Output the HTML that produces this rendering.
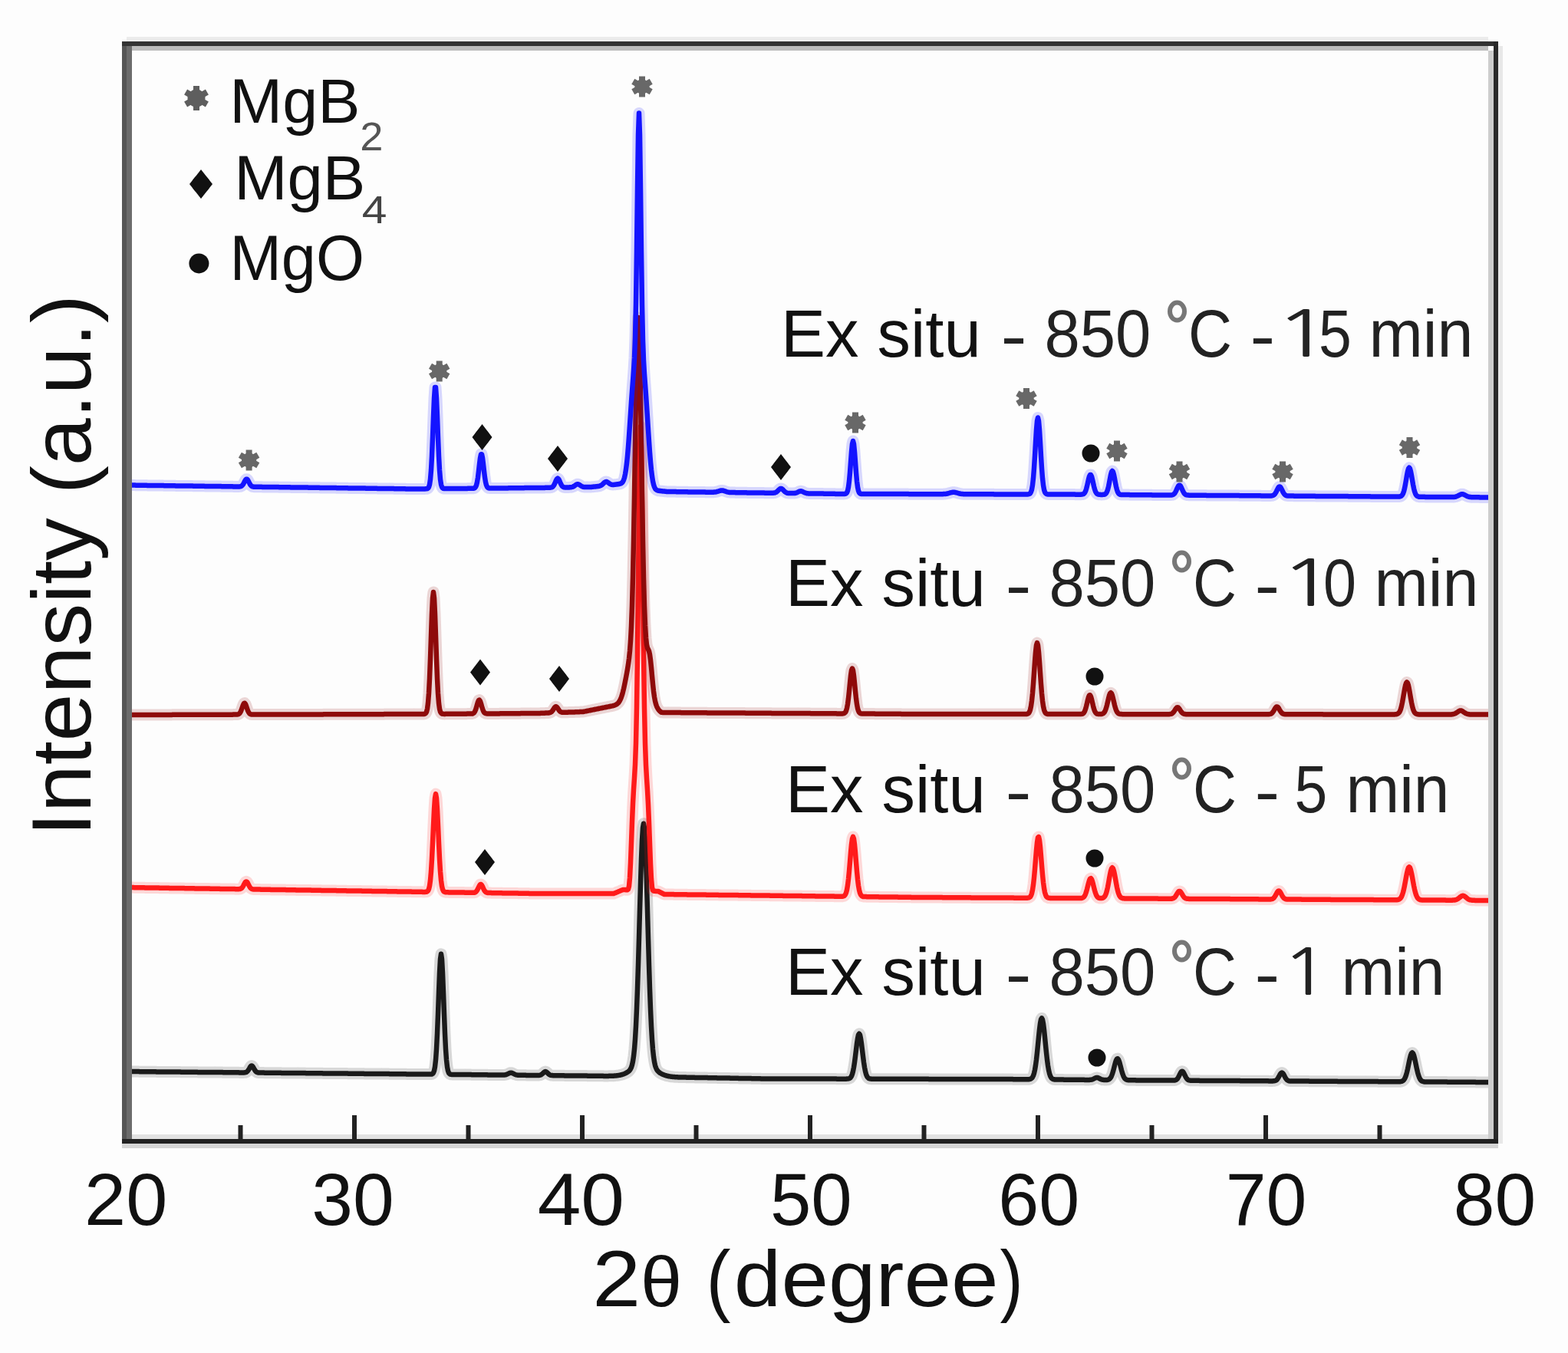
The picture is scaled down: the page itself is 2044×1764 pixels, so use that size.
<!DOCTYPE html>
<html><head><meta charset="utf-8"><title>XRD patterns</title>
<style>html,body{margin:0;padding:0;background:#fdfdfd;width:2044px;height:1764px;overflow:hidden}svg{display:block}</style>
</head><body>
<svg width="2044" height="1764" viewBox="0 0 2044 1764" font-family="'Liberation Sans', Arial, sans-serif"><rect x="0" y="0" width="2044" height="1764" fill="#fdfdfd"/><path d="M167 1397L168 1397 169 1397 170 1397 171 1397.1 172 1397.1 173 1397.1 174 1397.1 175 1397.1 176 1397.1 177 1397.1 178 1397.1 179 1397.1 180 1397.1 181 1397.1 182 1397.2 183 1397.2 184 1397.2 185 1397.2 186 1397.2 187 1397.2 188 1397.2 189 1397.2 190 1397.2 191 1397.2 192 1397.2 193 1397.3 194 1397.3 195 1397.3 196 1397.3 197 1397.3 198 1397.3 199 1397.3 200 1397.3 201 1397.3 202 1397.3 203 1397.3 204 1397.4 205 1397.4 206 1397.4 207 1397.4 208 1397.4 209 1397.4 210 1397.4 211 1397.4 212 1397.4 213 1397.4 214 1397.5 215 1397.5 216 1397.5 217 1397.5 218 1397.5 219 1397.5 220 1397.5 221 1397.5 222 1397.5 223 1397.5 224 1397.5 225 1397.6 226 1397.6 227 1397.6 228 1397.6 229 1397.6 230 1397.6 231 1397.6 232 1397.6 233 1397.6 234 1397.6 235 1397.6 236 1397.7 237 1397.7 238 1397.7 239 1397.7 240 1397.7 241 1397.7 242 1397.7 243 1397.7 244 1397.7 245 1397.7 246 1397.7 247 1397.8 248 1397.8 249 1397.8 250 1397.8 251 1397.8 252 1397.8 253 1397.8 254 1397.8 255 1397.8 256 1397.8 257 1397.8 258 1397.9 259 1397.9 260 1397.9 261 1397.9 262 1397.9 263 1397.9 264 1397.9 265 1397.9 266 1397.9 267 1397.9 268 1397.9 269 1398 270 1398 271 1398 272 1398 273 1398 274 1398 275 1398 276 1398 277 1398 278 1398 279 1398 280 1398.1 281 1398.1 282 1398.1 283 1398.1 284 1398.1 285 1398.1 286 1398.1 287 1398.1 288 1398.1 289 1398.1 290 1398.1 291 1398.2 292 1398.2 293 1398.2 294 1398.2 295 1398.2 296 1398.2 297 1398.2 298 1398.2 299 1398.2 300 1398.2 301 1398.3 302 1398.3 303 1398.3 304 1398.3 305 1398.3 306 1398.3 307 1398.3 308 1398.3 309 1398.3 310 1398.3 311 1398.3 312 1398.4 313 1398.4 314 1398.4 315 1398.4 316 1398.4 317 1398.4 318 1398.4 319 1398.3 320 1398.2 321 1397.9 322 1397.3 323 1396.3 324 1394.8 325 1393.1 326 1391.3 327 1390 328 1389.5 329 1390 330 1391.3 331 1393.1 332 1394.9 333 1396.4 334 1397.4 335 1398 336 1398.3 337 1398.5 338 1398.6 339 1398.6 340 1398.6 341 1398.6 342 1398.6 343 1398.6 344 1398.6 345 1398.7 346 1398.7 347 1398.7 348 1398.7 349 1398.7 350 1398.7 351 1398.7 352 1398.7 353 1398.7 354 1398.7 355 1398.7 356 1398.8 357 1398.8 358 1398.8 359 1398.8 360 1398.8 361 1398.8 362 1398.8 363 1398.8 364 1398.8 365 1398.8 366 1398.8 367 1398.9 368 1398.9 369 1398.9 370 1398.9 371 1398.9 372 1398.9 373 1398.9 374 1398.9 375 1398.9 376 1398.9 377 1398.9 378 1399 379 1399 380 1399 381 1399 382 1399 383 1399 384 1399 385 1399 386 1399 387 1399 388 1399.1 389 1399.1 390 1399.1 391 1399.1 392 1399.1 393 1399.1 394 1399.1 395 1399.1 396 1399.1 397 1399.1 398 1399.1 399 1399.2 400 1399.2 401 1399.2 402 1399.2 403 1399.2 404 1399.2 405 1399.2 406 1399.2 407 1399.2 408 1399.2 409 1399.2 410 1399.3 411 1399.3 412 1399.3 413 1399.3 414 1399.3 415 1399.3 416 1399.3 417 1399.3 418 1399.3 419 1399.3 420 1399.3 421 1399.4 422 1399.4 423 1399.4 424 1399.4 425 1399.4 426 1399.4 427 1399.4 428 1399.4 429 1399.4 430 1399.4 431 1399.4 432 1399.5 433 1399.5 434 1399.5 435 1399.5 436 1399.5 437 1399.5 438 1399.5 439 1399.5 440 1399.5 441 1399.5 442 1399.5 443 1399.6 444 1399.6 445 1399.6 446 1399.6 447 1399.6 448 1399.6 449 1399.6 450 1399.6 451 1399.6 452 1399.6 453 1399.6 454 1399.7 455 1399.7 456 1399.7 457 1399.7 458 1399.7 459 1399.7 460 1399.7 461 1399.7 462 1399.7 463 1399.7 464 1399.7 465 1399.8 466 1399.8 467 1399.8 468 1399.8 469 1399.8 470 1399.8 471 1399.8 472 1399.8 473 1399.8 474 1399.8 475 1399.9 476 1399.9 477 1399.9 478 1399.9 479 1399.9 480 1399.9 481 1399.9 482 1399.9 483 1399.9 484 1399.9 485 1399.9 486 1400 487 1400 488 1400 489 1400 490 1400 491 1400 492 1400 493 1400 494 1400 495 1400 496 1400 497 1400.1 498 1400.1 499 1400.1 500 1400.1 501 1400.1 502 1400.1 503 1400.1 504 1400.1 505 1400.1 506 1400.1 507 1400.1 508 1400.2 509 1400.2 510 1400.2 511 1400.2 512 1400.2 513 1400.2 514 1400.2 515 1400.2 516 1400.2 517 1400.2 518 1400.2 519 1400.3 520 1400.3 521 1400.3 522 1400.3 523 1400.3 524 1400.3 525 1400.3 526 1400.3 527 1400.3 528 1400.3 529 1400.3 530 1400.4 531 1400.4 532 1400.4 533 1400.4 534 1400.4 535 1400.4 536 1400.4 537 1400.4 538 1400.4 539 1400.4 540 1400.4 541 1400.5 542 1400.5 543 1400.5 544 1400.5 545 1400.5 546 1400.5 547 1400.5 548 1400.5 549 1400.5 550 1400.5 551 1400.5 552 1400.6 553 1400.6 554 1400.6 555 1400.6 556 1400.6 557 1400.6 558 1400.6 559 1400.6 560 1400.6 561 1400.6 562 1400.5 563 1400.4 564 1399.8 565 1398.6 566 1396 567 1390.9 568 1381.9 569 1367.7 570 1347.6 571 1322.2 572 1294.4 573 1268.7 574 1250.4 575 1243.8 576 1250.4 577 1268.8 578 1294.5 579 1322.3 580 1347.7 581 1367.8 582 1382 583 1391 584 1396.2 585 1398.8 586 1400 587 1400.6 588 1400.8 589 1400.9 590 1400.9 591 1400.9 592 1400.9 593 1400.9 594 1400.9 595 1401 596 1401 597 1401 598 1401 599 1401 600 1401 601 1401 602 1401 603 1401 604 1401 605 1401 606 1401.1 607 1401.1 608 1401.1 609 1401.1 610 1401.1 611 1401.1 612 1401.1 613 1401.1 614 1401.1 615 1401.2 616 1401.2 617 1401.2 618 1401.2 619 1401.2 620 1401.2 621 1401.2 622 1401.2 623 1401.2 624 1401.2 625 1401.2 626 1401.3 627 1401.3 628 1401.3 629 1401.3 630 1401.3 631 1401.3 632 1401.3 633 1401.3 634 1401.3 635 1401.3 636 1401.4 637 1401.4 638 1401.4 639 1401.4 640 1401.4 641 1401.4 642 1401.4 643 1401.4 644 1401.4 645 1401.4 646 1401.5 647 1401.5 648 1401.5 649 1401.5 650 1401.5 651 1401.5 652 1401.5 653 1401.5 654 1401.5 655 1401.5 656 1401.5 657 1401.5 658 1401.4 659 1401.2 660 1401 661 1400.6 662 1400.1 663 1399.6 664 1399.1 665 1398.8 666 1398.7 667 1398.8 668 1399.2 669 1399.7 670 1400.2 671 1400.7 672 1401.1 673 1401.4 674 1401.6 675 1401.7 676 1401.7 677 1401.8 678 1401.8 679 1401.8 680 1401.8 681 1401.8 682 1401.8 683 1401.8 684 1401.8 685 1401.8 686 1401.9 687 1401.9 688 1401.9 689 1401.9 690 1401.9 691 1401.9 692 1401.9 693 1401.9 694 1401.9 695 1401.9 696 1402 697 1402 698 1402 699 1402 700 1402 701 1402 702 1402 703 1401.9 704 1401.7 705 1401.4 706 1400.8 707 1400 708 1399.1 709 1398.1 710 1397.4 711 1397.1 712 1397.4 713 1398.1 714 1399.1 715 1400.1 716 1400.9 717 1401.5 718 1401.9 719 1402.1 720 1402.1 721 1402.2 722 1402.2 723 1402.2 724 1402.2 725 1402.2 726 1402.3 727 1402.3 728 1402.3 729 1402.3 730 1402.3 731 1402.3 732 1402.3 733 1402.3 734 1402.3 735 1402.3 736 1402.4 737 1402.4 738 1402.4 739 1402.4 740 1402.4 741 1402.4 742 1402.4 743 1402.4 744 1402.4 745 1402.4 746 1402.5 747 1402.5 748 1402.5 749 1402.5 750 1402.5 751 1402.5 752 1402.5 753 1402.5 754 1402.5 755 1402.5 756 1402.6 757 1402.6 758 1402.6 759 1402.6 760 1402.6 761 1402.6 762 1402.6 763 1402.6 764 1402.6 765 1402.6 766 1402.7 767 1402.7 768 1402.7 769 1402.7 770 1402.7 771 1402.7 772 1402.7 773 1402.7 774 1402.7 775 1402.7 776 1402.8 777 1402.8 778 1402.8 779 1402.8 780 1402.8 781 1402.8 782 1402.8 783 1402.8 784 1402.8 785 1402.8 786 1402.8 787 1402.9 788 1402.9 789 1402.9 790 1402.9 791 1402.9 792 1402.9 793 1402.9 794 1402.8 795 1402.8 796 1402.8 797 1402.8 798 1402.8 799 1402.7 800 1402.7 801 1402.6 802 1402.5 803 1402.4 804 1402.3 805 1402.2 806 1402.1 807 1401.9 808 1401.7 809 1401.5 810 1401.2 811 1401 812 1400.6 813 1400.3 814 1399.9 815 1399.4 816 1399 817 1398.4 818 1397.8 819 1397.1 820 1396.3 821 1395.1 822 1393.6 823 1391.5 824 1388.3 825 1383.7 826 1377.1 827 1367.7 828 1354.7 829 1337.6 830 1315.6 831 1288.8 832 1257.6 833 1223 834 1186.9 835 1151.8 836 1120.3 837 1095.3 838 1079.2 839 1073.7 840 1079.3 841 1095.4 842 1120.4 843 1151.9 844 1187.1 845 1223.2 846 1257.8 847 1289.1 848 1315.9 849 1337.9 850 1355.1 851 1368.1 852 1377.6 853 1384.2 854 1388.9 855 1392 856 1394.2 857 1395.8 858 1396.9 859 1397.8 860 1398.6 861 1399.2 862 1399.8 863 1400.3 864 1400.8 865 1401.2 866 1401.6 867 1401.9 868 1402.3 869 1402.5 870 1402.8 871 1403 872 1403.2 873 1403.4 874 1403.6 875 1403.7 876 1403.8 877 1403.9 878 1404 879 1404.1 880 1404.2 881 1404.2 882 1404.3 883 1404.3 884 1404.4 885 1404.4 886 1404.4 887 1404.5 888 1404.5 889 1404.5 890 1404.6 891 1404.6 892 1404.6 893 1404.6 894 1404.6 895 1404.7 896 1404.7 897 1404.7 898 1404.7 899 1404.7 900 1404.7 901 1404.8 902 1404.8 903 1404.8 904 1404.8 905 1404.8 906 1404.9 907 1404.9 908 1404.9 909 1404.9 910 1404.9 911 1404.9 912 1405 913 1405 914 1405 915 1405 916 1405 917 1405 918 1405.1 919 1405.1 920 1405.1 921 1405.1 922 1405.1 923 1405.2 924 1405.2 925 1405.2 926 1405.2 927 1405.2 928 1405.2 929 1405.3 930 1405.3 931 1405.3 932 1405.3 933 1405.3 934 1405.3 935 1405.4 936 1405.4 937 1405.4 938 1405.4 939 1405.4 940 1405.4 941 1405.5 942 1405.5 943 1405.5 944 1405.5 945 1405.5 946 1405.6 947 1405.6 948 1405.6 949 1405.6 950 1405.6 951 1405.6 952 1405.7 953 1405.7 954 1405.7 955 1405.7 956 1405.7 957 1405.7 958 1405.8 959 1405.8 960 1405.8 961 1405.8 962 1405.8 963 1405.9 964 1405.9 965 1405.9 966 1405.9 967 1405.9 968 1405.9 969 1406 970 1406 971 1406 972 1406 973 1406 974 1406 975 1406.1 976 1406.1 977 1406.1 978 1406.1 979 1406.1 980 1406.2 981 1406.2 982 1406.2 983 1406.2 984 1406.2 985 1406.2 986 1406.3 987 1406.3 988 1406.3 989 1406.3 990 1406.3 991 1406.3 992 1406.4 993 1406.4 994 1406.4 995 1406.4 996 1406.4 997 1406.4 998 1406.5 999 1406.5 1000 1406.5 1001 1406.5 1002 1406.5 1003 1406.5 1004 1406.5 1005 1406.5 1006 1406.5 1007 1406.5 1008 1406.5 1009 1406.5 1010 1406.5 1011 1406.5 1012 1406.5 1013 1406.5 1014 1406.5 1015 1406.5 1016 1406.5 1017 1406.5 1018 1406.5 1019 1406.5 1020 1406.5 1021 1406.5 1022 1406.5 1023 1406.5 1024 1406.5 1025 1406.5 1026 1406.5 1027 1406.5 1028 1406.5 1029 1406.5 1030 1406.5 1031 1406.6 1032 1406.6 1033 1406.6 1034 1406.6 1035 1406.6 1036 1406.6 1037 1406.6 1038 1406.6 1039 1406.6 1040 1406.6 1041 1406.6 1042 1406.6 1043 1406.6 1044 1406.6 1045 1406.6 1046 1406.6 1047 1406.6 1048 1406.6 1049 1406.6 1050 1406.6 1051 1406.6 1052 1406.6 1053 1406.6 1054 1406.6 1055 1406.6 1056 1406.6 1057 1406.6 1058 1406.6 1059 1406.6 1060 1406.6 1061 1406.6 1062 1406.6 1063 1406.6 1064 1406.6 1065 1406.6 1066 1406.6 1067 1406.6 1068 1406.6 1069 1406.6 1070 1406.6 1071 1406.6 1072 1406.6 1073 1406.6 1074 1406.6 1075 1406.6 1076 1406.6 1077 1406.6 1078 1406.6 1079 1406.6 1080 1406.6 1081 1406.6 1082 1406.6 1083 1406.6 1084 1406.6 1085 1406.6 1086 1406.6 1087 1406.6 1088 1406.6 1089 1406.6 1090 1406.6 1091 1406.7 1092 1406.7 1093 1406.7 1094 1406.7 1095 1406.7 1096 1406.7 1097 1406.7 1098 1406.7 1099 1406.7 1100 1406.7 1101 1406.7 1102 1406.7 1103 1406.7 1104 1406.6 1105 1406.6 1106 1406.4 1107 1406.1 1108 1405.6 1109 1404.6 1110 1403 1111 1400.4 1112 1396.7 1113 1391.5 1114 1384.9 1115 1377.2 1116 1368.8 1117 1360.7 1118 1353.9 1119 1349.3 1120 1347.7 1121 1349.3 1122 1353.9 1123 1360.7 1124 1368.8 1125 1377.2 1126 1385 1127 1391.5 1128 1396.7 1129 1400.5 1130 1403 1131 1404.7 1132 1405.6 1133 1406.2 1134 1406.5 1135 1406.6 1136 1406.7 1137 1406.7 1138 1406.7 1139 1406.7 1140 1406.7 1141 1406.7 1142 1406.7 1143 1406.7 1144 1406.7 1145 1406.7 1146 1406.7 1147 1406.7 1148 1406.7 1149 1406.7 1150 1406.7 1151 1406.8 1152 1406.8 1153 1406.8 1154 1406.8 1155 1406.8 1156 1406.8 1157 1406.8 1158 1406.8 1159 1406.8 1160 1406.8 1161 1406.8 1162 1406.8 1163 1406.8 1164 1406.8 1165 1406.8 1166 1406.8 1167 1406.8 1168 1406.8 1169 1406.8 1170 1406.8 1171 1406.8 1172 1406.8 1173 1406.8 1174 1406.8 1175 1406.8 1176 1406.8 1177 1406.8 1178 1406.8 1179 1406.8 1180 1406.8 1181 1406.8 1182 1406.8 1183 1406.8 1184 1406.8 1185 1406.8 1186 1406.8 1187 1406.8 1188 1406.8 1189 1406.8 1190 1406.8 1191 1406.8 1192 1406.8 1193 1406.8 1194 1406.8 1195 1406.8 1196 1406.8 1197 1406.8 1198 1406.8 1199 1406.8 1200 1406.8 1201 1406.8 1202 1406.8 1203 1406.8 1204 1406.8 1205 1406.8 1206 1406.8 1207 1406.8 1208 1406.8 1209 1406.8 1210 1406.8 1211 1406.9 1212 1406.9 1213 1406.9 1214 1406.9 1215 1406.9 1216 1406.9 1217 1406.9 1218 1406.9 1219 1406.9 1220 1406.9 1221 1406.9 1222 1406.9 1223 1406.9 1224 1406.9 1225 1406.9 1226 1406.9 1227 1406.9 1228 1406.9 1229 1406.9 1230 1406.9 1231 1406.9 1232 1406.9 1233 1406.9 1234 1406.9 1235 1406.9 1236 1406.9 1237 1406.9 1238 1406.9 1239 1406.9 1240 1406.9 1241 1406.9 1242 1406.9 1243 1406.9 1244 1406.9 1245 1406.9 1246 1406.9 1247 1406.9 1248 1406.9 1249 1406.9 1250 1406.9 1251 1406.9 1252 1406.9 1253 1406.9 1254 1406.9 1255 1406.9 1256 1406.9 1257 1406.9 1258 1406.9 1259 1406.9 1260 1406.9 1261 1406.9 1262 1406.9 1263 1406.9 1264 1406.9 1265 1406.9 1266 1406.9 1267 1406.9 1268 1406.9 1269 1406.9 1270 1407 1271 1407 1272 1407 1273 1407 1274 1407 1275 1407 1276 1407 1277 1407 1278 1407 1279 1407 1280 1407 1281 1407 1282 1407 1283 1407 1284 1407 1285 1407 1286 1407 1287 1407 1288 1407 1289 1407 1290 1407 1291 1407 1292 1407 1293 1407 1294 1407 1295 1407 1296 1407 1297 1407 1298 1407 1299 1407 1300 1407 1301 1407 1302 1407 1303 1407 1304 1407 1305 1407 1306 1407 1307 1407.1 1308 1407.1 1309 1407.1 1310 1407.1 1311 1407.1 1312 1407.1 1313 1407.1 1314 1407.1 1315 1407.1 1316 1407.1 1317 1407.1 1318 1407.1 1319 1407.1 1320 1407.1 1321 1407.2 1322 1407.2 1323 1407.2 1324 1407.2 1325 1407.2 1326 1407.2 1327 1407.2 1328 1407.2 1329 1407.2 1330 1407.2 1331 1407.2 1332 1407.2 1333 1407.2 1334 1407.3 1335 1407.3 1336 1407.3 1337 1407.3 1338 1407.3 1339 1407.3 1340 1407.3 1341 1407.2 1342 1407.1 1343 1406.9 1344 1406.4 1345 1405.7 1346 1404.4 1347 1402.4 1348 1399.3 1349 1394.9 1350 1388.9 1351 1381.4 1352 1372.3 1353 1362.3 1354 1352 1355 1342.3 1356 1334.4 1357 1329.2 1358 1327.4 1359 1329.3 1360 1334.5 1361 1342.4 1362 1352 1363 1362.4 1364 1372.4 1365 1381.5 1366 1389 1367 1395 1368 1399.4 1369 1402.5 1370 1404.6 1371 1405.9 1372 1406.6 1373 1407.1 1374 1407.3 1375 1407.5 1376 1407.5 1377 1407.6 1378 1407.6 1379 1407.6 1380 1407.6 1381 1407.6 1382 1407.6 1383 1407.6 1384 1407.6 1385 1407.6 1386 1407.6 1387 1407.7 1388 1407.7 1389 1407.7 1390 1407.7 1391 1407.7 1392 1407.7 1393 1407.7 1394 1407.7 1395 1407.7 1396 1407.7 1397 1407.7 1398 1407.7 1399 1407.7 1400 1407.8 1401 1407.8 1402 1407.8 1403 1407.8 1404 1407.8 1405 1407.8 1406 1407.8 1407 1407.8 1408 1407.8 1409 1407.8 1410 1407.8 1411 1407.8 1412 1407.8 1413 1407.8 1414 1407.9 1415 1407.9 1416 1407.9 1417 1407.9 1418 1407.9 1419 1407.9 1420 1407.9 1421 1407.8 1422 1407.7 1423 1407.6 1424 1407.3 1425 1406.9 1426 1406.4 1427 1405.9 1428 1405.4 1429 1405.1 1430 1405 1431 1405.1 1432 1405.5 1433 1406 1434 1406.5 1435 1407 1436 1407.4 1437 1407.7 1438 1407.8 1439 1407.9 1440 1408 1441 1408 1442 1408 1443 1407.9 1444 1407.8 1445 1407.5 1446 1406.9 1447 1406 1448 1404.7 1449 1402.7 1450 1400.1 1451 1396.8 1452 1393 1453 1389 1454 1385.3 1455 1382.3 1456 1380.5 1457 1380.2 1458 1381.5 1459 1384 1460 1387.5 1461 1391.4 1462 1395.4 1463 1398.9 1464 1401.8 1465 1404.1 1466 1405.7 1467 1406.8 1468 1407.4 1469 1407.8 1470 1408.1 1471 1408.2 1472 1408.2 1473 1408.3 1474 1408.3 1475 1408.3 1476 1408.3 1477 1408.3 1478 1408.3 1479 1408.3 1480 1408.3 1481 1408.4 1482 1408.4 1483 1408.4 1484 1408.4 1485 1408.4 1486 1408.4 1487 1408.4 1488 1408.4 1489 1408.4 1490 1408.4 1491 1408.4 1492 1408.4 1493 1408.4 1494 1408.5 1495 1408.5 1496 1408.5 1497 1408.5 1498 1408.5 1499 1408.5 1500 1408.5 1501 1408.5 1502 1408.5 1503 1408.5 1504 1408.5 1505 1408.5 1506 1408.5 1507 1408.5 1508 1408.5 1509 1408.5 1510 1408.6 1511 1408.6 1512 1408.6 1513 1408.6 1514 1408.6 1515 1408.6 1516 1408.6 1517 1408.6 1518 1408.6 1519 1408.6 1520 1408.6 1521 1408.6 1522 1408.6 1523 1408.6 1524 1408.6 1525 1408.6 1526 1408.6 1527 1408.6 1528 1408.6 1529 1408.6 1530 1408.6 1531 1408.5 1532 1408.3 1533 1407.9 1534 1407.3 1535 1406.2 1536 1404.6 1537 1402.7 1538 1400.6 1539 1398.6 1540 1397.2 1541 1396.7 1542 1397.2 1543 1398.6 1544 1400.6 1545 1402.8 1546 1404.7 1547 1406.2 1548 1407.3 1549 1408 1550 1408.4 1551 1408.6 1552 1408.7 1553 1408.8 1554 1408.8 1555 1408.8 1556 1408.8 1557 1408.8 1558 1408.8 1559 1408.8 1560 1408.8 1561 1408.8 1562 1408.8 1563 1408.8 1564 1408.9 1565 1408.9 1566 1408.9 1567 1408.9 1568 1408.9 1569 1408.9 1570 1408.9 1571 1408.9 1572 1408.9 1573 1408.9 1574 1408.9 1575 1408.9 1576 1408.9 1577 1408.9 1578 1408.9 1579 1408.9 1580 1408.9 1581 1409 1582 1409 1583 1409 1584 1409 1585 1409 1586 1409 1587 1409 1588 1409 1589 1409 1590 1409 1591 1409 1592 1409 1593 1409 1594 1409 1595 1409 1596 1409 1597 1409 1598 1409 1599 1409 1600 1409.1 1601 1409.1 1602 1409.1 1603 1409.1 1604 1409.1 1605 1409.1 1606 1409.1 1607 1409.1 1608 1409.1 1609 1409.1 1610 1409.1 1611 1409.1 1612 1409.1 1613 1409.1 1614 1409.1 1615 1409.1 1616 1409.1 1617 1409.2 1618 1409.2 1619 1409.2 1620 1409.2 1621 1409.2 1622 1409.2 1623 1409.2 1624 1409.2 1625 1409.2 1626 1409.2 1627 1409.2 1628 1409.2 1629 1409.2 1630 1409.2 1631 1409.2 1632 1409.2 1633 1409.2 1634 1409.2 1635 1409.2 1636 1409.3 1637 1409.3 1638 1409.3 1639 1409.3 1640 1409.3 1641 1409.3 1642 1409.3 1643 1409.3 1644 1409.3 1645 1409.3 1646 1409.3 1647 1409.3 1648 1409.3 1649 1409.3 1650 1409.3 1651 1409.3 1652 1409.3 1653 1409.3 1654 1409.4 1655 1409.4 1656 1409.4 1657 1409.4 1658 1409.4 1659 1409.4 1660 1409.3 1661 1409.2 1662 1409.1 1663 1408.7 1664 1408.1 1665 1407.1 1666 1405.7 1667 1403.9 1668 1402 1669 1400.2 1670 1398.9 1671 1398.5 1672 1398.9 1673 1400.2 1674 1402 1675 1404 1676 1405.8 1677 1407.2 1678 1408.2 1679 1408.8 1680 1409.2 1681 1409.4 1682 1409.5 1683 1409.5 1684 1409.5 1685 1409.5 1686 1409.5 1687 1409.5 1688 1409.5 1689 1409.5 1690 1409.6 1691 1409.6 1692 1409.6 1693 1409.6 1694 1409.6 1695 1409.6 1696 1409.6 1697 1409.6 1698 1409.6 1699 1409.6 1700 1409.6 1701 1409.6 1702 1409.6 1703 1409.6 1704 1409.6 1705 1409.6 1706 1409.6 1707 1409.7 1708 1409.7 1709 1409.7 1710 1409.7 1711 1409.7 1712 1409.7 1713 1409.7 1714 1409.7 1715 1409.7 1716 1409.7 1717 1409.7 1718 1409.7 1719 1409.7 1720 1409.7 1721 1409.7 1722 1409.7 1723 1409.7 1724 1409.7 1725 1409.8 1726 1409.8 1727 1409.8 1728 1409.8 1729 1409.8 1730 1409.8 1731 1409.8 1732 1409.8 1733 1409.8 1734 1409.8 1735 1409.8 1736 1409.8 1737 1409.8 1738 1409.8 1739 1409.8 1740 1409.8 1741 1409.8 1742 1409.8 1743 1409.8 1744 1409.9 1745 1409.9 1746 1409.9 1747 1409.9 1748 1409.9 1749 1409.9 1750 1409.9 1751 1409.9 1752 1409.9 1753 1409.9 1754 1409.9 1755 1409.9 1756 1409.9 1757 1409.9 1758 1409.9 1759 1409.9 1760 1409.9 1761 1410 1762 1410 1763 1410 1764 1410 1765 1410 1766 1410 1767 1410 1768 1410 1769 1410 1770 1410 1771 1410 1772 1410 1773 1410 1774 1410 1775 1410 1776 1410 1777 1410 1778 1410 1779 1410 1780 1410.1 1781 1410.1 1782 1410.1 1783 1410.1 1784 1410.1 1785 1410.1 1786 1410.1 1787 1410.1 1788 1410.1 1789 1410.1 1790 1410.1 1791 1410.1 1792 1410.1 1793 1410.1 1794 1410.1 1795 1410.1 1796 1410.1 1797 1410.2 1798 1410.2 1799 1410.2 1800 1410.2 1801 1410.2 1802 1410.2 1803 1410.2 1804 1410.2 1805 1410.2 1806 1410.2 1807 1410.2 1808 1410.2 1809 1410.2 1810 1410.2 1811 1410.2 1812 1410.2 1813 1410.2 1814 1410.2 1815 1410.2 1816 1410.3 1817 1410.3 1818 1410.3 1819 1410.3 1820 1410.3 1821 1410.3 1822 1410.3 1823 1410.3 1824 1410.2 1825 1410.2 1826 1410.1 1827 1409.9 1828 1409.5 1829 1408.9 1830 1408 1831 1406.5 1832 1404.4 1833 1401.6 1834 1398 1835 1393.7 1836 1388.9 1837 1384 1838 1379.5 1839 1375.7 1840 1373.2 1841 1372.4 1842 1373.3 1843 1375.7 1844 1379.5 1845 1384.1 1846 1389 1847 1393.8 1848 1398.1 1849 1401.7 1850 1404.5 1851 1406.6 1852 1408.1 1853 1409.1 1854 1409.7 1855 1410 1856 1410.3 1857 1410.4 1858 1410.4 1859 1410.5 1860 1410.5 1861 1410.5 1862 1410.5 1863 1410.5 1864 1410.5 1865 1410.5 1866 1410.5 1867 1410.5 1868 1410.5 1869 1410.5 1870 1410.6 1871 1410.6 1872 1410.6 1873 1410.6 1874 1410.6 1875 1410.6 1876 1410.6 1877 1410.6 1878 1410.6 1879 1410.6 1880 1410.6 1881 1410.6 1882 1410.6 1883 1410.6 1884 1410.6 1885 1410.6 1886 1410.6 1887 1410.7 1888 1410.7 1889 1410.7 1890 1410.7 1891 1410.7 1892 1410.7 1893 1410.7 1894 1410.7 1895 1410.7 1896 1410.7 1897 1410.7 1898 1410.7 1899 1410.7 1900 1410.7 1901 1410.7 1902 1410.7 1903 1410.7 1904 1410.7 1905 1410.8 1906 1410.8 1907 1410.8 1908 1410.8 1909 1410.8 1910 1410.8 1911 1410.8 1912 1410.8 1913 1410.8 1914 1410.8 1915 1410.8 1916 1410.8 1917 1410.8 1918 1410.8 1919 1410.8 1920 1410.8 1921 1410.8 1922 1410.8 1923 1410.8 1924 1410.9 1925 1410.9 1926 1410.9 1927 1410.9 1928 1410.9 1929 1410.9 1930 1410.9 1931 1410.9 1932 1410.9 1933 1410.9 1934 1410.9 1935 1410.9 1936 1410.9 1937 1410.9 1938 1410.9 1939 1410.9 1940 1410.9 1941 1411 1942 1411 1943 1411 1944 1411 1945 1411 1946 1411" fill="none" stroke="#1a1a1a" stroke-opacity="0.16" stroke-width="15" stroke-linejoin="round"/><path d="M167 1397L168 1397 169 1397 170 1397 171 1397.1 172 1397.1 173 1397.1 174 1397.1 175 1397.1 176 1397.1 177 1397.1 178 1397.1 179 1397.1 180 1397.1 181 1397.1 182 1397.2 183 1397.2 184 1397.2 185 1397.2 186 1397.2 187 1397.2 188 1397.2 189 1397.2 190 1397.2 191 1397.2 192 1397.2 193 1397.3 194 1397.3 195 1397.3 196 1397.3 197 1397.3 198 1397.3 199 1397.3 200 1397.3 201 1397.3 202 1397.3 203 1397.3 204 1397.4 205 1397.4 206 1397.4 207 1397.4 208 1397.4 209 1397.4 210 1397.4 211 1397.4 212 1397.4 213 1397.4 214 1397.5 215 1397.5 216 1397.5 217 1397.5 218 1397.5 219 1397.5 220 1397.5 221 1397.5 222 1397.5 223 1397.5 224 1397.5 225 1397.6 226 1397.6 227 1397.6 228 1397.6 229 1397.6 230 1397.6 231 1397.6 232 1397.6 233 1397.6 234 1397.6 235 1397.6 236 1397.7 237 1397.7 238 1397.7 239 1397.7 240 1397.7 241 1397.7 242 1397.7 243 1397.7 244 1397.7 245 1397.7 246 1397.7 247 1397.8 248 1397.8 249 1397.8 250 1397.8 251 1397.8 252 1397.8 253 1397.8 254 1397.8 255 1397.8 256 1397.8 257 1397.8 258 1397.9 259 1397.9 260 1397.9 261 1397.9 262 1397.9 263 1397.9 264 1397.9 265 1397.9 266 1397.9 267 1397.9 268 1397.9 269 1398 270 1398 271 1398 272 1398 273 1398 274 1398 275 1398 276 1398 277 1398 278 1398 279 1398 280 1398.1 281 1398.1 282 1398.1 283 1398.1 284 1398.1 285 1398.1 286 1398.1 287 1398.1 288 1398.1 289 1398.1 290 1398.1 291 1398.2 292 1398.2 293 1398.2 294 1398.2 295 1398.2 296 1398.2 297 1398.2 298 1398.2 299 1398.2 300 1398.2 301 1398.3 302 1398.3 303 1398.3 304 1398.3 305 1398.3 306 1398.3 307 1398.3 308 1398.3 309 1398.3 310 1398.3 311 1398.3 312 1398.4 313 1398.4 314 1398.4 315 1398.4 316 1398.4 317 1398.4 318 1398.4 319 1398.3 320 1398.2 321 1397.9 322 1397.3 323 1396.3 324 1394.8 325 1393.1 326 1391.3 327 1390 328 1389.5 329 1390 330 1391.3 331 1393.1 332 1394.9 333 1396.4 334 1397.4 335 1398 336 1398.3 337 1398.5 338 1398.6 339 1398.6 340 1398.6 341 1398.6 342 1398.6 343 1398.6 344 1398.6 345 1398.7 346 1398.7 347 1398.7 348 1398.7 349 1398.7 350 1398.7 351 1398.7 352 1398.7 353 1398.7 354 1398.7 355 1398.7 356 1398.8 357 1398.8 358 1398.8 359 1398.8 360 1398.8 361 1398.8 362 1398.8 363 1398.8 364 1398.8 365 1398.8 366 1398.8 367 1398.9 368 1398.9 369 1398.9 370 1398.9 371 1398.9 372 1398.9 373 1398.9 374 1398.9 375 1398.9 376 1398.9 377 1398.9 378 1399 379 1399 380 1399 381 1399 382 1399 383 1399 384 1399 385 1399 386 1399 387 1399 388 1399.1 389 1399.1 390 1399.1 391 1399.1 392 1399.1 393 1399.1 394 1399.1 395 1399.1 396 1399.1 397 1399.1 398 1399.1 399 1399.2 400 1399.2 401 1399.2 402 1399.2 403 1399.2 404 1399.2 405 1399.2 406 1399.2 407 1399.2 408 1399.2 409 1399.2 410 1399.3 411 1399.3 412 1399.3 413 1399.3 414 1399.3 415 1399.3 416 1399.3 417 1399.3 418 1399.3 419 1399.3 420 1399.3 421 1399.4 422 1399.4 423 1399.4 424 1399.4 425 1399.4 426 1399.4 427 1399.4 428 1399.4 429 1399.4 430 1399.4 431 1399.4 432 1399.5 433 1399.5 434 1399.5 435 1399.5 436 1399.5 437 1399.5 438 1399.5 439 1399.5 440 1399.5 441 1399.5 442 1399.5 443 1399.6 444 1399.6 445 1399.6 446 1399.6 447 1399.6 448 1399.6 449 1399.6 450 1399.6 451 1399.6 452 1399.6 453 1399.6 454 1399.7 455 1399.7 456 1399.7 457 1399.7 458 1399.7 459 1399.7 460 1399.7 461 1399.7 462 1399.7 463 1399.7 464 1399.7 465 1399.8 466 1399.8 467 1399.8 468 1399.8 469 1399.8 470 1399.8 471 1399.8 472 1399.8 473 1399.8 474 1399.8 475 1399.9 476 1399.9 477 1399.9 478 1399.9 479 1399.9 480 1399.9 481 1399.9 482 1399.9 483 1399.9 484 1399.9 485 1399.9 486 1400 487 1400 488 1400 489 1400 490 1400 491 1400 492 1400 493 1400 494 1400 495 1400 496 1400 497 1400.1 498 1400.1 499 1400.1 500 1400.1 501 1400.1 502 1400.1 503 1400.1 504 1400.1 505 1400.1 506 1400.1 507 1400.1 508 1400.2 509 1400.2 510 1400.2 511 1400.2 512 1400.2 513 1400.2 514 1400.2 515 1400.2 516 1400.2 517 1400.2 518 1400.2 519 1400.3 520 1400.3 521 1400.3 522 1400.3 523 1400.3 524 1400.3 525 1400.3 526 1400.3 527 1400.3 528 1400.3 529 1400.3 530 1400.4 531 1400.4 532 1400.4 533 1400.4 534 1400.4 535 1400.4 536 1400.4 537 1400.4 538 1400.4 539 1400.4 540 1400.4 541 1400.5 542 1400.5 543 1400.5 544 1400.5 545 1400.5 546 1400.5 547 1400.5 548 1400.5 549 1400.5 550 1400.5 551 1400.5 552 1400.6 553 1400.6 554 1400.6 555 1400.6 556 1400.6 557 1400.6 558 1400.6 559 1400.6 560 1400.6 561 1400.6 562 1400.5 563 1400.4 564 1399.8 565 1398.6 566 1396 567 1390.9 568 1381.9 569 1367.7 570 1347.6 571 1322.2 572 1294.4 573 1268.7 574 1250.4 575 1243.8 576 1250.4 577 1268.8 578 1294.5 579 1322.3 580 1347.7 581 1367.8 582 1382 583 1391 584 1396.2 585 1398.8 586 1400 587 1400.6 588 1400.8 589 1400.9 590 1400.9 591 1400.9 592 1400.9 593 1400.9 594 1400.9 595 1401 596 1401 597 1401 598 1401 599 1401 600 1401 601 1401 602 1401 603 1401 604 1401 605 1401 606 1401.1 607 1401.1 608 1401.1 609 1401.1 610 1401.1 611 1401.1 612 1401.1 613 1401.1 614 1401.1 615 1401.2 616 1401.2 617 1401.2 618 1401.2 619 1401.2 620 1401.2 621 1401.2 622 1401.2 623 1401.2 624 1401.2 625 1401.2 626 1401.3 627 1401.3 628 1401.3 629 1401.3 630 1401.3 631 1401.3 632 1401.3 633 1401.3 634 1401.3 635 1401.3 636 1401.4 637 1401.4 638 1401.4 639 1401.4 640 1401.4 641 1401.4 642 1401.4 643 1401.4 644 1401.4 645 1401.4 646 1401.5 647 1401.5 648 1401.5 649 1401.5 650 1401.5 651 1401.5 652 1401.5 653 1401.5 654 1401.5 655 1401.5 656 1401.5 657 1401.5 658 1401.4 659 1401.2 660 1401 661 1400.6 662 1400.1 663 1399.6 664 1399.1 665 1398.8 666 1398.7 667 1398.8 668 1399.2 669 1399.7 670 1400.2 671 1400.7 672 1401.1 673 1401.4 674 1401.6 675 1401.7 676 1401.7 677 1401.8 678 1401.8 679 1401.8 680 1401.8 681 1401.8 682 1401.8 683 1401.8 684 1401.8 685 1401.8 686 1401.9 687 1401.9 688 1401.9 689 1401.9 690 1401.9 691 1401.9 692 1401.9 693 1401.9 694 1401.9 695 1401.9 696 1402 697 1402 698 1402 699 1402 700 1402 701 1402 702 1402 703 1401.9 704 1401.7 705 1401.4 706 1400.8 707 1400 708 1399.1 709 1398.1 710 1397.4 711 1397.1 712 1397.4 713 1398.1 714 1399.1 715 1400.1 716 1400.9 717 1401.5 718 1401.9 719 1402.1 720 1402.1 721 1402.2 722 1402.2 723 1402.2 724 1402.2 725 1402.2 726 1402.3 727 1402.3 728 1402.3 729 1402.3 730 1402.3 731 1402.3 732 1402.3 733 1402.3 734 1402.3 735 1402.3 736 1402.4 737 1402.4 738 1402.4 739 1402.4 740 1402.4 741 1402.4 742 1402.4 743 1402.4 744 1402.4 745 1402.4 746 1402.5 747 1402.5 748 1402.5 749 1402.5 750 1402.5 751 1402.5 752 1402.5 753 1402.5 754 1402.5 755 1402.5 756 1402.6 757 1402.6 758 1402.6 759 1402.6 760 1402.6 761 1402.6 762 1402.6 763 1402.6 764 1402.6 765 1402.6 766 1402.7 767 1402.7 768 1402.7 769 1402.7 770 1402.7 771 1402.7 772 1402.7 773 1402.7 774 1402.7 775 1402.7 776 1402.8 777 1402.8 778 1402.8 779 1402.8 780 1402.8 781 1402.8 782 1402.8 783 1402.8 784 1402.8 785 1402.8 786 1402.8 787 1402.9 788 1402.9 789 1402.9 790 1402.9 791 1402.9 792 1402.9 793 1402.9 794 1402.8 795 1402.8 796 1402.8 797 1402.8 798 1402.8 799 1402.7 800 1402.7 801 1402.6 802 1402.5 803 1402.4 804 1402.3 805 1402.2 806 1402.1 807 1401.9 808 1401.7 809 1401.5 810 1401.2 811 1401 812 1400.6 813 1400.3 814 1399.9 815 1399.4 816 1399 817 1398.4 818 1397.8 819 1397.1 820 1396.3 821 1395.1 822 1393.6 823 1391.5 824 1388.3 825 1383.7 826 1377.1 827 1367.7 828 1354.7 829 1337.6 830 1315.6 831 1288.8 832 1257.6 833 1223 834 1186.9 835 1151.8 836 1120.3 837 1095.3 838 1079.2 839 1073.7 840 1079.3 841 1095.4 842 1120.4 843 1151.9 844 1187.1 845 1223.2 846 1257.8 847 1289.1 848 1315.9 849 1337.9 850 1355.1 851 1368.1 852 1377.6 853 1384.2 854 1388.9 855 1392 856 1394.2 857 1395.8 858 1396.9 859 1397.8 860 1398.6 861 1399.2 862 1399.8 863 1400.3 864 1400.8 865 1401.2 866 1401.6 867 1401.9 868 1402.3 869 1402.5 870 1402.8 871 1403 872 1403.2 873 1403.4 874 1403.6 875 1403.7 876 1403.8 877 1403.9 878 1404 879 1404.1 880 1404.2 881 1404.2 882 1404.3 883 1404.3 884 1404.4 885 1404.4 886 1404.4 887 1404.5 888 1404.5 889 1404.5 890 1404.6 891 1404.6 892 1404.6 893 1404.6 894 1404.6 895 1404.7 896 1404.7 897 1404.7 898 1404.7 899 1404.7 900 1404.7 901 1404.8 902 1404.8 903 1404.8 904 1404.8 905 1404.8 906 1404.9 907 1404.9 908 1404.9 909 1404.9 910 1404.9 911 1404.9 912 1405 913 1405 914 1405 915 1405 916 1405 917 1405 918 1405.1 919 1405.1 920 1405.1 921 1405.1 922 1405.1 923 1405.2 924 1405.2 925 1405.2 926 1405.2 927 1405.2 928 1405.2 929 1405.3 930 1405.3 931 1405.3 932 1405.3 933 1405.3 934 1405.3 935 1405.4 936 1405.4 937 1405.4 938 1405.4 939 1405.4 940 1405.4 941 1405.5 942 1405.5 943 1405.5 944 1405.5 945 1405.5 946 1405.6 947 1405.6 948 1405.6 949 1405.6 950 1405.6 951 1405.6 952 1405.7 953 1405.7 954 1405.7 955 1405.7 956 1405.7 957 1405.7 958 1405.8 959 1405.8 960 1405.8 961 1405.8 962 1405.8 963 1405.9 964 1405.9 965 1405.9 966 1405.9 967 1405.9 968 1405.9 969 1406 970 1406 971 1406 972 1406 973 1406 974 1406 975 1406.1 976 1406.1 977 1406.1 978 1406.1 979 1406.1 980 1406.2 981 1406.2 982 1406.2 983 1406.2 984 1406.2 985 1406.2 986 1406.3 987 1406.3 988 1406.3 989 1406.3 990 1406.3 991 1406.3 992 1406.4 993 1406.4 994 1406.4 995 1406.4 996 1406.4 997 1406.4 998 1406.5 999 1406.5 1000 1406.5 1001 1406.5 1002 1406.5 1003 1406.5 1004 1406.5 1005 1406.5 1006 1406.5 1007 1406.5 1008 1406.5 1009 1406.5 1010 1406.5 1011 1406.5 1012 1406.5 1013 1406.5 1014 1406.5 1015 1406.5 1016 1406.5 1017 1406.5 1018 1406.5 1019 1406.5 1020 1406.5 1021 1406.5 1022 1406.5 1023 1406.5 1024 1406.5 1025 1406.5 1026 1406.5 1027 1406.5 1028 1406.5 1029 1406.5 1030 1406.5 1031 1406.6 1032 1406.6 1033 1406.6 1034 1406.6 1035 1406.6 1036 1406.6 1037 1406.6 1038 1406.6 1039 1406.6 1040 1406.6 1041 1406.6 1042 1406.6 1043 1406.6 1044 1406.6 1045 1406.6 1046 1406.6 1047 1406.6 1048 1406.6 1049 1406.6 1050 1406.6 1051 1406.6 1052 1406.6 1053 1406.6 1054 1406.6 1055 1406.6 1056 1406.6 1057 1406.6 1058 1406.6 1059 1406.6 1060 1406.6 1061 1406.6 1062 1406.6 1063 1406.6 1064 1406.6 1065 1406.6 1066 1406.6 1067 1406.6 1068 1406.6 1069 1406.6 1070 1406.6 1071 1406.6 1072 1406.6 1073 1406.6 1074 1406.6 1075 1406.6 1076 1406.6 1077 1406.6 1078 1406.6 1079 1406.6 1080 1406.6 1081 1406.6 1082 1406.6 1083 1406.6 1084 1406.6 1085 1406.6 1086 1406.6 1087 1406.6 1088 1406.6 1089 1406.6 1090 1406.6 1091 1406.7 1092 1406.7 1093 1406.7 1094 1406.7 1095 1406.7 1096 1406.7 1097 1406.7 1098 1406.7 1099 1406.7 1100 1406.7 1101 1406.7 1102 1406.7 1103 1406.7 1104 1406.6 1105 1406.6 1106 1406.4 1107 1406.1 1108 1405.6 1109 1404.6 1110 1403 1111 1400.4 1112 1396.7 1113 1391.5 1114 1384.9 1115 1377.2 1116 1368.8 1117 1360.7 1118 1353.9 1119 1349.3 1120 1347.7 1121 1349.3 1122 1353.9 1123 1360.7 1124 1368.8 1125 1377.2 1126 1385 1127 1391.5 1128 1396.7 1129 1400.5 1130 1403 1131 1404.7 1132 1405.6 1133 1406.2 1134 1406.5 1135 1406.6 1136 1406.7 1137 1406.7 1138 1406.7 1139 1406.7 1140 1406.7 1141 1406.7 1142 1406.7 1143 1406.7 1144 1406.7 1145 1406.7 1146 1406.7 1147 1406.7 1148 1406.7 1149 1406.7 1150 1406.7 1151 1406.8 1152 1406.8 1153 1406.8 1154 1406.8 1155 1406.8 1156 1406.8 1157 1406.8 1158 1406.8 1159 1406.8 1160 1406.8 1161 1406.8 1162 1406.8 1163 1406.8 1164 1406.8 1165 1406.8 1166 1406.8 1167 1406.8 1168 1406.8 1169 1406.8 1170 1406.8 1171 1406.8 1172 1406.8 1173 1406.8 1174 1406.8 1175 1406.8 1176 1406.8 1177 1406.8 1178 1406.8 1179 1406.8 1180 1406.8 1181 1406.8 1182 1406.8 1183 1406.8 1184 1406.8 1185 1406.8 1186 1406.8 1187 1406.8 1188 1406.8 1189 1406.8 1190 1406.8 1191 1406.8 1192 1406.8 1193 1406.8 1194 1406.8 1195 1406.8 1196 1406.8 1197 1406.8 1198 1406.8 1199 1406.8 1200 1406.8 1201 1406.8 1202 1406.8 1203 1406.8 1204 1406.8 1205 1406.8 1206 1406.8 1207 1406.8 1208 1406.8 1209 1406.8 1210 1406.8 1211 1406.9 1212 1406.9 1213 1406.9 1214 1406.9 1215 1406.9 1216 1406.9 1217 1406.9 1218 1406.9 1219 1406.9 1220 1406.9 1221 1406.9 1222 1406.9 1223 1406.9 1224 1406.9 1225 1406.9 1226 1406.9 1227 1406.9 1228 1406.9 1229 1406.9 1230 1406.9 1231 1406.9 1232 1406.9 1233 1406.9 1234 1406.9 1235 1406.9 1236 1406.9 1237 1406.9 1238 1406.9 1239 1406.9 1240 1406.9 1241 1406.9 1242 1406.9 1243 1406.9 1244 1406.9 1245 1406.9 1246 1406.9 1247 1406.9 1248 1406.9 1249 1406.9 1250 1406.9 1251 1406.9 1252 1406.9 1253 1406.9 1254 1406.9 1255 1406.9 1256 1406.9 1257 1406.9 1258 1406.9 1259 1406.9 1260 1406.9 1261 1406.9 1262 1406.9 1263 1406.9 1264 1406.9 1265 1406.9 1266 1406.9 1267 1406.9 1268 1406.9 1269 1406.9 1270 1407 1271 1407 1272 1407 1273 1407 1274 1407 1275 1407 1276 1407 1277 1407 1278 1407 1279 1407 1280 1407 1281 1407 1282 1407 1283 1407 1284 1407 1285 1407 1286 1407 1287 1407 1288 1407 1289 1407 1290 1407 1291 1407 1292 1407 1293 1407 1294 1407 1295 1407 1296 1407 1297 1407 1298 1407 1299 1407 1300 1407 1301 1407 1302 1407 1303 1407 1304 1407 1305 1407 1306 1407 1307 1407.1 1308 1407.1 1309 1407.1 1310 1407.1 1311 1407.1 1312 1407.1 1313 1407.1 1314 1407.1 1315 1407.1 1316 1407.1 1317 1407.1 1318 1407.1 1319 1407.1 1320 1407.1 1321 1407.2 1322 1407.2 1323 1407.2 1324 1407.2 1325 1407.2 1326 1407.2 1327 1407.2 1328 1407.2 1329 1407.2 1330 1407.2 1331 1407.2 1332 1407.2 1333 1407.2 1334 1407.3 1335 1407.3 1336 1407.3 1337 1407.3 1338 1407.3 1339 1407.3 1340 1407.3 1341 1407.2 1342 1407.1 1343 1406.9 1344 1406.4 1345 1405.7 1346 1404.4 1347 1402.4 1348 1399.3 1349 1394.9 1350 1388.9 1351 1381.4 1352 1372.3 1353 1362.3 1354 1352 1355 1342.3 1356 1334.4 1357 1329.2 1358 1327.4 1359 1329.3 1360 1334.5 1361 1342.4 1362 1352 1363 1362.4 1364 1372.4 1365 1381.5 1366 1389 1367 1395 1368 1399.4 1369 1402.5 1370 1404.6 1371 1405.9 1372 1406.6 1373 1407.1 1374 1407.3 1375 1407.5 1376 1407.5 1377 1407.6 1378 1407.6 1379 1407.6 1380 1407.6 1381 1407.6 1382 1407.6 1383 1407.6 1384 1407.6 1385 1407.6 1386 1407.6 1387 1407.7 1388 1407.7 1389 1407.7 1390 1407.7 1391 1407.7 1392 1407.7 1393 1407.7 1394 1407.7 1395 1407.7 1396 1407.7 1397 1407.7 1398 1407.7 1399 1407.7 1400 1407.8 1401 1407.8 1402 1407.8 1403 1407.8 1404 1407.8 1405 1407.8 1406 1407.8 1407 1407.8 1408 1407.8 1409 1407.8 1410 1407.8 1411 1407.8 1412 1407.8 1413 1407.8 1414 1407.9 1415 1407.9 1416 1407.9 1417 1407.9 1418 1407.9 1419 1407.9 1420 1407.9 1421 1407.8 1422 1407.7 1423 1407.6 1424 1407.3 1425 1406.9 1426 1406.4 1427 1405.9 1428 1405.4 1429 1405.1 1430 1405 1431 1405.1 1432 1405.5 1433 1406 1434 1406.5 1435 1407 1436 1407.4 1437 1407.7 1438 1407.8 1439 1407.9 1440 1408 1441 1408 1442 1408 1443 1407.9 1444 1407.8 1445 1407.5 1446 1406.9 1447 1406 1448 1404.7 1449 1402.7 1450 1400.1 1451 1396.8 1452 1393 1453 1389 1454 1385.3 1455 1382.3 1456 1380.5 1457 1380.2 1458 1381.5 1459 1384 1460 1387.5 1461 1391.4 1462 1395.4 1463 1398.9 1464 1401.8 1465 1404.1 1466 1405.7 1467 1406.8 1468 1407.4 1469 1407.8 1470 1408.1 1471 1408.2 1472 1408.2 1473 1408.3 1474 1408.3 1475 1408.3 1476 1408.3 1477 1408.3 1478 1408.3 1479 1408.3 1480 1408.3 1481 1408.4 1482 1408.4 1483 1408.4 1484 1408.4 1485 1408.4 1486 1408.4 1487 1408.4 1488 1408.4 1489 1408.4 1490 1408.4 1491 1408.4 1492 1408.4 1493 1408.4 1494 1408.5 1495 1408.5 1496 1408.5 1497 1408.5 1498 1408.5 1499 1408.5 1500 1408.5 1501 1408.5 1502 1408.5 1503 1408.5 1504 1408.5 1505 1408.5 1506 1408.5 1507 1408.5 1508 1408.5 1509 1408.5 1510 1408.6 1511 1408.6 1512 1408.6 1513 1408.6 1514 1408.6 1515 1408.6 1516 1408.6 1517 1408.6 1518 1408.6 1519 1408.6 1520 1408.6 1521 1408.6 1522 1408.6 1523 1408.6 1524 1408.6 1525 1408.6 1526 1408.6 1527 1408.6 1528 1408.6 1529 1408.6 1530 1408.6 1531 1408.5 1532 1408.3 1533 1407.9 1534 1407.3 1535 1406.2 1536 1404.6 1537 1402.7 1538 1400.6 1539 1398.6 1540 1397.2 1541 1396.7 1542 1397.2 1543 1398.6 1544 1400.6 1545 1402.8 1546 1404.7 1547 1406.2 1548 1407.3 1549 1408 1550 1408.4 1551 1408.6 1552 1408.7 1553 1408.8 1554 1408.8 1555 1408.8 1556 1408.8 1557 1408.8 1558 1408.8 1559 1408.8 1560 1408.8 1561 1408.8 1562 1408.8 1563 1408.8 1564 1408.9 1565 1408.9 1566 1408.9 1567 1408.9 1568 1408.9 1569 1408.9 1570 1408.9 1571 1408.9 1572 1408.9 1573 1408.9 1574 1408.9 1575 1408.9 1576 1408.9 1577 1408.9 1578 1408.9 1579 1408.9 1580 1408.9 1581 1409 1582 1409 1583 1409 1584 1409 1585 1409 1586 1409 1587 1409 1588 1409 1589 1409 1590 1409 1591 1409 1592 1409 1593 1409 1594 1409 1595 1409 1596 1409 1597 1409 1598 1409 1599 1409 1600 1409.1 1601 1409.1 1602 1409.1 1603 1409.1 1604 1409.1 1605 1409.1 1606 1409.1 1607 1409.1 1608 1409.1 1609 1409.1 1610 1409.1 1611 1409.1 1612 1409.1 1613 1409.1 1614 1409.1 1615 1409.1 1616 1409.1 1617 1409.2 1618 1409.2 1619 1409.2 1620 1409.2 1621 1409.2 1622 1409.2 1623 1409.2 1624 1409.2 1625 1409.2 1626 1409.2 1627 1409.2 1628 1409.2 1629 1409.2 1630 1409.2 1631 1409.2 1632 1409.2 1633 1409.2 1634 1409.2 1635 1409.2 1636 1409.3 1637 1409.3 1638 1409.3 1639 1409.3 1640 1409.3 1641 1409.3 1642 1409.3 1643 1409.3 1644 1409.3 1645 1409.3 1646 1409.3 1647 1409.3 1648 1409.3 1649 1409.3 1650 1409.3 1651 1409.3 1652 1409.3 1653 1409.3 1654 1409.4 1655 1409.4 1656 1409.4 1657 1409.4 1658 1409.4 1659 1409.4 1660 1409.3 1661 1409.2 1662 1409.1 1663 1408.7 1664 1408.1 1665 1407.1 1666 1405.7 1667 1403.9 1668 1402 1669 1400.2 1670 1398.9 1671 1398.5 1672 1398.9 1673 1400.2 1674 1402 1675 1404 1676 1405.8 1677 1407.2 1678 1408.2 1679 1408.8 1680 1409.2 1681 1409.4 1682 1409.5 1683 1409.5 1684 1409.5 1685 1409.5 1686 1409.5 1687 1409.5 1688 1409.5 1689 1409.5 1690 1409.6 1691 1409.6 1692 1409.6 1693 1409.6 1694 1409.6 1695 1409.6 1696 1409.6 1697 1409.6 1698 1409.6 1699 1409.6 1700 1409.6 1701 1409.6 1702 1409.6 1703 1409.6 1704 1409.6 1705 1409.6 1706 1409.6 1707 1409.7 1708 1409.7 1709 1409.7 1710 1409.7 1711 1409.7 1712 1409.7 1713 1409.7 1714 1409.7 1715 1409.7 1716 1409.7 1717 1409.7 1718 1409.7 1719 1409.7 1720 1409.7 1721 1409.7 1722 1409.7 1723 1409.7 1724 1409.7 1725 1409.8 1726 1409.8 1727 1409.8 1728 1409.8 1729 1409.8 1730 1409.8 1731 1409.8 1732 1409.8 1733 1409.8 1734 1409.8 1735 1409.8 1736 1409.8 1737 1409.8 1738 1409.8 1739 1409.8 1740 1409.8 1741 1409.8 1742 1409.8 1743 1409.8 1744 1409.9 1745 1409.9 1746 1409.9 1747 1409.9 1748 1409.9 1749 1409.9 1750 1409.9 1751 1409.9 1752 1409.9 1753 1409.9 1754 1409.9 1755 1409.9 1756 1409.9 1757 1409.9 1758 1409.9 1759 1409.9 1760 1409.9 1761 1410 1762 1410 1763 1410 1764 1410 1765 1410 1766 1410 1767 1410 1768 1410 1769 1410 1770 1410 1771 1410 1772 1410 1773 1410 1774 1410 1775 1410 1776 1410 1777 1410 1778 1410 1779 1410 1780 1410.1 1781 1410.1 1782 1410.1 1783 1410.1 1784 1410.1 1785 1410.1 1786 1410.1 1787 1410.1 1788 1410.1 1789 1410.1 1790 1410.1 1791 1410.1 1792 1410.1 1793 1410.1 1794 1410.1 1795 1410.1 1796 1410.1 1797 1410.2 1798 1410.2 1799 1410.2 1800 1410.2 1801 1410.2 1802 1410.2 1803 1410.2 1804 1410.2 1805 1410.2 1806 1410.2 1807 1410.2 1808 1410.2 1809 1410.2 1810 1410.2 1811 1410.2 1812 1410.2 1813 1410.2 1814 1410.2 1815 1410.2 1816 1410.3 1817 1410.3 1818 1410.3 1819 1410.3 1820 1410.3 1821 1410.3 1822 1410.3 1823 1410.3 1824 1410.2 1825 1410.2 1826 1410.1 1827 1409.9 1828 1409.5 1829 1408.9 1830 1408 1831 1406.5 1832 1404.4 1833 1401.6 1834 1398 1835 1393.7 1836 1388.9 1837 1384 1838 1379.5 1839 1375.7 1840 1373.2 1841 1372.4 1842 1373.3 1843 1375.7 1844 1379.5 1845 1384.1 1846 1389 1847 1393.8 1848 1398.1 1849 1401.7 1850 1404.5 1851 1406.6 1852 1408.1 1853 1409.1 1854 1409.7 1855 1410 1856 1410.3 1857 1410.4 1858 1410.4 1859 1410.5 1860 1410.5 1861 1410.5 1862 1410.5 1863 1410.5 1864 1410.5 1865 1410.5 1866 1410.5 1867 1410.5 1868 1410.5 1869 1410.5 1870 1410.6 1871 1410.6 1872 1410.6 1873 1410.6 1874 1410.6 1875 1410.6 1876 1410.6 1877 1410.6 1878 1410.6 1879 1410.6 1880 1410.6 1881 1410.6 1882 1410.6 1883 1410.6 1884 1410.6 1885 1410.6 1886 1410.6 1887 1410.7 1888 1410.7 1889 1410.7 1890 1410.7 1891 1410.7 1892 1410.7 1893 1410.7 1894 1410.7 1895 1410.7 1896 1410.7 1897 1410.7 1898 1410.7 1899 1410.7 1900 1410.7 1901 1410.7 1902 1410.7 1903 1410.7 1904 1410.7 1905 1410.8 1906 1410.8 1907 1410.8 1908 1410.8 1909 1410.8 1910 1410.8 1911 1410.8 1912 1410.8 1913 1410.8 1914 1410.8 1915 1410.8 1916 1410.8 1917 1410.8 1918 1410.8 1919 1410.8 1920 1410.8 1921 1410.8 1922 1410.8 1923 1410.8 1924 1410.9 1925 1410.9 1926 1410.9 1927 1410.9 1928 1410.9 1929 1410.9 1930 1410.9 1931 1410.9 1932 1410.9 1933 1410.9 1934 1410.9 1935 1410.9 1936 1410.9 1937 1410.9 1938 1410.9 1939 1410.9 1940 1410.9 1941 1411 1942 1411 1943 1411 1944 1411 1945 1411 1946 1411" fill="none" stroke="#1a1a1a" stroke-width="6.5" stroke-linejoin="round"/><path d="M167 1157L168 1157 169 1157.1 170 1157.1 171 1157.1 172 1157.1 173 1157.1 174 1157.1 175 1157.2 176 1157.2 177 1157.2 178 1157.2 179 1157.2 180 1157.2 181 1157.2 182 1157.3 183 1157.3 184 1157.3 185 1157.3 186 1157.3 187 1157.3 188 1157.3 189 1157.4 190 1157.4 191 1157.4 192 1157.4 193 1157.4 194 1157.4 195 1157.5 196 1157.5 197 1157.5 198 1157.5 199 1157.5 200 1157.5 201 1157.5 202 1157.6 203 1157.6 204 1157.6 205 1157.6 206 1157.6 207 1157.6 208 1157.7 209 1157.7 210 1157.7 211 1157.7 212 1157.7 213 1157.7 214 1157.7 215 1157.8 216 1157.8 217 1157.8 218 1157.8 219 1157.8 220 1157.8 221 1157.9 222 1157.9 223 1157.9 224 1157.9 225 1157.9 226 1157.9 227 1157.9 228 1158 229 1158 230 1158 231 1158 232 1158 233 1158 234 1158 235 1158.1 236 1158.1 237 1158.1 238 1158.1 239 1158.1 240 1158.1 241 1158.2 242 1158.2 243 1158.2 244 1158.2 245 1158.2 246 1158.2 247 1158.2 248 1158.3 249 1158.3 250 1158.3 251 1158.3 252 1158.3 253 1158.3 254 1158.4 255 1158.4 256 1158.4 257 1158.4 258 1158.4 259 1158.4 260 1158.4 261 1158.5 262 1158.5 263 1158.5 264 1158.5 265 1158.5 266 1158.5 267 1158.5 268 1158.6 269 1158.6 270 1158.6 271 1158.6 272 1158.6 273 1158.6 274 1158.7 275 1158.7 276 1158.7 277 1158.7 278 1158.7 279 1158.7 280 1158.7 281 1158.8 282 1158.8 283 1158.8 284 1158.8 285 1158.8 286 1158.8 287 1158.9 288 1158.9 289 1158.9 290 1158.9 291 1158.9 292 1158.9 293 1158.9 294 1159 295 1159 296 1159 297 1159 298 1159 299 1159 300 1159.1 301 1159.1 302 1159.1 303 1159.1 304 1159.1 305 1159.1 306 1159.1 307 1159.2 308 1159.2 309 1159.2 310 1159.2 311 1159.2 312 1159.1 313 1159 314 1158.6 315 1158 316 1156.9 317 1155.3 318 1153.3 319 1151.4 320 1149.9 321 1149.4 322 1149.9 323 1151.4 324 1153.4 325 1155.4 326 1157 327 1158.2 328 1158.9 329 1159.2 330 1159.4 331 1159.5 332 1159.5 333 1159.5 334 1159.6 335 1159.6 336 1159.6 337 1159.6 338 1159.6 339 1159.6 340 1159.7 341 1159.7 342 1159.7 343 1159.7 344 1159.7 345 1159.7 346 1159.7 347 1159.8 348 1159.8 349 1159.8 350 1159.8 351 1159.8 352 1159.8 353 1159.9 354 1159.9 355 1159.9 356 1159.9 357 1159.9 358 1159.9 359 1159.9 360 1160 361 1160 362 1160 363 1160 364 1160 365 1160 366 1160.1 367 1160.1 368 1160.1 369 1160.1 370 1160.1 371 1160.1 372 1160.1 373 1160.2 374 1160.2 375 1160.2 376 1160.2 377 1160.2 378 1160.2 379 1160.3 380 1160.3 381 1160.3 382 1160.3 383 1160.3 384 1160.3 385 1160.3 386 1160.4 387 1160.4 388 1160.4 389 1160.4 390 1160.4 391 1160.4 392 1160.4 393 1160.5 394 1160.5 395 1160.5 396 1160.5 397 1160.5 398 1160.5 399 1160.6 400 1160.6 401 1160.6 402 1160.6 403 1160.6 404 1160.6 405 1160.6 406 1160.7 407 1160.7 408 1160.7 409 1160.7 410 1160.7 411 1160.7 412 1160.8 413 1160.8 414 1160.8 415 1160.8 416 1160.8 417 1160.8 418 1160.8 419 1160.9 420 1160.9 421 1160.9 422 1160.9 423 1160.9 424 1160.9 425 1160.9 426 1161 427 1161 428 1161 429 1161 430 1161 431 1161 432 1161.1 433 1161.1 434 1161.1 435 1161.1 436 1161.1 437 1161.1 438 1161.1 439 1161.2 440 1161.2 441 1161.2 442 1161.2 443 1161.2 444 1161.2 445 1161.3 446 1161.3 447 1161.3 448 1161.3 449 1161.3 450 1161.3 451 1161.3 452 1161.4 453 1161.4 454 1161.4 455 1161.4 456 1161.4 457 1161.4 458 1161.5 459 1161.5 460 1161.5 461 1161.5 462 1161.5 463 1161.5 464 1161.5 465 1161.6 466 1161.6 467 1161.6 468 1161.6 469 1161.6 470 1161.6 471 1161.6 472 1161.7 473 1161.7 474 1161.7 475 1161.7 476 1161.7 477 1161.7 478 1161.8 479 1161.8 480 1161.8 481 1161.8 482 1161.8 483 1161.8 484 1161.8 485 1161.9 486 1161.9 487 1161.9 488 1161.9 489 1161.9 490 1161.9 491 1162 492 1162 493 1162 494 1162 495 1162 496 1162 497 1162 498 1162.1 499 1162.1 500 1162.1 501 1162.1 502 1162.1 503 1162.1 504 1162.1 505 1162.2 506 1162.2 507 1162.2 508 1162.2 509 1162.2 510 1162.2 511 1162.3 512 1162.3 513 1162.3 514 1162.3 515 1162.3 516 1162.3 517 1162.3 518 1162.4 519 1162.4 520 1162.4 521 1162.4 522 1162.4 523 1162.4 524 1162.5 525 1162.5 526 1162.5 527 1162.5 528 1162.5 529 1162.5 530 1162.5 531 1162.6 532 1162.6 533 1162.6 534 1162.6 535 1162.6 536 1162.6 537 1162.7 538 1162.7 539 1162.7 540 1162.7 541 1162.7 542 1162.7 543 1162.7 544 1162.8 545 1162.8 546 1162.8 547 1162.8 548 1162.8 549 1162.8 550 1162.8 551 1162.9 552 1162.9 553 1162.9 554 1162.9 555 1162.8 556 1162.7 557 1162.3 558 1161.3 559 1159.2 560 1155 561 1147.7 562 1136.1 563 1119.7 564 1099.1 565 1076.4 566 1055.5 567 1040.5 568 1035.1 569 1040.6 570 1055.5 571 1076.5 572 1099.2 573 1119.8 574 1136.3 575 1147.9 576 1155.2 577 1159.4 578 1161.6 579 1162.6 580 1163 581 1163.2 582 1163.3 583 1163.3 584 1163.3 585 1163.4 586 1163.4 587 1163.4 588 1163.4 589 1163.4 590 1163.4 591 1163.4 592 1163.5 593 1163.5 594 1163.5 595 1163.5 596 1163.5 597 1163.5 598 1163.5 599 1163.6 600 1163.6 601 1163.6 602 1163.6 603 1163.6 604 1163.6 605 1163.6 606 1163.7 607 1163.7 608 1163.7 609 1163.7 610 1163.7 611 1163.7 612 1163.7 613 1163.8 614 1163.8 615 1163.8 616 1163.8 617 1163.8 618 1163.7 619 1163.5 620 1163 621 1162.1 622 1160.7 623 1158.8 624 1156.6 625 1154.6 626 1153.2 627 1153 628 1154 629 1155.8 630 1158.1 631 1160.2 632 1161.8 633 1162.9 634 1163.5 635 1163.8 636 1164 637 1164.1 638 1164.1 639 1164.1 640 1164.1 641 1164.2 642 1164.2 643 1164.2 644 1164.2 645 1164.2 646 1164.2 647 1164.2 648 1164.3 649 1164.3 650 1164.3 651 1164.3 652 1164.3 653 1164.3 654 1164.3 655 1164.4 656 1164.4 657 1164.4 658 1164.4 659 1164.4 660 1164.4 661 1164.4 662 1164.5 663 1164.5 664 1164.5 665 1164.5 666 1164.5 667 1164.5 668 1164.5 669 1164.6 670 1164.6 671 1164.6 672 1164.6 673 1164.6 674 1164.6 675 1164.6 676 1164.7 677 1164.7 678 1164.7 679 1164.7 680 1164.7 681 1164.7 682 1164.7 683 1164.8 684 1164.8 685 1164.8 686 1164.8 687 1164.8 688 1164.8 689 1164.8 690 1164.9 691 1164.9 692 1164.9 693 1164.9 694 1164.9 695 1164.9 696 1164.9 697 1165 698 1165 699 1165 700 1165 701 1165 702 1165 703 1165 704 1165 705 1165 706 1165 707 1165 708 1165 709 1165 710 1165 711 1165 712 1165 713 1165 714 1165 715 1165 716 1165 717 1165 718 1165 719 1165 720 1165 721 1165 722 1165 723 1165 724 1165 725 1165 726 1165 727 1165 728 1165 729 1165 730 1165 731 1165 732 1165 733 1165 734 1165 735 1165 736 1165 737 1165 738 1165 739 1165 740 1165 741 1165 742 1165 743 1165 744 1165 745 1165 746 1165 747 1165 748 1165 749 1165 750 1165 751 1165 752 1165 753 1165 754 1165 755 1165 756 1165 757 1165 758 1165 759 1165 760 1165 761 1165 762 1165 763 1165 764 1165 765 1165 766 1165 767 1165 768 1165 769 1165 770 1165 771 1165 772 1165 773 1165 774 1165 775 1165 776 1165 777 1165 778 1165 779 1165 780 1165 781 1165 782 1165 783 1165 784 1165 785 1165 786 1165 787 1165 788 1165 789 1165 790 1165 791 1165 792 1165 793 1165 794 1165 795 1165 796 1165 797 1165 798 1165 799 1165 800 1165 801 1164.6 802 1164.2 803 1163.8 804 1163.3 805 1162.9 806 1162.5 807 1162.1 808 1161.7 809 1161.2 810 1160.8 811 1160.4 812 1160 813 1160 814 1160.1 815 1160.1 816 1160.2 817 1160.2 818 1160.2 819 1159.3 820 1155.4 821 1144.5 822 1124.8 823 1098.6 824 1071.4 825 1047.8 826 1029.4 827 1014 828 996.5 829 968.9 830 922.3 831 851 832 758.3 833 660.7 834 584.8 835 556 836 584.9 837 660.8 838 758.5 839 851.3 840 922.7 841 969.4 842 997.1 843 1014.7 844 1030.2 845 1048.7 846 1072.4 847 1099.7 848 1126 849 1145.8 850 1156.7 851 1160.7 852 1161.6 853 1161.8 854 1161.8 855 1161.9 856 1161.9 857 1162 858 1162 859 1162.5 860 1163 861 1163.5 862 1164 863 1164.5 864 1165 865 1165.5 866 1166 867 1166 868 1166 869 1166 870 1166 871 1166.1 872 1166.1 873 1166.1 874 1166.1 875 1166.1 876 1166.1 877 1166.1 878 1166.1 879 1166.2 880 1166.2 881 1166.2 882 1166.2 883 1166.2 884 1166.2 885 1166.2 886 1166.2 887 1166.3 888 1166.3 889 1166.3 890 1166.3 891 1166.3 892 1166.3 893 1166.3 894 1166.3 895 1166.3 896 1166.4 897 1166.4 898 1166.4 899 1166.4 900 1166.4 901 1166.4 902 1166.4 903 1166.4 904 1166.5 905 1166.5 906 1166.5 907 1166.5 908 1166.5 909 1166.5 910 1166.5 911 1166.5 912 1166.6 913 1166.6 914 1166.6 915 1166.6 916 1166.6 917 1166.6 918 1166.6 919 1166.6 920 1166.6 921 1166.7 922 1166.7 923 1166.7 924 1166.7 925 1166.7 926 1166.7 927 1166.7 928 1166.7 929 1166.8 930 1166.8 931 1166.8 932 1166.8 933 1166.8 934 1166.8 935 1166.8 936 1166.8 937 1166.9 938 1166.9 939 1166.9 940 1166.9 941 1166.9 942 1166.9 943 1166.9 944 1166.9 945 1166.9 946 1167 947 1167 948 1167 949 1167 950 1167 951 1167 952 1167 953 1167 954 1167.1 955 1167.1 956 1167.1 957 1167.1 958 1167.1 959 1167.1 960 1167.1 961 1167.1 962 1167.1 963 1167.2 964 1167.2 965 1167.2 966 1167.2 967 1167.2 968 1167.2 969 1167.2 970 1167.2 971 1167.3 972 1167.3 973 1167.3 974 1167.3 975 1167.3 976 1167.3 977 1167.3 978 1167.3 979 1167.4 980 1167.4 981 1167.4 982 1167.4 983 1167.4 984 1167.4 985 1167.4 986 1167.4 987 1167.4 988 1167.5 989 1167.5 990 1167.5 991 1167.5 992 1167.5 993 1167.5 994 1167.5 995 1167.5 996 1167.6 997 1167.6 998 1167.6 999 1167.6 1000 1167.6 1001 1167.6 1002 1167.6 1003 1167.6 1004 1167.7 1005 1167.7 1006 1167.7 1007 1167.7 1008 1167.7 1009 1167.7 1010 1167.7 1011 1167.7 1012 1167.7 1013 1167.8 1014 1167.8 1015 1167.8 1016 1167.8 1017 1167.8 1018 1167.8 1019 1167.8 1020 1167.8 1021 1167.9 1022 1167.9 1023 1167.9 1024 1167.9 1025 1167.9 1026 1167.9 1027 1167.9 1028 1167.9 1029 1168 1030 1168 1031 1168 1032 1168 1033 1168 1034 1168 1035 1168 1036 1168 1037 1168 1038 1168.1 1039 1168.1 1040 1168.1 1041 1168.1 1042 1168.1 1043 1168.1 1044 1168.1 1045 1168.1 1046 1168.2 1047 1168.2 1048 1168.2 1049 1168.2 1050 1168.2 1051 1168.2 1052 1168.2 1053 1168.2 1054 1168.3 1055 1168.3 1056 1168.3 1057 1168.3 1058 1168.3 1059 1168.3 1060 1168.3 1061 1168.3 1062 1168.3 1063 1168.4 1064 1168.4 1065 1168.4 1066 1168.4 1067 1168.4 1068 1168.4 1069 1168.4 1070 1168.4 1071 1168.5 1072 1168.5 1073 1168.5 1074 1168.5 1075 1168.5 1076 1168.5 1077 1168.5 1078 1168.5 1079 1168.6 1080 1168.6 1081 1168.6 1082 1168.6 1083 1168.6 1084 1168.6 1085 1168.6 1086 1168.6 1087 1168.6 1088 1168.7 1089 1168.7 1090 1168.7 1091 1168.7 1092 1168.7 1093 1168.7 1094 1168.7 1095 1168.7 1096 1168.7 1097 1168.7 1098 1168.7 1099 1168.6 1100 1168.2 1101 1167.6 1102 1166.3 1103 1164 1104 1160.1 1105 1154.3 1106 1146.1 1107 1135.7 1108 1123.8 1109 1111.6 1110 1100.9 1111 1093.6 1112 1090.9 1113 1093.6 1114 1101 1115 1111.7 1116 1123.9 1117 1135.9 1118 1146.3 1119 1154.5 1120 1160.3 1121 1164.2 1122 1166.5 1123 1167.8 1124 1168.5 1125 1168.9 1126 1169 1127 1169.1 1128 1169.1 1129 1169.1 1130 1169.2 1131 1169.2 1132 1169.2 1133 1169.2 1134 1169.2 1135 1169.2 1136 1169.2 1137 1169.2 1138 1169.3 1139 1169.3 1140 1169.3 1141 1169.3 1142 1169.3 1143 1169.3 1144 1169.3 1145 1169.3 1146 1169.4 1147 1169.4 1148 1169.4 1149 1169.4 1150 1169.4 1151 1169.4 1152 1169.4 1153 1169.4 1154 1169.4 1155 1169.5 1156 1169.5 1157 1169.5 1158 1169.5 1159 1169.5 1160 1169.5 1161 1169.5 1162 1169.5 1163 1169.6 1164 1169.6 1165 1169.6 1166 1169.6 1167 1169.6 1168 1169.6 1169 1169.6 1170 1169.6 1171 1169.7 1172 1169.7 1173 1169.7 1174 1169.7 1175 1169.7 1176 1169.7 1177 1169.7 1178 1169.7 1179 1169.7 1180 1169.8 1181 1169.8 1182 1169.8 1183 1169.8 1184 1169.8 1185 1169.8 1186 1169.8 1187 1169.8 1188 1169.9 1189 1169.9 1190 1169.9 1191 1169.9 1192 1169.9 1193 1169.9 1194 1169.9 1195 1169.9 1196 1170 1197 1170 1198 1170 1199 1170 1200 1170 1201 1170 1202 1170 1203 1170 1204 1170 1205 1170 1206 1170 1207 1170 1208 1170 1209 1170 1210 1170.1 1211 1170.1 1212 1170.1 1213 1170.1 1214 1170.1 1215 1170.1 1216 1170.1 1217 1170.1 1218 1170.1 1219 1170.1 1220 1170.1 1221 1170.1 1222 1170.1 1223 1170.1 1224 1170.1 1225 1170.1 1226 1170.1 1227 1170.1 1228 1170.1 1229 1170.2 1230 1170.2 1231 1170.2 1232 1170.2 1233 1170.2 1234 1170.2 1235 1170.2 1236 1170.2 1237 1170.2 1238 1170.2 1239 1170.2 1240 1170.2 1241 1170.2 1242 1170.2 1243 1170.2 1244 1170.2 1245 1170.2 1246 1170.2 1247 1170.3 1248 1170.3 1249 1170.3 1250 1170.3 1251 1170.3 1252 1170.3 1253 1170.3 1254 1170.3 1255 1170.3 1256 1170.3 1257 1170.3 1258 1170.3 1259 1170.3 1260 1170.3 1261 1170.3 1262 1170.3 1263 1170.3 1264 1170.3 1265 1170.3 1266 1170.4 1267 1170.4 1268 1170.4 1269 1170.4 1270 1170.4 1271 1170.4 1272 1170.4 1273 1170.4 1274 1170.4 1275 1170.4 1276 1170.4 1277 1170.4 1278 1170.4 1279 1170.4 1280 1170.4 1281 1170.4 1282 1170.4 1283 1170.4 1284 1170.4 1285 1170.5 1286 1170.5 1287 1170.5 1288 1170.5 1289 1170.5 1290 1170.5 1291 1170.5 1292 1170.5 1293 1170.5 1294 1170.5 1295 1170.5 1296 1170.5 1297 1170.5 1298 1170.5 1299 1170.5 1300 1170.5 1301 1170.5 1302 1170.5 1303 1170.5 1304 1170.6 1305 1170.6 1306 1170.6 1307 1170.6 1308 1170.6 1309 1170.6 1310 1170.6 1311 1170.6 1312 1170.6 1313 1170.6 1314 1170.6 1315 1170.6 1316 1170.6 1317 1170.6 1318 1170.6 1319 1170.6 1320 1170.6 1321 1170.6 1322 1170.7 1323 1170.7 1324 1170.7 1325 1170.7 1326 1170.7 1327 1170.7 1328 1170.7 1329 1170.7 1330 1170.7 1331 1170.7 1332 1170.7 1333 1170.7 1334 1170.7 1335 1170.7 1336 1170.7 1337 1170.7 1338 1170.7 1339 1170.7 1340 1170.6 1341 1170.4 1342 1170 1343 1169.2 1344 1167.6 1345 1164.8 1346 1160.3 1347 1153.6 1348 1144.5 1349 1133.2 1350 1120.7 1351 1108.5 1352 1098.3 1353 1092.1 1354 1091.1 1355 1095.3 1356 1104.1 1357 1115.7 1358 1128.4 1359 1140.3 1360 1150.3 1361 1157.9 1362 1163.3 1363 1166.7 1364 1168.8 1365 1169.9 1366 1170.4 1367 1170.7 1368 1170.8 1369 1170.9 1370 1170.9 1371 1170.9 1372 1170.9 1373 1170.9 1374 1170.9 1375 1170.9 1376 1170.9 1377 1170.9 1378 1170.9 1379 1171 1380 1171 1381 1171 1382 1171 1383 1171 1384 1171 1385 1171 1386 1171 1387 1171 1388 1171 1389 1171 1390 1171 1391 1171 1392 1171 1393 1171 1394 1171 1395 1171 1396 1171 1397 1171.1 1398 1171.1 1399 1171.1 1400 1171.1 1401 1171.1 1402 1171.1 1403 1171.1 1404 1171.1 1405 1171.1 1406 1171.1 1407 1171.1 1408 1171.1 1409 1171 1410 1170.9 1411 1170.6 1412 1170.2 1413 1169.3 1414 1167.9 1415 1165.8 1416 1162.9 1417 1159.3 1418 1155.3 1419 1151.3 1420 1147.9 1421 1145.7 1422 1145.2 1423 1146.4 1424 1149.2 1425 1152.9 1426 1157 1427 1160.9 1428 1164.2 1429 1166.8 1430 1168.6 1431 1169.8 1432 1170.5 1433 1170.9 1434 1171.1 1435 1171.1 1436 1171.1 1437 1170.9 1438 1170.5 1439 1169.9 1440 1168.8 1441 1167.1 1442 1164.5 1443 1161 1444 1156.6 1445 1151.3 1446 1145.6 1447 1140.2 1448 1135.5 1449 1132.4 1450 1131.3 1451 1132.4 1452 1135.5 1453 1140.2 1454 1145.7 1455 1151.4 1456 1156.6 1457 1161.1 1458 1164.6 1459 1167.1 1460 1168.9 1461 1170 1462 1170.7 1463 1171 1464 1171.2 1465 1171.3 1466 1171.4 1467 1171.4 1468 1171.4 1469 1171.4 1470 1171.4 1471 1171.4 1472 1171.5 1473 1171.5 1474 1171.5 1475 1171.5 1476 1171.5 1477 1171.5 1478 1171.5 1479 1171.5 1480 1171.5 1481 1171.5 1482 1171.5 1483 1171.5 1484 1171.5 1485 1171.5 1486 1171.5 1487 1171.5 1488 1171.5 1489 1171.5 1490 1171.5 1491 1171.6 1492 1171.6 1493 1171.6 1494 1171.6 1495 1171.6 1496 1171.6 1497 1171.6 1498 1171.6 1499 1171.6 1500 1171.6 1501 1171.6 1502 1171.6 1503 1171.6 1504 1171.6 1505 1171.6 1506 1171.6 1507 1171.6 1508 1171.6 1509 1171.6 1510 1171.7 1511 1171.7 1512 1171.7 1513 1171.7 1514 1171.7 1515 1171.7 1516 1171.7 1517 1171.7 1518 1171.7 1519 1171.7 1520 1171.7 1521 1171.7 1522 1171.7 1523 1171.7 1524 1171.7 1525 1171.7 1526 1171.7 1527 1171.7 1528 1171.5 1529 1171.3 1530 1170.9 1531 1170.2 1532 1169.1 1533 1167.6 1534 1165.9 1535 1164.2 1536 1162.7 1537 1161.9 1538 1161.9 1539 1162.7 1540 1164.2 1541 1165.9 1542 1167.7 1543 1169.1 1544 1170.2 1545 1171 1546 1171.4 1547 1171.7 1548 1171.8 1549 1171.8 1550 1171.9 1551 1171.9 1552 1171.9 1553 1171.9 1554 1171.9 1555 1171.9 1556 1171.9 1557 1171.9 1558 1171.9 1559 1171.9 1560 1171.9 1561 1171.9 1562 1171.9 1563 1171.9 1564 1171.9 1565 1171.9 1566 1172 1567 1172 1568 1172 1569 1172 1570 1172 1571 1172 1572 1172 1573 1172 1574 1172 1575 1172 1576 1172 1577 1172 1578 1172 1579 1172 1580 1172 1581 1172 1582 1172 1583 1172 1584 1172 1585 1172.1 1586 1172.1 1587 1172.1 1588 1172.1 1589 1172.1 1590 1172.1 1591 1172.1 1592 1172.1 1593 1172.1 1594 1172.1 1595 1172.1 1596 1172.1 1597 1172.1 1598 1172.1 1599 1172.1 1600 1172.1 1601 1172.1 1602 1172.1 1603 1172.1 1604 1172.2 1605 1172.2 1606 1172.2 1607 1172.2 1608 1172.2 1609 1172.2 1610 1172.2 1611 1172.2 1612 1172.2 1613 1172.2 1614 1172.2 1615 1172.2 1616 1172.2 1617 1172.2 1618 1172.2 1619 1172.2 1620 1172.2 1621 1172.2 1622 1172.3 1623 1172.3 1624 1172.3 1625 1172.3 1626 1172.3 1627 1172.3 1628 1172.3 1629 1172.3 1630 1172.3 1631 1172.3 1632 1172.3 1633 1172.3 1634 1172.3 1635 1172.3 1636 1172.3 1637 1172.3 1638 1172.3 1639 1172.3 1640 1172.3 1641 1172.4 1642 1172.4 1643 1172.4 1644 1172.4 1645 1172.4 1646 1172.4 1647 1172.4 1648 1172.4 1649 1172.4 1650 1172.4 1651 1172.4 1652 1172.4 1653 1172.4 1654 1172.4 1655 1172.4 1656 1172.4 1657 1172.3 1658 1172.1 1659 1171.8 1660 1171.1 1661 1170.1 1662 1168.7 1663 1167 1664 1165 1665 1163.2 1666 1162 1667 1161.5 1668 1162 1669 1163.3 1670 1165.1 1671 1167 1672 1168.8 1673 1170.2 1674 1171.2 1675 1171.8 1676 1172.2 1677 1172.4 1678 1172.5 1679 1172.5 1680 1172.6 1681 1172.6 1682 1172.6 1683 1172.6 1684 1172.6 1685 1172.6 1686 1172.6 1687 1172.6 1688 1172.6 1689 1172.6 1690 1172.6 1691 1172.6 1692 1172.6 1693 1172.6 1694 1172.6 1695 1172.6 1696 1172.6 1697 1172.7 1698 1172.7 1699 1172.7 1700 1172.7 1701 1172.7 1702 1172.7 1703 1172.7 1704 1172.7 1705 1172.7 1706 1172.7 1707 1172.7 1708 1172.7 1709 1172.7 1710 1172.7 1711 1172.7 1712 1172.7 1713 1172.7 1714 1172.7 1715 1172.7 1716 1172.8 1717 1172.8 1718 1172.8 1719 1172.8 1720 1172.8 1721 1172.8 1722 1172.8 1723 1172.8 1724 1172.8 1725 1172.8 1726 1172.8 1727 1172.8 1728 1172.8 1729 1172.8 1730 1172.8 1731 1172.8 1732 1172.8 1733 1172.8 1734 1172.8 1735 1172.9 1736 1172.9 1737 1172.9 1738 1172.9 1739 1172.9 1740 1172.9 1741 1172.9 1742 1172.9 1743 1172.9 1744 1172.9 1745 1172.9 1746 1172.9 1747 1172.9 1748 1172.9 1749 1172.9 1750 1172.9 1751 1172.9 1752 1172.9 1753 1172.9 1754 1173 1755 1173 1756 1173 1757 1173 1758 1173 1759 1173 1760 1173 1761 1173 1762 1173 1763 1173 1764 1173 1765 1173 1766 1173 1767 1173 1768 1173 1769 1173 1770 1173 1771 1173 1772 1173.1 1773 1173.1 1774 1173.1 1775 1173.1 1776 1173.1 1777 1173.1 1778 1173.1 1779 1173.1 1780 1173.1 1781 1173.1 1782 1173.1 1783 1173.1 1784 1173.1 1785 1173.1 1786 1173.1 1787 1173.1 1788 1173.1 1789 1173.1 1790 1173.1 1791 1173.2 1792 1173.2 1793 1173.2 1794 1173.2 1795 1173.2 1796 1173.2 1797 1173.2 1798 1173.2 1799 1173.2 1800 1173.2 1801 1173.2 1802 1173.2 1803 1173.2 1804 1173.2 1805 1173.2 1806 1173.2 1807 1173.2 1808 1173.2 1809 1173.2 1810 1173.3 1811 1173.3 1812 1173.3 1813 1173.3 1814 1173.3 1815 1173.3 1816 1173.3 1817 1173.3 1818 1173.3 1819 1173.3 1820 1173.2 1821 1173.2 1822 1173.1 1823 1172.8 1824 1172.4 1825 1171.7 1826 1170.7 1827 1169 1828 1166.6 1829 1163.4 1830 1159.4 1831 1154.5 1832 1149.1 1833 1143.6 1834 1138.4 1835 1134.2 1836 1131.4 1837 1130.4 1838 1131.4 1839 1134.2 1840 1138.4 1841 1143.6 1842 1149.2 1843 1154.6 1844 1159.4 1845 1163.5 1846 1166.7 1847 1169.1 1848 1170.8 1849 1171.9 1850 1172.6 1851 1173 1852 1173.2 1853 1173.4 1854 1173.4 1855 1173.5 1856 1173.5 1857 1173.5 1858 1173.5 1859 1173.5 1860 1173.5 1861 1173.5 1862 1173.5 1863 1173.5 1864 1173.5 1865 1173.5 1866 1173.6 1867 1173.6 1868 1173.6 1869 1173.6 1870 1173.6 1871 1173.6 1872 1173.6 1873 1173.6 1874 1173.6 1875 1173.6 1876 1173.6 1877 1173.6 1878 1173.6 1879 1173.6 1880 1173.6 1881 1173.6 1882 1173.6 1883 1173.6 1884 1173.6 1885 1173.7 1886 1173.7 1887 1173.7 1888 1173.7 1889 1173.7 1890 1173.7 1891 1173.7 1892 1173.7 1893 1173.7 1894 1173.6 1895 1173.6 1896 1173.5 1897 1173.3 1898 1173.1 1899 1172.7 1900 1172.2 1901 1171.5 1902 1170.7 1903 1169.9 1904 1169.1 1905 1168.4 1906 1167.9 1907 1167.8 1908 1167.9 1909 1168.4 1910 1169.1 1911 1169.9 1912 1170.8 1913 1171.6 1914 1172.3 1915 1172.8 1916 1173.2 1917 1173.4 1918 1173.6 1919 1173.7 1920 1173.8 1921 1173.8 1922 1173.8 1923 1173.9 1924 1173.9 1925 1173.9 1926 1173.9 1927 1173.9 1928 1173.9 1929 1173.9 1930 1173.9 1931 1173.9 1932 1173.9 1933 1173.9 1934 1173.9 1935 1173.9 1936 1173.9 1937 1173.9 1938 1173.9 1939 1173.9 1940 1173.9 1941 1174 1942 1174 1943 1174 1944 1174 1945 1174 1946 1174" fill="none" stroke="#ff1a1a" stroke-opacity="0.16" stroke-width="15" stroke-linejoin="round"/><path d="M167 1157L168 1157 169 1157.1 170 1157.1 171 1157.1 172 1157.1 173 1157.1 174 1157.1 175 1157.2 176 1157.2 177 1157.2 178 1157.2 179 1157.2 180 1157.2 181 1157.2 182 1157.3 183 1157.3 184 1157.3 185 1157.3 186 1157.3 187 1157.3 188 1157.3 189 1157.4 190 1157.4 191 1157.4 192 1157.4 193 1157.4 194 1157.4 195 1157.5 196 1157.5 197 1157.5 198 1157.5 199 1157.5 200 1157.5 201 1157.5 202 1157.6 203 1157.6 204 1157.6 205 1157.6 206 1157.6 207 1157.6 208 1157.7 209 1157.7 210 1157.7 211 1157.7 212 1157.7 213 1157.7 214 1157.7 215 1157.8 216 1157.8 217 1157.8 218 1157.8 219 1157.8 220 1157.8 221 1157.9 222 1157.9 223 1157.9 224 1157.9 225 1157.9 226 1157.9 227 1157.9 228 1158 229 1158 230 1158 231 1158 232 1158 233 1158 234 1158 235 1158.1 236 1158.1 237 1158.1 238 1158.1 239 1158.1 240 1158.1 241 1158.2 242 1158.2 243 1158.2 244 1158.2 245 1158.2 246 1158.2 247 1158.2 248 1158.3 249 1158.3 250 1158.3 251 1158.3 252 1158.3 253 1158.3 254 1158.4 255 1158.4 256 1158.4 257 1158.4 258 1158.4 259 1158.4 260 1158.4 261 1158.5 262 1158.5 263 1158.5 264 1158.5 265 1158.5 266 1158.5 267 1158.5 268 1158.6 269 1158.6 270 1158.6 271 1158.6 272 1158.6 273 1158.6 274 1158.7 275 1158.7 276 1158.7 277 1158.7 278 1158.7 279 1158.7 280 1158.7 281 1158.8 282 1158.8 283 1158.8 284 1158.8 285 1158.8 286 1158.8 287 1158.9 288 1158.9 289 1158.9 290 1158.9 291 1158.9 292 1158.9 293 1158.9 294 1159 295 1159 296 1159 297 1159 298 1159 299 1159 300 1159.1 301 1159.1 302 1159.1 303 1159.1 304 1159.1 305 1159.1 306 1159.1 307 1159.2 308 1159.2 309 1159.2 310 1159.2 311 1159.2 312 1159.1 313 1159 314 1158.6 315 1158 316 1156.9 317 1155.3 318 1153.3 319 1151.4 320 1149.9 321 1149.4 322 1149.9 323 1151.4 324 1153.4 325 1155.4 326 1157 327 1158.2 328 1158.9 329 1159.2 330 1159.4 331 1159.5 332 1159.5 333 1159.5 334 1159.6 335 1159.6 336 1159.6 337 1159.6 338 1159.6 339 1159.6 340 1159.7 341 1159.7 342 1159.7 343 1159.7 344 1159.7 345 1159.7 346 1159.7 347 1159.8 348 1159.8 349 1159.8 350 1159.8 351 1159.8 352 1159.8 353 1159.9 354 1159.9 355 1159.9 356 1159.9 357 1159.9 358 1159.9 359 1159.9 360 1160 361 1160 362 1160 363 1160 364 1160 365 1160 366 1160.1 367 1160.1 368 1160.1 369 1160.1 370 1160.1 371 1160.1 372 1160.1 373 1160.2 374 1160.2 375 1160.2 376 1160.2 377 1160.2 378 1160.2 379 1160.3 380 1160.3 381 1160.3 382 1160.3 383 1160.3 384 1160.3 385 1160.3 386 1160.4 387 1160.4 388 1160.4 389 1160.4 390 1160.4 391 1160.4 392 1160.4 393 1160.5 394 1160.5 395 1160.5 396 1160.5 397 1160.5 398 1160.5 399 1160.6 400 1160.6 401 1160.6 402 1160.6 403 1160.6 404 1160.6 405 1160.6 406 1160.7 407 1160.7 408 1160.7 409 1160.7 410 1160.7 411 1160.7 412 1160.8 413 1160.8 414 1160.8 415 1160.8 416 1160.8 417 1160.8 418 1160.8 419 1160.9 420 1160.9 421 1160.9 422 1160.9 423 1160.9 424 1160.9 425 1160.9 426 1161 427 1161 428 1161 429 1161 430 1161 431 1161 432 1161.1 433 1161.1 434 1161.1 435 1161.1 436 1161.1 437 1161.1 438 1161.1 439 1161.2 440 1161.2 441 1161.2 442 1161.2 443 1161.2 444 1161.2 445 1161.3 446 1161.3 447 1161.3 448 1161.3 449 1161.3 450 1161.3 451 1161.3 452 1161.4 453 1161.4 454 1161.4 455 1161.4 456 1161.4 457 1161.4 458 1161.5 459 1161.5 460 1161.5 461 1161.5 462 1161.5 463 1161.5 464 1161.5 465 1161.6 466 1161.6 467 1161.6 468 1161.6 469 1161.6 470 1161.6 471 1161.6 472 1161.7 473 1161.7 474 1161.7 475 1161.7 476 1161.7 477 1161.7 478 1161.8 479 1161.8 480 1161.8 481 1161.8 482 1161.8 483 1161.8 484 1161.8 485 1161.9 486 1161.9 487 1161.9 488 1161.9 489 1161.9 490 1161.9 491 1162 492 1162 493 1162 494 1162 495 1162 496 1162 497 1162 498 1162.1 499 1162.1 500 1162.1 501 1162.1 502 1162.1 503 1162.1 504 1162.1 505 1162.2 506 1162.2 507 1162.2 508 1162.2 509 1162.2 510 1162.2 511 1162.3 512 1162.3 513 1162.3 514 1162.3 515 1162.3 516 1162.3 517 1162.3 518 1162.4 519 1162.4 520 1162.4 521 1162.4 522 1162.4 523 1162.4 524 1162.5 525 1162.5 526 1162.5 527 1162.5 528 1162.5 529 1162.5 530 1162.5 531 1162.6 532 1162.6 533 1162.6 534 1162.6 535 1162.6 536 1162.6 537 1162.7 538 1162.7 539 1162.7 540 1162.7 541 1162.7 542 1162.7 543 1162.7 544 1162.8 545 1162.8 546 1162.8 547 1162.8 548 1162.8 549 1162.8 550 1162.8 551 1162.9 552 1162.9 553 1162.9 554 1162.9 555 1162.8 556 1162.7 557 1162.3 558 1161.3 559 1159.2 560 1155 561 1147.7 562 1136.1 563 1119.7 564 1099.1 565 1076.4 566 1055.5 567 1040.5 568 1035.1 569 1040.6 570 1055.5 571 1076.5 572 1099.2 573 1119.8 574 1136.3 575 1147.9 576 1155.2 577 1159.4 578 1161.6 579 1162.6 580 1163 581 1163.2 582 1163.3 583 1163.3 584 1163.3 585 1163.4 586 1163.4 587 1163.4 588 1163.4 589 1163.4 590 1163.4 591 1163.4 592 1163.5 593 1163.5 594 1163.5 595 1163.5 596 1163.5 597 1163.5 598 1163.5 599 1163.6 600 1163.6 601 1163.6 602 1163.6 603 1163.6 604 1163.6 605 1163.6 606 1163.7 607 1163.7 608 1163.7 609 1163.7 610 1163.7 611 1163.7 612 1163.7 613 1163.8 614 1163.8 615 1163.8 616 1163.8 617 1163.8 618 1163.7 619 1163.5 620 1163 621 1162.1 622 1160.7 623 1158.8 624 1156.6 625 1154.6 626 1153.2 627 1153 628 1154 629 1155.8 630 1158.1 631 1160.2 632 1161.8 633 1162.9 634 1163.5 635 1163.8 636 1164 637 1164.1 638 1164.1 639 1164.1 640 1164.1 641 1164.2 642 1164.2 643 1164.2 644 1164.2 645 1164.2 646 1164.2 647 1164.2 648 1164.3 649 1164.3 650 1164.3 651 1164.3 652 1164.3 653 1164.3 654 1164.3 655 1164.4 656 1164.4 657 1164.4 658 1164.4 659 1164.4 660 1164.4 661 1164.4 662 1164.5 663 1164.5 664 1164.5 665 1164.5 666 1164.5 667 1164.5 668 1164.5 669 1164.6 670 1164.6 671 1164.6 672 1164.6 673 1164.6 674 1164.6 675 1164.6 676 1164.7 677 1164.7 678 1164.7 679 1164.7 680 1164.7 681 1164.7 682 1164.7 683 1164.8 684 1164.8 685 1164.8 686 1164.8 687 1164.8 688 1164.8 689 1164.8 690 1164.9 691 1164.9 692 1164.9 693 1164.9 694 1164.9 695 1164.9 696 1164.9 697 1165 698 1165 699 1165 700 1165 701 1165 702 1165 703 1165 704 1165 705 1165 706 1165 707 1165 708 1165 709 1165 710 1165 711 1165 712 1165 713 1165 714 1165 715 1165 716 1165 717 1165 718 1165 719 1165 720 1165 721 1165 722 1165 723 1165 724 1165 725 1165 726 1165 727 1165 728 1165 729 1165 730 1165 731 1165 732 1165 733 1165 734 1165 735 1165 736 1165 737 1165 738 1165 739 1165 740 1165 741 1165 742 1165 743 1165 744 1165 745 1165 746 1165 747 1165 748 1165 749 1165 750 1165 751 1165 752 1165 753 1165 754 1165 755 1165 756 1165 757 1165 758 1165 759 1165 760 1165 761 1165 762 1165 763 1165 764 1165 765 1165 766 1165 767 1165 768 1165 769 1165 770 1165 771 1165 772 1165 773 1165 774 1165 775 1165 776 1165 777 1165 778 1165 779 1165 780 1165 781 1165 782 1165 783 1165 784 1165 785 1165 786 1165 787 1165 788 1165 789 1165 790 1165 791 1165 792 1165 793 1165 794 1165 795 1165 796 1165 797 1165 798 1165 799 1165 800 1165 801 1164.6 802 1164.2 803 1163.8 804 1163.3 805 1162.9 806 1162.5 807 1162.1 808 1161.7 809 1161.2 810 1160.8 811 1160.4 812 1160 813 1160 814 1160.1 815 1160.1 816 1160.2 817 1160.2 818 1160.2 819 1159.3 820 1155.4 821 1144.5 822 1124.8 823 1098.6 824 1071.4 825 1047.8 826 1029.4 827 1014 828 996.5 829 968.9 830 922.3 831 851 832 758.3 833 660.7 834 584.8 835 556 836 584.9 837 660.8 838 758.5 839 851.3 840 922.7 841 969.4 842 997.1 843 1014.7 844 1030.2 845 1048.7 846 1072.4 847 1099.7 848 1126 849 1145.8 850 1156.7 851 1160.7 852 1161.6 853 1161.8 854 1161.8 855 1161.9 856 1161.9 857 1162 858 1162 859 1162.5 860 1163 861 1163.5 862 1164 863 1164.5 864 1165 865 1165.5 866 1166 867 1166 868 1166 869 1166 870 1166 871 1166.1 872 1166.1 873 1166.1 874 1166.1 875 1166.1 876 1166.1 877 1166.1 878 1166.1 879 1166.2 880 1166.2 881 1166.2 882 1166.2 883 1166.2 884 1166.2 885 1166.2 886 1166.2 887 1166.3 888 1166.3 889 1166.3 890 1166.3 891 1166.3 892 1166.3 893 1166.3 894 1166.3 895 1166.3 896 1166.4 897 1166.4 898 1166.4 899 1166.4 900 1166.4 901 1166.4 902 1166.4 903 1166.4 904 1166.5 905 1166.5 906 1166.5 907 1166.5 908 1166.5 909 1166.5 910 1166.5 911 1166.5 912 1166.6 913 1166.6 914 1166.6 915 1166.6 916 1166.6 917 1166.6 918 1166.6 919 1166.6 920 1166.6 921 1166.7 922 1166.7 923 1166.7 924 1166.7 925 1166.7 926 1166.7 927 1166.7 928 1166.7 929 1166.8 930 1166.8 931 1166.8 932 1166.8 933 1166.8 934 1166.8 935 1166.8 936 1166.8 937 1166.9 938 1166.9 939 1166.9 940 1166.9 941 1166.9 942 1166.9 943 1166.9 944 1166.9 945 1166.9 946 1167 947 1167 948 1167 949 1167 950 1167 951 1167 952 1167 953 1167 954 1167.1 955 1167.1 956 1167.1 957 1167.1 958 1167.1 959 1167.1 960 1167.1 961 1167.1 962 1167.1 963 1167.2 964 1167.2 965 1167.2 966 1167.2 967 1167.2 968 1167.2 969 1167.2 970 1167.2 971 1167.3 972 1167.3 973 1167.3 974 1167.3 975 1167.3 976 1167.3 977 1167.3 978 1167.3 979 1167.4 980 1167.4 981 1167.4 982 1167.4 983 1167.4 984 1167.4 985 1167.4 986 1167.4 987 1167.4 988 1167.5 989 1167.5 990 1167.5 991 1167.5 992 1167.5 993 1167.5 994 1167.5 995 1167.5 996 1167.6 997 1167.6 998 1167.6 999 1167.6 1000 1167.6 1001 1167.6 1002 1167.6 1003 1167.6 1004 1167.7 1005 1167.7 1006 1167.7 1007 1167.7 1008 1167.7 1009 1167.7 1010 1167.7 1011 1167.7 1012 1167.7 1013 1167.8 1014 1167.8 1015 1167.8 1016 1167.8 1017 1167.8 1018 1167.8 1019 1167.8 1020 1167.8 1021 1167.9 1022 1167.9 1023 1167.9 1024 1167.9 1025 1167.9 1026 1167.9 1027 1167.9 1028 1167.9 1029 1168 1030 1168 1031 1168 1032 1168 1033 1168 1034 1168 1035 1168 1036 1168 1037 1168 1038 1168.1 1039 1168.1 1040 1168.1 1041 1168.1 1042 1168.1 1043 1168.1 1044 1168.1 1045 1168.1 1046 1168.2 1047 1168.2 1048 1168.2 1049 1168.2 1050 1168.2 1051 1168.2 1052 1168.2 1053 1168.2 1054 1168.3 1055 1168.3 1056 1168.3 1057 1168.3 1058 1168.3 1059 1168.3 1060 1168.3 1061 1168.3 1062 1168.3 1063 1168.4 1064 1168.4 1065 1168.4 1066 1168.4 1067 1168.4 1068 1168.4 1069 1168.4 1070 1168.4 1071 1168.5 1072 1168.5 1073 1168.5 1074 1168.5 1075 1168.5 1076 1168.5 1077 1168.5 1078 1168.5 1079 1168.6 1080 1168.6 1081 1168.6 1082 1168.6 1083 1168.6 1084 1168.6 1085 1168.6 1086 1168.6 1087 1168.6 1088 1168.7 1089 1168.7 1090 1168.7 1091 1168.7 1092 1168.7 1093 1168.7 1094 1168.7 1095 1168.7 1096 1168.7 1097 1168.7 1098 1168.7 1099 1168.6 1100 1168.2 1101 1167.6 1102 1166.3 1103 1164 1104 1160.1 1105 1154.3 1106 1146.1 1107 1135.7 1108 1123.8 1109 1111.6 1110 1100.9 1111 1093.6 1112 1090.9 1113 1093.6 1114 1101 1115 1111.7 1116 1123.9 1117 1135.9 1118 1146.3 1119 1154.5 1120 1160.3 1121 1164.2 1122 1166.5 1123 1167.8 1124 1168.5 1125 1168.9 1126 1169 1127 1169.1 1128 1169.1 1129 1169.1 1130 1169.2 1131 1169.2 1132 1169.2 1133 1169.2 1134 1169.2 1135 1169.2 1136 1169.2 1137 1169.2 1138 1169.3 1139 1169.3 1140 1169.3 1141 1169.3 1142 1169.3 1143 1169.3 1144 1169.3 1145 1169.3 1146 1169.4 1147 1169.4 1148 1169.4 1149 1169.4 1150 1169.4 1151 1169.4 1152 1169.4 1153 1169.4 1154 1169.4 1155 1169.5 1156 1169.5 1157 1169.5 1158 1169.5 1159 1169.5 1160 1169.5 1161 1169.5 1162 1169.5 1163 1169.6 1164 1169.6 1165 1169.6 1166 1169.6 1167 1169.6 1168 1169.6 1169 1169.6 1170 1169.6 1171 1169.7 1172 1169.7 1173 1169.7 1174 1169.7 1175 1169.7 1176 1169.7 1177 1169.7 1178 1169.7 1179 1169.7 1180 1169.8 1181 1169.8 1182 1169.8 1183 1169.8 1184 1169.8 1185 1169.8 1186 1169.8 1187 1169.8 1188 1169.9 1189 1169.9 1190 1169.9 1191 1169.9 1192 1169.9 1193 1169.9 1194 1169.9 1195 1169.9 1196 1170 1197 1170 1198 1170 1199 1170 1200 1170 1201 1170 1202 1170 1203 1170 1204 1170 1205 1170 1206 1170 1207 1170 1208 1170 1209 1170 1210 1170.1 1211 1170.1 1212 1170.1 1213 1170.1 1214 1170.1 1215 1170.1 1216 1170.1 1217 1170.1 1218 1170.1 1219 1170.1 1220 1170.1 1221 1170.1 1222 1170.1 1223 1170.1 1224 1170.1 1225 1170.1 1226 1170.1 1227 1170.1 1228 1170.1 1229 1170.2 1230 1170.2 1231 1170.2 1232 1170.2 1233 1170.2 1234 1170.2 1235 1170.2 1236 1170.2 1237 1170.2 1238 1170.2 1239 1170.2 1240 1170.2 1241 1170.2 1242 1170.2 1243 1170.2 1244 1170.2 1245 1170.2 1246 1170.2 1247 1170.3 1248 1170.3 1249 1170.3 1250 1170.3 1251 1170.3 1252 1170.3 1253 1170.3 1254 1170.3 1255 1170.3 1256 1170.3 1257 1170.3 1258 1170.3 1259 1170.3 1260 1170.3 1261 1170.3 1262 1170.3 1263 1170.3 1264 1170.3 1265 1170.3 1266 1170.4 1267 1170.4 1268 1170.4 1269 1170.4 1270 1170.4 1271 1170.4 1272 1170.4 1273 1170.4 1274 1170.4 1275 1170.4 1276 1170.4 1277 1170.4 1278 1170.4 1279 1170.4 1280 1170.4 1281 1170.4 1282 1170.4 1283 1170.4 1284 1170.4 1285 1170.5 1286 1170.5 1287 1170.5 1288 1170.5 1289 1170.5 1290 1170.5 1291 1170.5 1292 1170.5 1293 1170.5 1294 1170.5 1295 1170.5 1296 1170.5 1297 1170.5 1298 1170.5 1299 1170.5 1300 1170.5 1301 1170.5 1302 1170.5 1303 1170.5 1304 1170.6 1305 1170.6 1306 1170.6 1307 1170.6 1308 1170.6 1309 1170.6 1310 1170.6 1311 1170.6 1312 1170.6 1313 1170.6 1314 1170.6 1315 1170.6 1316 1170.6 1317 1170.6 1318 1170.6 1319 1170.6 1320 1170.6 1321 1170.6 1322 1170.7 1323 1170.7 1324 1170.7 1325 1170.7 1326 1170.7 1327 1170.7 1328 1170.7 1329 1170.7 1330 1170.7 1331 1170.7 1332 1170.7 1333 1170.7 1334 1170.7 1335 1170.7 1336 1170.7 1337 1170.7 1338 1170.7 1339 1170.7 1340 1170.6 1341 1170.4 1342 1170 1343 1169.2 1344 1167.6 1345 1164.8 1346 1160.3 1347 1153.6 1348 1144.5 1349 1133.2 1350 1120.7 1351 1108.5 1352 1098.3 1353 1092.1 1354 1091.1 1355 1095.3 1356 1104.1 1357 1115.7 1358 1128.4 1359 1140.3 1360 1150.3 1361 1157.9 1362 1163.3 1363 1166.7 1364 1168.8 1365 1169.9 1366 1170.4 1367 1170.7 1368 1170.8 1369 1170.9 1370 1170.9 1371 1170.9 1372 1170.9 1373 1170.9 1374 1170.9 1375 1170.9 1376 1170.9 1377 1170.9 1378 1170.9 1379 1171 1380 1171 1381 1171 1382 1171 1383 1171 1384 1171 1385 1171 1386 1171 1387 1171 1388 1171 1389 1171 1390 1171 1391 1171 1392 1171 1393 1171 1394 1171 1395 1171 1396 1171 1397 1171.1 1398 1171.1 1399 1171.1 1400 1171.1 1401 1171.1 1402 1171.1 1403 1171.1 1404 1171.1 1405 1171.1 1406 1171.1 1407 1171.1 1408 1171.1 1409 1171 1410 1170.9 1411 1170.6 1412 1170.2 1413 1169.3 1414 1167.9 1415 1165.8 1416 1162.9 1417 1159.3 1418 1155.3 1419 1151.3 1420 1147.9 1421 1145.7 1422 1145.2 1423 1146.4 1424 1149.2 1425 1152.9 1426 1157 1427 1160.9 1428 1164.2 1429 1166.8 1430 1168.6 1431 1169.8 1432 1170.5 1433 1170.9 1434 1171.1 1435 1171.1 1436 1171.1 1437 1170.9 1438 1170.5 1439 1169.9 1440 1168.8 1441 1167.1 1442 1164.5 1443 1161 1444 1156.6 1445 1151.3 1446 1145.6 1447 1140.2 1448 1135.5 1449 1132.4 1450 1131.3 1451 1132.4 1452 1135.5 1453 1140.2 1454 1145.7 1455 1151.4 1456 1156.6 1457 1161.1 1458 1164.6 1459 1167.1 1460 1168.9 1461 1170 1462 1170.7 1463 1171 1464 1171.2 1465 1171.3 1466 1171.4 1467 1171.4 1468 1171.4 1469 1171.4 1470 1171.4 1471 1171.4 1472 1171.5 1473 1171.5 1474 1171.5 1475 1171.5 1476 1171.5 1477 1171.5 1478 1171.5 1479 1171.5 1480 1171.5 1481 1171.5 1482 1171.5 1483 1171.5 1484 1171.5 1485 1171.5 1486 1171.5 1487 1171.5 1488 1171.5 1489 1171.5 1490 1171.5 1491 1171.6 1492 1171.6 1493 1171.6 1494 1171.6 1495 1171.6 1496 1171.6 1497 1171.6 1498 1171.6 1499 1171.6 1500 1171.6 1501 1171.6 1502 1171.6 1503 1171.6 1504 1171.6 1505 1171.6 1506 1171.6 1507 1171.6 1508 1171.6 1509 1171.6 1510 1171.7 1511 1171.7 1512 1171.7 1513 1171.7 1514 1171.7 1515 1171.7 1516 1171.7 1517 1171.7 1518 1171.7 1519 1171.7 1520 1171.7 1521 1171.7 1522 1171.7 1523 1171.7 1524 1171.7 1525 1171.7 1526 1171.7 1527 1171.7 1528 1171.5 1529 1171.3 1530 1170.9 1531 1170.2 1532 1169.1 1533 1167.6 1534 1165.9 1535 1164.2 1536 1162.7 1537 1161.9 1538 1161.9 1539 1162.7 1540 1164.2 1541 1165.9 1542 1167.7 1543 1169.1 1544 1170.2 1545 1171 1546 1171.4 1547 1171.7 1548 1171.8 1549 1171.8 1550 1171.9 1551 1171.9 1552 1171.9 1553 1171.9 1554 1171.9 1555 1171.9 1556 1171.9 1557 1171.9 1558 1171.9 1559 1171.9 1560 1171.9 1561 1171.9 1562 1171.9 1563 1171.9 1564 1171.9 1565 1171.9 1566 1172 1567 1172 1568 1172 1569 1172 1570 1172 1571 1172 1572 1172 1573 1172 1574 1172 1575 1172 1576 1172 1577 1172 1578 1172 1579 1172 1580 1172 1581 1172 1582 1172 1583 1172 1584 1172 1585 1172.1 1586 1172.1 1587 1172.1 1588 1172.1 1589 1172.1 1590 1172.1 1591 1172.1 1592 1172.1 1593 1172.1 1594 1172.1 1595 1172.1 1596 1172.1 1597 1172.1 1598 1172.1 1599 1172.1 1600 1172.1 1601 1172.1 1602 1172.1 1603 1172.1 1604 1172.2 1605 1172.2 1606 1172.2 1607 1172.2 1608 1172.2 1609 1172.2 1610 1172.2 1611 1172.2 1612 1172.2 1613 1172.2 1614 1172.2 1615 1172.2 1616 1172.2 1617 1172.2 1618 1172.2 1619 1172.2 1620 1172.2 1621 1172.2 1622 1172.3 1623 1172.3 1624 1172.3 1625 1172.3 1626 1172.3 1627 1172.3 1628 1172.3 1629 1172.3 1630 1172.3 1631 1172.3 1632 1172.3 1633 1172.3 1634 1172.3 1635 1172.3 1636 1172.3 1637 1172.3 1638 1172.3 1639 1172.3 1640 1172.3 1641 1172.4 1642 1172.4 1643 1172.4 1644 1172.4 1645 1172.4 1646 1172.4 1647 1172.4 1648 1172.4 1649 1172.4 1650 1172.4 1651 1172.4 1652 1172.4 1653 1172.4 1654 1172.4 1655 1172.4 1656 1172.4 1657 1172.3 1658 1172.1 1659 1171.8 1660 1171.1 1661 1170.1 1662 1168.7 1663 1167 1664 1165 1665 1163.2 1666 1162 1667 1161.5 1668 1162 1669 1163.3 1670 1165.1 1671 1167 1672 1168.8 1673 1170.2 1674 1171.2 1675 1171.8 1676 1172.2 1677 1172.4 1678 1172.5 1679 1172.5 1680 1172.6 1681 1172.6 1682 1172.6 1683 1172.6 1684 1172.6 1685 1172.6 1686 1172.6 1687 1172.6 1688 1172.6 1689 1172.6 1690 1172.6 1691 1172.6 1692 1172.6 1693 1172.6 1694 1172.6 1695 1172.6 1696 1172.6 1697 1172.7 1698 1172.7 1699 1172.7 1700 1172.7 1701 1172.7 1702 1172.7 1703 1172.7 1704 1172.7 1705 1172.7 1706 1172.7 1707 1172.7 1708 1172.7 1709 1172.7 1710 1172.7 1711 1172.7 1712 1172.7 1713 1172.7 1714 1172.7 1715 1172.7 1716 1172.8 1717 1172.8 1718 1172.8 1719 1172.8 1720 1172.8 1721 1172.8 1722 1172.8 1723 1172.8 1724 1172.8 1725 1172.8 1726 1172.8 1727 1172.8 1728 1172.8 1729 1172.8 1730 1172.8 1731 1172.8 1732 1172.8 1733 1172.8 1734 1172.8 1735 1172.9 1736 1172.9 1737 1172.9 1738 1172.9 1739 1172.9 1740 1172.9 1741 1172.9 1742 1172.9 1743 1172.9 1744 1172.9 1745 1172.9 1746 1172.9 1747 1172.9 1748 1172.9 1749 1172.9 1750 1172.9 1751 1172.9 1752 1172.9 1753 1172.9 1754 1173 1755 1173 1756 1173 1757 1173 1758 1173 1759 1173 1760 1173 1761 1173 1762 1173 1763 1173 1764 1173 1765 1173 1766 1173 1767 1173 1768 1173 1769 1173 1770 1173 1771 1173 1772 1173.1 1773 1173.1 1774 1173.1 1775 1173.1 1776 1173.1 1777 1173.1 1778 1173.1 1779 1173.1 1780 1173.1 1781 1173.1 1782 1173.1 1783 1173.1 1784 1173.1 1785 1173.1 1786 1173.1 1787 1173.1 1788 1173.1 1789 1173.1 1790 1173.1 1791 1173.2 1792 1173.2 1793 1173.2 1794 1173.2 1795 1173.2 1796 1173.2 1797 1173.2 1798 1173.2 1799 1173.2 1800 1173.2 1801 1173.2 1802 1173.2 1803 1173.2 1804 1173.2 1805 1173.2 1806 1173.2 1807 1173.2 1808 1173.2 1809 1173.2 1810 1173.3 1811 1173.3 1812 1173.3 1813 1173.3 1814 1173.3 1815 1173.3 1816 1173.3 1817 1173.3 1818 1173.3 1819 1173.3 1820 1173.2 1821 1173.2 1822 1173.1 1823 1172.8 1824 1172.4 1825 1171.7 1826 1170.7 1827 1169 1828 1166.6 1829 1163.4 1830 1159.4 1831 1154.5 1832 1149.1 1833 1143.6 1834 1138.4 1835 1134.2 1836 1131.4 1837 1130.4 1838 1131.4 1839 1134.2 1840 1138.4 1841 1143.6 1842 1149.2 1843 1154.6 1844 1159.4 1845 1163.5 1846 1166.7 1847 1169.1 1848 1170.8 1849 1171.9 1850 1172.6 1851 1173 1852 1173.2 1853 1173.4 1854 1173.4 1855 1173.5 1856 1173.5 1857 1173.5 1858 1173.5 1859 1173.5 1860 1173.5 1861 1173.5 1862 1173.5 1863 1173.5 1864 1173.5 1865 1173.5 1866 1173.6 1867 1173.6 1868 1173.6 1869 1173.6 1870 1173.6 1871 1173.6 1872 1173.6 1873 1173.6 1874 1173.6 1875 1173.6 1876 1173.6 1877 1173.6 1878 1173.6 1879 1173.6 1880 1173.6 1881 1173.6 1882 1173.6 1883 1173.6 1884 1173.6 1885 1173.7 1886 1173.7 1887 1173.7 1888 1173.7 1889 1173.7 1890 1173.7 1891 1173.7 1892 1173.7 1893 1173.7 1894 1173.6 1895 1173.6 1896 1173.5 1897 1173.3 1898 1173.1 1899 1172.7 1900 1172.2 1901 1171.5 1902 1170.7 1903 1169.9 1904 1169.1 1905 1168.4 1906 1167.9 1907 1167.8 1908 1167.9 1909 1168.4 1910 1169.1 1911 1169.9 1912 1170.8 1913 1171.6 1914 1172.3 1915 1172.8 1916 1173.2 1917 1173.4 1918 1173.6 1919 1173.7 1920 1173.8 1921 1173.8 1922 1173.8 1923 1173.9 1924 1173.9 1925 1173.9 1926 1173.9 1927 1173.9 1928 1173.9 1929 1173.9 1930 1173.9 1931 1173.9 1932 1173.9 1933 1173.9 1934 1173.9 1935 1173.9 1936 1173.9 1937 1173.9 1938 1173.9 1939 1173.9 1940 1173.9 1941 1174 1942 1174 1943 1174 1944 1174 1945 1174 1946 1174" fill="none" stroke="#ff1a1a" stroke-width="6.5" stroke-linejoin="round"/><path d="M167 932L168 932 169 932 170 932 171 932 172 932 173 932 174 932 175 932 176 932 177 932 178 932 179 932 180 932 181 932 182 932 183 932 184 932 185 931.9 186 931.9 187 931.9 188 931.9 189 931.9 190 931.9 191 931.9 192 931.9 193 931.9 194 931.9 195 931.9 196 931.9 197 931.9 198 931.9 199 931.9 200 931.9 201 931.9 202 931.9 203 931.9 204 931.9 205 931.9 206 931.9 207 931.9 208 931.9 209 931.9 210 931.9 211 931.9 212 931.9 213 931.9 214 931.9 215 931.9 216 931.9 217 931.9 218 931.9 219 931.9 220 931.9 221 931.9 222 931.9 223 931.9 224 931.9 225 931.8 226 931.8 227 931.8 228 931.8 229 931.8 230 931.8 231 931.8 232 931.8 233 931.8 234 931.8 235 931.8 236 931.8 237 931.8 238 931.8 239 931.8 240 931.8 241 931.8 242 931.8 243 931.8 244 931.8 245 931.8 246 931.8 247 931.8 248 931.8 249 931.8 250 931.8 251 931.8 252 931.8 253 931.8 254 931.8 255 931.8 256 931.8 257 931.8 258 931.8 259 931.8 260 931.8 261 931.8 262 931.8 263 931.8 264 931.7 265 931.7 266 931.7 267 931.7 268 931.7 269 931.7 270 931.7 271 931.7 272 931.7 273 931.7 274 931.7 275 931.7 276 931.7 277 931.7 278 931.7 279 931.7 280 931.7 281 931.7 282 931.7 283 931.7 284 931.7 285 931.7 286 931.7 287 931.7 288 931.7 289 931.7 290 931.7 291 931.7 292 931.7 293 931.7 294 931.7 295 931.7 296 931.7 297 931.7 298 931.7 299 931.7 300 931.7 301 931.7 302 931.7 303 931.7 304 931.6 305 931.6 306 931.6 307 931.6 308 931.6 309 931.6 310 931.4 311 931.1 312 930.4 313 929.2 314 927.3 315 924.7 316 921.7 317 918.9 318 917 319 916.7 320 918 321 920.5 322 923.5 323 926.3 324 928.5 325 930 326 930.9 327 931.3 328 931.5 329 931.5 330 931.6 331 931.6 332 931.6 333 931.6 334 931.6 335 931.6 336 931.6 337 931.6 338 931.6 339 931.6 340 931.6 341 931.6 342 931.6 343 931.5 344 931.5 345 931.5 346 931.5 347 931.5 348 931.5 349 931.5 350 931.5 351 931.5 352 931.5 353 931.5 354 931.5 355 931.5 356 931.5 357 931.5 358 931.5 359 931.5 360 931.5 361 931.5 362 931.5 363 931.5 364 931.5 365 931.5 366 931.5 367 931.5 368 931.5 369 931.5 370 931.5 371 931.5 372 931.5 373 931.5 374 931.5 375 931.5 376 931.5 377 931.5 378 931.5 379 931.5 380 931.5 381 931.5 382 931.5 383 931.4 384 931.4 385 931.4 386 931.4 387 931.4 388 931.4 389 931.4 390 931.4 391 931.4 392 931.4 393 931.4 394 931.4 395 931.4 396 931.4 397 931.4 398 931.4 399 931.4 400 931.4 401 931.4 402 931.4 403 931.4 404 931.4 405 931.4 406 931.4 407 931.4 408 931.4 409 931.4 410 931.4 411 931.4 412 931.4 413 931.4 414 931.4 415 931.4 416 931.4 417 931.4 418 931.4 419 931.4 420 931.4 421 931.4 422 931.3 423 931.3 424 931.3 425 931.3 426 931.3 427 931.3 428 931.3 429 931.3 430 931.3 431 931.3 432 931.3 433 931.3 434 931.3 435 931.3 436 931.3 437 931.3 438 931.3 439 931.3 440 931.3 441 931.3 442 931.3 443 931.3 444 931.3 445 931.3 446 931.3 447 931.3 448 931.3 449 931.3 450 931.3 451 931.3 452 931.3 453 931.3 454 931.3 455 931.3 456 931.3 457 931.3 458 931.3 459 931.3 460 931.3 461 931.3 462 931.2 463 931.2 464 931.2 465 931.2 466 931.2 467 931.2 468 931.2 469 931.2 470 931.2 471 931.2 472 931.2 473 931.2 474 931.2 475 931.2 476 931.2 477 931.2 478 931.2 479 931.2 480 931.2 481 931.2 482 931.2 483 931.2 484 931.2 485 931.2 486 931.2 487 931.2 488 931.2 489 931.2 490 931.2 491 931.2 492 931.2 493 931.2 494 931.2 495 931.2 496 931.2 497 931.2 498 931.2 499 931.2 500 931.2 501 931.1 502 931.1 503 931.1 504 931.1 505 931.1 506 931.1 507 931.1 508 931.1 509 931.1 510 931.1 511 931.1 512 931.1 513 931.1 514 931.1 515 931.1 516 931.1 517 931.1 518 931.1 519 931.1 520 931.1 521 931.1 522 931.1 523 931.1 524 931.1 525 931.1 526 931.1 527 931.1 528 931.1 529 931.1 530 931.1 531 931.1 532 931.1 533 931.1 534 931.1 535 931.1 536 931.1 537 931.1 538 931.1 539 931.1 540 931.1 541 931 542 931 543 931 544 931 545 931 546 931 547 931 548 931 549 931 550 931 551 931 552 931 553 930.9 554 930.6 555 929.9 556 928.1 557 924.2 558 916.8 559 904 560 884.6 561 858.7 562 829 563 800.4 564 779.6 565 772 566 779.6 567 800.4 568 828.9 569 858.7 570 884.6 571 904 572 916.7 573 924.1 574 928 575 929.7 576 930.5 577 930.7 578 930.8 579 930.9 580 930.9 581 930.8 582 930.8 583 930.8 584 930.8 585 930.8 586 930.8 587 930.8 588 930.8 589 930.8 590 930.8 591 930.8 592 930.8 593 930.8 594 930.8 595 930.8 596 930.7 597 930.7 598 930.7 599 930.7 600 930.7 601 930.7 602 930.7 603 930.7 604 930.7 605 930.7 606 930.7 607 930.7 608 930.7 609 930.6 610 930.6 611 930.6 612 930.6 613 930.6 614 930.6 615 930.5 616 930.4 617 930 618 929.2 619 927.7 620 925.4 621 922.3 622 918.6 623 915.3 624 913 625 912.6 626 914.2 627 917.2 628 920.8 629 924.2 630 926.8 631 928.6 632 929.6 633 930.1 634 930.3 635 930.4 636 930.4 637 930.4 638 930.4 639 930.4 640 930.4 641 930.4 642 930.4 643 930.4 644 930.4 645 930.4 646 930.4 647 930.4 648 930.4 649 930.4 650 930.4 651 930.4 652 930.3 653 930.3 654 930.3 655 930.3 656 930.3 657 930.3 658 930.3 659 930.3 660 930.3 661 930.3 662 930.3 663 930.3 664 930.3 665 930.2 666 930.2 667 930.2 668 930.2 669 930.2 670 930.2 671 930.2 672 930.2 673 930.2 674 930.2 675 930.2 676 930.2 677 930.2 678 930.2 679 930.1 680 930.1 681 930.1 682 930.1 683 930.1 684 930.1 685 930.1 686 930.1 687 930.1 688 930.1 689 930.1 690 930.1 691 930.1 692 930.1 693 930 694 930 695 930 696 930 697 930 698 930 699 930 700 930 701 930 702 929.9 703 929.9 704 929.9 705 929.8 706 929.8 707 929.8 708 929.7 709 929.7 710 929.7 711 929.6 712 929.6 713 929.6 714 929.5 715 929.5 716 929.3 717 929.1 718 928.7 719 928 720 926.9 721 925.5 722 923.8 723 922.3 724 921.4 725 921.2 726 922 727 923.3 728 924.9 729 926.4 730 927.5 731 928.2 732 928.6 733 928.8 734 928.8 735 928.8 736 928.8 737 928.8 738 928.7 739 928.7 740 928.7 741 928.6 742 928.6 743 928.6 744 928.5 745 928.5 746 928.5 747 928.4 748 928.4 749 928.4 750 928.3 751 928.3 752 928.3 753 928.2 754 928.2 755 928.2 756 928.1 757 928.1 758 928.1 759 928 760 928 761 927.8 762 927.6 763 927.4 764 927.2 765 927 766 926.8 767 926.6 768 926.4 769 926.2 770 926 771 925.8 772 925.6 773 925.4 774 925.2 775 925 776 924.8 777 924.6 778 924.4 779 924.2 780 924 781 923.8 782 923.6 783 923.4 784 923.2 785 923 786 922.8 787 922.6 788 922.4 789 922.2 790 922 791 921.8 792 921.6 793 921.4 794 921.2 795 921 796 920.8 797 920.6 798 920.4 799 920.2 800 919.9 801 919.6 802 919.2 803 918.7 804 918.1 805 917.3 806 916.4 807 915.1 808 913.4 809 911.4 810 908.8 811 905.8 812 902.1 813 898 814 893.4 815 888.3 816 883.3 817 878 818 872.4 819 866.1 820 858.6 821 849 822 835.6 823 816.5 824 789.3 825 751.8 826 703.4 827 645.1 828 580.9 829 517.5 830 463.3 831 426.7 832 413.9 833 427.1 834 464 835 518.5 836 582.2 837 646.7 838 705.1 839 753.4 840 790.1 841 815.7 842 831.8 843 840.6 844 844.7 845 846.6 846 848.8 847 853.2 848 860.5 849 870.2 850 881.1 851 891.9 852 901.2 853 908.5 854 914 855 917.9 856 920.8 857 922.9 858 924.6 859 925.9 860 927 861 927.9 862 928.7 863 928.8 864 928.9 865 929 866 929 867 929 868 929 869 929 870 929 871 929.1 872 929.1 873 929.1 874 929.1 875 929.1 876 929.1 877 929.1 878 929.1 879 929.1 880 929.1 881 929.1 882 929.1 883 929.1 884 929.1 885 929.1 886 929.1 887 929.1 888 929.2 889 929.2 890 929.2 891 929.2 892 929.2 893 929.2 894 929.2 895 929.2 896 929.2 897 929.2 898 929.2 899 929.2 900 929.2 901 929.2 902 929.2 903 929.2 904 929.2 905 929.3 906 929.3 907 929.3 908 929.3 909 929.3 910 929.3 911 929.3 912 929.3 913 929.3 914 929.3 915 929.3 916 929.3 917 929.3 918 929.3 919 929.3 920 929.3 921 929.3 922 929.4 923 929.4 924 929.4 925 929.4 926 929.4 927 929.4 928 929.4 929 929.4 930 929.4 931 929.4 932 929.4 933 929.4 934 929.4 935 929.4 936 929.4 937 929.4 938 929.4 939 929.5 940 929.5 941 929.5 942 929.5 943 929.5 944 929.5 945 929.5 946 929.5 947 929.5 948 929.5 949 929.5 950 929.5 951 929.5 952 929.5 953 929.5 954 929.5 955 929.6 956 929.6 957 929.6 958 929.6 959 929.6 960 929.6 961 929.6 962 929.6 963 929.6 964 929.6 965 929.6 966 929.6 967 929.6 968 929.6 969 929.6 970 929.6 971 929.6 972 929.7 973 929.7 974 929.7 975 929.7 976 929.7 977 929.7 978 929.7 979 929.7 980 929.7 981 929.7 982 929.7 983 929.7 984 929.7 985 929.7 986 929.7 987 929.7 988 929.7 989 929.8 990 929.8 991 929.8 992 929.8 993 929.8 994 929.8 995 929.8 996 929.8 997 929.8 998 929.8 999 929.8 1000 929.8 1001 929.8 1002 929.8 1003 929.8 1004 929.8 1005 929.8 1006 929.9 1007 929.9 1008 929.9 1009 929.9 1010 929.9 1011 929.9 1012 929.9 1013 929.9 1014 929.9 1015 929.9 1016 929.9 1017 929.9 1018 929.9 1019 929.9 1020 929.9 1021 929.9 1022 929.9 1023 930 1024 930 1025 930 1026 930 1027 930 1028 930 1029 930 1030 930 1031 930 1032 930 1033 930 1034 930 1035 930 1036 930 1037 930 1038 930 1039 930 1040 930.1 1041 930.1 1042 930.1 1043 930.1 1044 930.1 1045 930.1 1046 930.1 1047 930.1 1048 930.1 1049 930.1 1050 930.1 1051 930.1 1052 930.1 1053 930.1 1054 930.1 1055 930.1 1056 930.1 1057 930.2 1058 930.2 1059 930.2 1060 930.2 1061 930.2 1062 930.2 1063 930.2 1064 930.2 1065 930.2 1066 930.2 1067 930.2 1068 930.2 1069 930.2 1070 930.2 1071 930.2 1072 930.2 1073 930.2 1074 930.3 1075 930.3 1076 930.3 1077 930.3 1078 930.3 1079 930.3 1080 930.3 1081 930.3 1082 930.3 1083 930.3 1084 930.3 1085 930.3 1086 930.3 1087 930.3 1088 930.3 1089 930.3 1090 930.3 1091 930.4 1092 930.4 1093 930.4 1094 930.4 1095 930.4 1096 930.4 1097 930.4 1098 930.4 1099 930.3 1100 930.1 1101 929.6 1102 928.7 1103 926.7 1104 923.4 1105 918 1106 910.5 1107 900.9 1108 890.5 1109 880.8 1110 874 1111 871.5 1112 874 1113 880.9 1114 890.5 1115 901 1116 910.5 1117 918.1 1118 923.5 1119 926.8 1120 928.8 1121 929.8 1122 930.2 1123 930.4 1124 930.5 1125 930.5 1126 930.6 1127 930.6 1128 930.6 1129 930.6 1130 930.6 1131 930.6 1132 930.6 1133 930.6 1134 930.6 1135 930.6 1136 930.6 1137 930.6 1138 930.6 1139 930.6 1140 930.6 1141 930.7 1142 930.7 1143 930.7 1144 930.7 1145 930.7 1146 930.7 1147 930.7 1148 930.7 1149 930.7 1150 930.7 1151 930.7 1152 930.7 1153 930.7 1154 930.7 1155 930.7 1156 930.7 1157 930.7 1158 930.8 1159 930.8 1160 930.8 1161 930.8 1162 930.8 1163 930.8 1164 930.8 1165 930.8 1166 930.8 1167 930.8 1168 930.8 1169 930.8 1170 930.8 1171 930.8 1172 930.8 1173 930.8 1174 930.8 1175 930.9 1176 930.9 1177 930.9 1178 930.9 1179 930.9 1180 930.9 1181 930.9 1182 930.9 1183 930.9 1184 930.9 1185 930.9 1186 930.9 1187 930.9 1188 930.9 1189 930.9 1190 930.9 1191 930.9 1192 931 1193 931 1194 931 1195 931 1196 931 1197 931 1198 931 1199 931 1200 931 1201 931 1202 931 1203 931 1204 931 1205 931 1206 931 1207 931 1208 931 1209 931 1210 931 1211 931 1212 931 1213 931 1214 931 1215 931 1216 931 1217 931 1218 931 1219 931 1220 931 1221 931 1222 931 1223 931 1224 931 1225 931 1226 931 1227 931 1228 931 1229 931 1230 931 1231 931 1232 931 1233 931 1234 931 1235 931 1236 931 1237 931 1238 931 1239 931 1240 931 1241 931 1242 931 1243 931 1244 931 1245 931 1246 931 1247 931 1248 931 1249 931 1250 931 1251 931 1252 931 1253 931 1254 931 1255 931 1256 931 1257 931 1258 931 1259 931 1260 931 1261 931 1262 931 1263 931 1264 931 1265 931 1266 931 1267 931 1268 931 1269 931 1270 931 1271 931 1272 931 1273 931 1274 931 1275 931 1276 931.1 1277 931.1 1278 931.1 1279 931.1 1280 931.1 1281 931.1 1282 931.1 1283 931.1 1284 931.1 1285 931.1 1286 931.1 1287 931.1 1288 931.1 1289 931.1 1290 931.1 1291 931.1 1292 931.1 1293 931.1 1294 931.1 1295 931.1 1296 931.1 1297 931.1 1298 931.1 1299 931.1 1300 931.1 1301 931.1 1302 931.1 1303 931.1 1304 931.1 1305 931.1 1306 931.1 1307 931.1 1308 931.1 1309 931.1 1310 931.1 1311 931.1 1312 931.1 1313 931.1 1314 931.1 1315 931.1 1316 931.1 1317 931.1 1318 931.1 1319 931.1 1320 931.1 1321 931.1 1322 931.1 1323 931.1 1324 931.1 1325 931.1 1326 931.1 1327 931.1 1328 931.1 1329 931.1 1330 931.1 1331 931.1 1332 931.1 1333 931.1 1334 931.1 1335 931.1 1336 931.1 1337 931 1338 931 1339 930.8 1340 930.4 1341 929.6 1342 928.1 1343 925.3 1344 920.7 1345 913.7 1346 904 1347 891.6 1348 877.3 1349 862.8 1350 850 1351 841.2 1352 838.1 1353 841.2 1354 850 1355 862.8 1356 877.3 1357 891.6 1358 904 1359 913.7 1360 920.7 1361 925.3 1362 928.1 1363 929.6 1364 930.4 1365 930.8 1366 931 1367 931.1 1368 931.1 1369 931.1 1370 931.1 1371 931.1 1372 931.1 1373 931.1 1374 931.1 1375 931.1 1376 931.1 1377 931.1 1378 931.1 1379 931.1 1380 931.1 1381 931.1 1382 931.1 1383 931.1 1384 931.1 1385 931.1 1386 931.1 1387 931.1 1388 931.1 1389 931.1 1390 931.1 1391 931.1 1392 931.1 1393 931.1 1394 931.1 1395 931.1 1396 931.1 1397 931.1 1398 931.1 1399 931.1 1400 931.1 1401 931.1 1402 931.1 1403 931.1 1404 931.1 1405 931.1 1406 931.1 1407 931.1 1408 931.1 1409 931.1 1410 930.9 1411 930.7 1412 930.1 1413 929.1 1414 927.4 1415 924.7 1416 921.1 1417 916.9 1418 912.5 1419 908.8 1420 906.5 1421 906.3 1422 908.2 1423 911.7 1424 916 1425 920.3 1426 924.1 1427 926.9 1428 928.8 1429 930 1430 930.6 1431 930.9 1432 931.1 1433 931.1 1434 931.1 1435 931.1 1436 931 1437 930.7 1438 930.2 1439 929.4 1440 928 1441 925.9 1442 923 1443 919.3 1444 915 1445 910.6 1446 906.7 1447 904.1 1448 903.2 1449 904.1 1450 906.7 1451 910.6 1452 915 1453 919.3 1454 923 1455 925.9 1456 928 1457 929.4 1458 930.3 1459 930.7 1460 931 1461 931.1 1462 931.1 1463 931.2 1464 931.2 1465 931.2 1466 931.2 1467 931.2 1468 931.2 1469 931.2 1470 931.2 1471 931.2 1472 931.2 1473 931.2 1474 931.2 1475 931.2 1476 931.2 1477 931.2 1478 931.2 1479 931.2 1480 931.2 1481 931.2 1482 931.2 1483 931.2 1484 931.2 1485 931.2 1486 931.2 1487 931.2 1488 931.2 1489 931.2 1490 931.2 1491 931.2 1492 931.2 1493 931.2 1494 931.2 1495 931.2 1496 931.2 1497 931.2 1498 931.2 1499 931.2 1500 931.2 1501 931.2 1502 931.2 1503 931.2 1504 931.2 1505 931.2 1506 931.2 1507 931.2 1508 931.2 1509 931.2 1510 931.2 1511 931.2 1512 931.2 1513 931.2 1514 931.2 1515 931.2 1516 931.2 1517 931.2 1518 931.2 1519 931.2 1520 931.2 1521 931.2 1522 931.2 1523 931.2 1524 931.2 1525 931.1 1526 930.9 1527 930.7 1528 930.1 1529 929.3 1530 928.2 1531 926.7 1532 925.1 1533 923.7 1534 922.6 1535 922.2 1536 922.6 1537 923.7 1538 925.1 1539 926.7 1540 928.2 1541 929.3 1542 930.2 1543 930.7 1544 931 1545 931.1 1546 931.2 1547 931.2 1548 931.2 1549 931.2 1550 931.2 1551 931.2 1552 931.2 1553 931.2 1554 931.2 1555 931.2 1556 931.2 1557 931.2 1558 931.2 1559 931.2 1560 931.2 1561 931.2 1562 931.2 1563 931.2 1564 931.2 1565 931.2 1566 931.2 1567 931.2 1568 931.2 1569 931.2 1570 931.2 1571 931.2 1572 931.2 1573 931.2 1574 931.2 1575 931.2 1576 931.3 1577 931.3 1578 931.3 1579 931.3 1580 931.3 1581 931.3 1582 931.3 1583 931.3 1584 931.3 1585 931.3 1586 931.3 1587 931.3 1588 931.3 1589 931.3 1590 931.3 1591 931.3 1592 931.3 1593 931.3 1594 931.3 1595 931.3 1596 931.3 1597 931.3 1598 931.3 1599 931.3 1600 931.3 1601 931.3 1602 931.3 1603 931.3 1604 931.3 1605 931.3 1606 931.3 1607 931.3 1608 931.3 1609 931.3 1610 931.3 1611 931.3 1612 931.3 1613 931.3 1614 931.3 1615 931.3 1616 931.3 1617 931.3 1618 931.3 1619 931.3 1620 931.3 1621 931.3 1622 931.3 1623 931.3 1624 931.3 1625 931.3 1626 931.3 1627 931.3 1628 931.3 1629 931.3 1630 931.3 1631 931.3 1632 931.3 1633 931.3 1634 931.3 1635 931.3 1636 931.3 1637 931.3 1638 931.3 1639 931.3 1640 931.3 1641 931.3 1642 931.3 1643 931.3 1644 931.3 1645 931.3 1646 931.3 1647 931.3 1648 931.3 1649 931.3 1650 931.3 1651 931.3 1652 931.3 1653 931.3 1654 931.2 1655 931.1 1656 930.9 1657 930.5 1658 929.8 1659 928.7 1660 927.3 1661 925.6 1662 923.8 1663 922.4 1664 921.5 1665 921.4 1666 922.1 1667 923.5 1668 925.3 1669 927 1670 928.5 1671 929.6 1672 930.4 1673 930.8 1674 931.1 1675 931.2 1676 931.3 1677 931.3 1678 931.3 1679 931.3 1680 931.3 1681 931.3 1682 931.3 1683 931.3 1684 931.3 1685 931.3 1686 931.3 1687 931.3 1688 931.3 1689 931.3 1690 931.3 1691 931.3 1692 931.3 1693 931.3 1694 931.3 1695 931.3 1696 931.3 1697 931.3 1698 931.3 1699 931.3 1700 931.3 1701 931.3 1702 931.3 1703 931.3 1704 931.3 1705 931.3 1706 931.3 1707 931.3 1708 931.3 1709 931.3 1710 931.3 1711 931.3 1712 931.3 1713 931.3 1714 931.3 1715 931.3 1716 931.3 1717 931.3 1718 931.3 1719 931.3 1720 931.3 1721 931.3 1722 931.3 1723 931.3 1724 931.3 1725 931.4 1726 931.4 1727 931.4 1728 931.4 1729 931.4 1730 931.4 1731 931.4 1732 931.4 1733 931.4 1734 931.4 1735 931.4 1736 931.4 1737 931.4 1738 931.4 1739 931.4 1740 931.4 1741 931.4 1742 931.4 1743 931.4 1744 931.4 1745 931.4 1746 931.4 1747 931.4 1748 931.4 1749 931.4 1750 931.4 1751 931.4 1752 931.4 1753 931.4 1754 931.4 1755 931.4 1756 931.4 1757 931.4 1758 931.4 1759 931.4 1760 931.4 1761 931.4 1762 931.4 1763 931.4 1764 931.4 1765 931.4 1766 931.4 1767 931.4 1768 931.4 1769 931.4 1770 931.4 1771 931.4 1772 931.4 1773 931.4 1774 931.4 1775 931.4 1776 931.4 1777 931.4 1778 931.4 1779 931.4 1780 931.4 1781 931.4 1782 931.4 1783 931.4 1784 931.4 1785 931.4 1786 931.4 1787 931.4 1788 931.4 1789 931.4 1790 931.4 1791 931.4 1792 931.4 1793 931.4 1794 931.4 1795 931.4 1796 931.4 1797 931.4 1798 931.4 1799 931.4 1800 931.4 1801 931.4 1802 931.4 1803 931.4 1804 931.4 1805 931.4 1806 931.4 1807 931.4 1808 931.4 1809 931.4 1810 931.4 1811 931.4 1812 931.4 1813 931.4 1814 931.4 1815 931.4 1816 931.4 1817 931.4 1818 931.4 1819 931.3 1820 931.2 1821 931 1822 930.6 1823 929.9 1824 928.8 1825 927 1826 924.3 1827 920.6 1828 915.9 1829 910.4 1830 904.5 1831 898.7 1832 893.8 1833 890.6 1834 889.4 1835 890.6 1836 893.8 1837 898.7 1838 904.5 1839 910.4 1840 915.9 1841 920.6 1842 924.3 1843 927 1844 928.8 1845 930 1846 930.7 1847 931 1848 931.2 1849 931.4 1850 931.4 1851 931.4 1852 931.4 1853 931.4 1854 931.4 1855 931.4 1856 931.4 1857 931.4 1858 931.4 1859 931.4 1860 931.4 1861 931.4 1862 931.4 1863 931.4 1864 931.4 1865 931.4 1866 931.4 1867 931.4 1868 931.4 1869 931.4 1870 931.4 1871 931.4 1872 931.4 1873 931.4 1874 931.4 1875 931.4 1876 931.5 1877 931.5 1878 931.5 1879 931.5 1880 931.5 1881 931.5 1882 931.5 1883 931.5 1884 931.5 1885 931.5 1886 931.5 1887 931.5 1888 931.5 1889 931.4 1890 931.4 1891 931.4 1892 931.4 1893 931.3 1894 931.2 1895 930.9 1896 930.6 1897 930.2 1898 929.6 1899 929 1900 928.3 1901 927.6 1902 927 1903 926.6 1904 926.5 1905 926.6 1906 927 1907 927.6 1908 928.3 1909 929 1910 929.6 1911 930.2 1912 930.6 1913 930.9 1914 931.2 1915 931.3 1916 931.4 1917 931.4 1918 931.5 1919 931.5 1920 931.5 1921 931.5 1922 931.5 1923 931.5 1924 931.5 1925 931.5 1926 931.5 1927 931.5 1928 931.5 1929 931.5 1930 931.5 1931 931.5 1932 931.5 1933 931.5 1934 931.5 1935 931.5 1936 931.5 1937 931.5 1938 931.5 1939 931.5 1940 931.5 1941 931.5 1942 931.5 1943 931.5 1944 931.5 1945 931.5 1946 931.5" fill="none" stroke="#8e0a0a" stroke-opacity="0.16" stroke-width="15" stroke-linejoin="round"/><path d="M167 932L168 932 169 932 170 932 171 932 172 932 173 932 174 932 175 932 176 932 177 932 178 932 179 932 180 932 181 932 182 932 183 932 184 932 185 931.9 186 931.9 187 931.9 188 931.9 189 931.9 190 931.9 191 931.9 192 931.9 193 931.9 194 931.9 195 931.9 196 931.9 197 931.9 198 931.9 199 931.9 200 931.9 201 931.9 202 931.9 203 931.9 204 931.9 205 931.9 206 931.9 207 931.9 208 931.9 209 931.9 210 931.9 211 931.9 212 931.9 213 931.9 214 931.9 215 931.9 216 931.9 217 931.9 218 931.9 219 931.9 220 931.9 221 931.9 222 931.9 223 931.9 224 931.9 225 931.8 226 931.8 227 931.8 228 931.8 229 931.8 230 931.8 231 931.8 232 931.8 233 931.8 234 931.8 235 931.8 236 931.8 237 931.8 238 931.8 239 931.8 240 931.8 241 931.8 242 931.8 243 931.8 244 931.8 245 931.8 246 931.8 247 931.8 248 931.8 249 931.8 250 931.8 251 931.8 252 931.8 253 931.8 254 931.8 255 931.8 256 931.8 257 931.8 258 931.8 259 931.8 260 931.8 261 931.8 262 931.8 263 931.8 264 931.7 265 931.7 266 931.7 267 931.7 268 931.7 269 931.7 270 931.7 271 931.7 272 931.7 273 931.7 274 931.7 275 931.7 276 931.7 277 931.7 278 931.7 279 931.7 280 931.7 281 931.7 282 931.7 283 931.7 284 931.7 285 931.7 286 931.7 287 931.7 288 931.7 289 931.7 290 931.7 291 931.7 292 931.7 293 931.7 294 931.7 295 931.7 296 931.7 297 931.7 298 931.7 299 931.7 300 931.7 301 931.7 302 931.7 303 931.7 304 931.6 305 931.6 306 931.6 307 931.6 308 931.6 309 931.6 310 931.4 311 931.1 312 930.4 313 929.2 314 927.3 315 924.7 316 921.7 317 918.9 318 917 319 916.7 320 918 321 920.5 322 923.5 323 926.3 324 928.5 325 930 326 930.9 327 931.3 328 931.5 329 931.5 330 931.6 331 931.6 332 931.6 333 931.6 334 931.6 335 931.6 336 931.6 337 931.6 338 931.6 339 931.6 340 931.6 341 931.6 342 931.6 343 931.5 344 931.5 345 931.5 346 931.5 347 931.5 348 931.5 349 931.5 350 931.5 351 931.5 352 931.5 353 931.5 354 931.5 355 931.5 356 931.5 357 931.5 358 931.5 359 931.5 360 931.5 361 931.5 362 931.5 363 931.5 364 931.5 365 931.5 366 931.5 367 931.5 368 931.5 369 931.5 370 931.5 371 931.5 372 931.5 373 931.5 374 931.5 375 931.5 376 931.5 377 931.5 378 931.5 379 931.5 380 931.5 381 931.5 382 931.5 383 931.4 384 931.4 385 931.4 386 931.4 387 931.4 388 931.4 389 931.4 390 931.4 391 931.4 392 931.4 393 931.4 394 931.4 395 931.4 396 931.4 397 931.4 398 931.4 399 931.4 400 931.4 401 931.4 402 931.4 403 931.4 404 931.4 405 931.4 406 931.4 407 931.4 408 931.4 409 931.4 410 931.4 411 931.4 412 931.4 413 931.4 414 931.4 415 931.4 416 931.4 417 931.4 418 931.4 419 931.4 420 931.4 421 931.4 422 931.3 423 931.3 424 931.3 425 931.3 426 931.3 427 931.3 428 931.3 429 931.3 430 931.3 431 931.3 432 931.3 433 931.3 434 931.3 435 931.3 436 931.3 437 931.3 438 931.3 439 931.3 440 931.3 441 931.3 442 931.3 443 931.3 444 931.3 445 931.3 446 931.3 447 931.3 448 931.3 449 931.3 450 931.3 451 931.3 452 931.3 453 931.3 454 931.3 455 931.3 456 931.3 457 931.3 458 931.3 459 931.3 460 931.3 461 931.3 462 931.2 463 931.2 464 931.2 465 931.2 466 931.2 467 931.2 468 931.2 469 931.2 470 931.2 471 931.2 472 931.2 473 931.2 474 931.2 475 931.2 476 931.2 477 931.2 478 931.2 479 931.2 480 931.2 481 931.2 482 931.2 483 931.2 484 931.2 485 931.2 486 931.2 487 931.2 488 931.2 489 931.2 490 931.2 491 931.2 492 931.2 493 931.2 494 931.2 495 931.2 496 931.2 497 931.2 498 931.2 499 931.2 500 931.2 501 931.1 502 931.1 503 931.1 504 931.1 505 931.1 506 931.1 507 931.1 508 931.1 509 931.1 510 931.1 511 931.1 512 931.1 513 931.1 514 931.1 515 931.1 516 931.1 517 931.1 518 931.1 519 931.1 520 931.1 521 931.1 522 931.1 523 931.1 524 931.1 525 931.1 526 931.1 527 931.1 528 931.1 529 931.1 530 931.1 531 931.1 532 931.1 533 931.1 534 931.1 535 931.1 536 931.1 537 931.1 538 931.1 539 931.1 540 931.1 541 931 542 931 543 931 544 931 545 931 546 931 547 931 548 931 549 931 550 931 551 931 552 931 553 930.9 554 930.6 555 929.9 556 928.1 557 924.2 558 916.8 559 904 560 884.6 561 858.7 562 829 563 800.4 564 779.6 565 772 566 779.6 567 800.4 568 828.9 569 858.7 570 884.6 571 904 572 916.7 573 924.1 574 928 575 929.7 576 930.5 577 930.7 578 930.8 579 930.9 580 930.9 581 930.8 582 930.8 583 930.8 584 930.8 585 930.8 586 930.8 587 930.8 588 930.8 589 930.8 590 930.8 591 930.8 592 930.8 593 930.8 594 930.8 595 930.8 596 930.7 597 930.7 598 930.7 599 930.7 600 930.7 601 930.7 602 930.7 603 930.7 604 930.7 605 930.7 606 930.7 607 930.7 608 930.7 609 930.6 610 930.6 611 930.6 612 930.6 613 930.6 614 930.6 615 930.5 616 930.4 617 930 618 929.2 619 927.7 620 925.4 621 922.3 622 918.6 623 915.3 624 913 625 912.6 626 914.2 627 917.2 628 920.8 629 924.2 630 926.8 631 928.6 632 929.6 633 930.1 634 930.3 635 930.4 636 930.4 637 930.4 638 930.4 639 930.4 640 930.4 641 930.4 642 930.4 643 930.4 644 930.4 645 930.4 646 930.4 647 930.4 648 930.4 649 930.4 650 930.4 651 930.4 652 930.3 653 930.3 654 930.3 655 930.3 656 930.3 657 930.3 658 930.3 659 930.3 660 930.3 661 930.3 662 930.3 663 930.3 664 930.3 665 930.2 666 930.2 667 930.2 668 930.2 669 930.2 670 930.2 671 930.2 672 930.2 673 930.2 674 930.2 675 930.2 676 930.2 677 930.2 678 930.2 679 930.1 680 930.1 681 930.1 682 930.1 683 930.1 684 930.1 685 930.1 686 930.1 687 930.1 688 930.1 689 930.1 690 930.1 691 930.1 692 930.1 693 930 694 930 695 930 696 930 697 930 698 930 699 930 700 930 701 930 702 929.9 703 929.9 704 929.9 705 929.8 706 929.8 707 929.8 708 929.7 709 929.7 710 929.7 711 929.6 712 929.6 713 929.6 714 929.5 715 929.5 716 929.3 717 929.1 718 928.7 719 928 720 926.9 721 925.5 722 923.8 723 922.3 724 921.4 725 921.2 726 922 727 923.3 728 924.9 729 926.4 730 927.5 731 928.2 732 928.6 733 928.8 734 928.8 735 928.8 736 928.8 737 928.8 738 928.7 739 928.7 740 928.7 741 928.6 742 928.6 743 928.6 744 928.5 745 928.5 746 928.5 747 928.4 748 928.4 749 928.4 750 928.3 751 928.3 752 928.3 753 928.2 754 928.2 755 928.2 756 928.1 757 928.1 758 928.1 759 928 760 928 761 927.8 762 927.6 763 927.4 764 927.2 765 927 766 926.8 767 926.6 768 926.4 769 926.2 770 926 771 925.8 772 925.6 773 925.4 774 925.2 775 925 776 924.8 777 924.6 778 924.4 779 924.2 780 924 781 923.8 782 923.6 783 923.4 784 923.2 785 923 786 922.8 787 922.6 788 922.4 789 922.2 790 922 791 921.8 792 921.6 793 921.4 794 921.2 795 921 796 920.8 797 920.6 798 920.4 799 920.2 800 919.9 801 919.6 802 919.2 803 918.7 804 918.1 805 917.3 806 916.4 807 915.1 808 913.4 809 911.4 810 908.8 811 905.8 812 902.1 813 898 814 893.4 815 888.3 816 883.3 817 878 818 872.4 819 866.1 820 858.6 821 849 822 835.6 823 816.5 824 789.3 825 751.8 826 703.4 827 645.1 828 580.9 829 517.5 830 463.3 831 426.7 832 413.9 833 427.1 834 464 835 518.5 836 582.2 837 646.7 838 705.1 839 753.4 840 790.1 841 815.7 842 831.8 843 840.6 844 844.7 845 846.6 846 848.8 847 853.2 848 860.5 849 870.2 850 881.1 851 891.9 852 901.2 853 908.5 854 914 855 917.9 856 920.8 857 922.9 858 924.6 859 925.9 860 927 861 927.9 862 928.7 863 928.8 864 928.9 865 929 866 929 867 929 868 929 869 929 870 929 871 929.1 872 929.1 873 929.1 874 929.1 875 929.1 876 929.1 877 929.1 878 929.1 879 929.1 880 929.1 881 929.1 882 929.1 883 929.1 884 929.1 885 929.1 886 929.1 887 929.1 888 929.2 889 929.2 890 929.2 891 929.2 892 929.2 893 929.2 894 929.2 895 929.2 896 929.2 897 929.2 898 929.2 899 929.2 900 929.2 901 929.2 902 929.2 903 929.2 904 929.2 905 929.3 906 929.3 907 929.3 908 929.3 909 929.3 910 929.3 911 929.3 912 929.3 913 929.3 914 929.3 915 929.3 916 929.3 917 929.3 918 929.3 919 929.3 920 929.3 921 929.3 922 929.4 923 929.4 924 929.4 925 929.4 926 929.4 927 929.4 928 929.4 929 929.4 930 929.4 931 929.4 932 929.4 933 929.4 934 929.4 935 929.4 936 929.4 937 929.4 938 929.4 939 929.5 940 929.5 941 929.5 942 929.5 943 929.5 944 929.5 945 929.5 946 929.5 947 929.5 948 929.5 949 929.5 950 929.5 951 929.5 952 929.5 953 929.5 954 929.5 955 929.6 956 929.6 957 929.6 958 929.6 959 929.6 960 929.6 961 929.6 962 929.6 963 929.6 964 929.6 965 929.6 966 929.6 967 929.6 968 929.6 969 929.6 970 929.6 971 929.6 972 929.7 973 929.7 974 929.7 975 929.7 976 929.7 977 929.7 978 929.7 979 929.7 980 929.7 981 929.7 982 929.7 983 929.7 984 929.7 985 929.7 986 929.7 987 929.7 988 929.7 989 929.8 990 929.8 991 929.8 992 929.8 993 929.8 994 929.8 995 929.8 996 929.8 997 929.8 998 929.8 999 929.8 1000 929.8 1001 929.8 1002 929.8 1003 929.8 1004 929.8 1005 929.8 1006 929.9 1007 929.9 1008 929.9 1009 929.9 1010 929.9 1011 929.9 1012 929.9 1013 929.9 1014 929.9 1015 929.9 1016 929.9 1017 929.9 1018 929.9 1019 929.9 1020 929.9 1021 929.9 1022 929.9 1023 930 1024 930 1025 930 1026 930 1027 930 1028 930 1029 930 1030 930 1031 930 1032 930 1033 930 1034 930 1035 930 1036 930 1037 930 1038 930 1039 930 1040 930.1 1041 930.1 1042 930.1 1043 930.1 1044 930.1 1045 930.1 1046 930.1 1047 930.1 1048 930.1 1049 930.1 1050 930.1 1051 930.1 1052 930.1 1053 930.1 1054 930.1 1055 930.1 1056 930.1 1057 930.2 1058 930.2 1059 930.2 1060 930.2 1061 930.2 1062 930.2 1063 930.2 1064 930.2 1065 930.2 1066 930.2 1067 930.2 1068 930.2 1069 930.2 1070 930.2 1071 930.2 1072 930.2 1073 930.2 1074 930.3 1075 930.3 1076 930.3 1077 930.3 1078 930.3 1079 930.3 1080 930.3 1081 930.3 1082 930.3 1083 930.3 1084 930.3 1085 930.3 1086 930.3 1087 930.3 1088 930.3 1089 930.3 1090 930.3 1091 930.4 1092 930.4 1093 930.4 1094 930.4 1095 930.4 1096 930.4 1097 930.4 1098 930.4 1099 930.3 1100 930.1 1101 929.6 1102 928.7 1103 926.7 1104 923.4 1105 918 1106 910.5 1107 900.9 1108 890.5 1109 880.8 1110 874 1111 871.5 1112 874 1113 880.9 1114 890.5 1115 901 1116 910.5 1117 918.1 1118 923.5 1119 926.8 1120 928.8 1121 929.8 1122 930.2 1123 930.4 1124 930.5 1125 930.5 1126 930.6 1127 930.6 1128 930.6 1129 930.6 1130 930.6 1131 930.6 1132 930.6 1133 930.6 1134 930.6 1135 930.6 1136 930.6 1137 930.6 1138 930.6 1139 930.6 1140 930.6 1141 930.7 1142 930.7 1143 930.7 1144 930.7 1145 930.7 1146 930.7 1147 930.7 1148 930.7 1149 930.7 1150 930.7 1151 930.7 1152 930.7 1153 930.7 1154 930.7 1155 930.7 1156 930.7 1157 930.7 1158 930.8 1159 930.8 1160 930.8 1161 930.8 1162 930.8 1163 930.8 1164 930.8 1165 930.8 1166 930.8 1167 930.8 1168 930.8 1169 930.8 1170 930.8 1171 930.8 1172 930.8 1173 930.8 1174 930.8 1175 930.9 1176 930.9 1177 930.9 1178 930.9 1179 930.9 1180 930.9 1181 930.9 1182 930.9 1183 930.9 1184 930.9 1185 930.9 1186 930.9 1187 930.9 1188 930.9 1189 930.9 1190 930.9 1191 930.9 1192 931 1193 931 1194 931 1195 931 1196 931 1197 931 1198 931 1199 931 1200 931 1201 931 1202 931 1203 931 1204 931 1205 931 1206 931 1207 931 1208 931 1209 931 1210 931 1211 931 1212 931 1213 931 1214 931 1215 931 1216 931 1217 931 1218 931 1219 931 1220 931 1221 931 1222 931 1223 931 1224 931 1225 931 1226 931 1227 931 1228 931 1229 931 1230 931 1231 931 1232 931 1233 931 1234 931 1235 931 1236 931 1237 931 1238 931 1239 931 1240 931 1241 931 1242 931 1243 931 1244 931 1245 931 1246 931 1247 931 1248 931 1249 931 1250 931 1251 931 1252 931 1253 931 1254 931 1255 931 1256 931 1257 931 1258 931 1259 931 1260 931 1261 931 1262 931 1263 931 1264 931 1265 931 1266 931 1267 931 1268 931 1269 931 1270 931 1271 931 1272 931 1273 931 1274 931 1275 931 1276 931.1 1277 931.1 1278 931.1 1279 931.1 1280 931.1 1281 931.1 1282 931.1 1283 931.1 1284 931.1 1285 931.1 1286 931.1 1287 931.1 1288 931.1 1289 931.1 1290 931.1 1291 931.1 1292 931.1 1293 931.1 1294 931.1 1295 931.1 1296 931.1 1297 931.1 1298 931.1 1299 931.1 1300 931.1 1301 931.1 1302 931.1 1303 931.1 1304 931.1 1305 931.1 1306 931.1 1307 931.1 1308 931.1 1309 931.1 1310 931.1 1311 931.1 1312 931.1 1313 931.1 1314 931.1 1315 931.1 1316 931.1 1317 931.1 1318 931.1 1319 931.1 1320 931.1 1321 931.1 1322 931.1 1323 931.1 1324 931.1 1325 931.1 1326 931.1 1327 931.1 1328 931.1 1329 931.1 1330 931.1 1331 931.1 1332 931.1 1333 931.1 1334 931.1 1335 931.1 1336 931.1 1337 931 1338 931 1339 930.8 1340 930.4 1341 929.6 1342 928.1 1343 925.3 1344 920.7 1345 913.7 1346 904 1347 891.6 1348 877.3 1349 862.8 1350 850 1351 841.2 1352 838.1 1353 841.2 1354 850 1355 862.8 1356 877.3 1357 891.6 1358 904 1359 913.7 1360 920.7 1361 925.3 1362 928.1 1363 929.6 1364 930.4 1365 930.8 1366 931 1367 931.1 1368 931.1 1369 931.1 1370 931.1 1371 931.1 1372 931.1 1373 931.1 1374 931.1 1375 931.1 1376 931.1 1377 931.1 1378 931.1 1379 931.1 1380 931.1 1381 931.1 1382 931.1 1383 931.1 1384 931.1 1385 931.1 1386 931.1 1387 931.1 1388 931.1 1389 931.1 1390 931.1 1391 931.1 1392 931.1 1393 931.1 1394 931.1 1395 931.1 1396 931.1 1397 931.1 1398 931.1 1399 931.1 1400 931.1 1401 931.1 1402 931.1 1403 931.1 1404 931.1 1405 931.1 1406 931.1 1407 931.1 1408 931.1 1409 931.1 1410 930.9 1411 930.7 1412 930.1 1413 929.1 1414 927.4 1415 924.7 1416 921.1 1417 916.9 1418 912.5 1419 908.8 1420 906.5 1421 906.3 1422 908.2 1423 911.7 1424 916 1425 920.3 1426 924.1 1427 926.9 1428 928.8 1429 930 1430 930.6 1431 930.9 1432 931.1 1433 931.1 1434 931.1 1435 931.1 1436 931 1437 930.7 1438 930.2 1439 929.4 1440 928 1441 925.9 1442 923 1443 919.3 1444 915 1445 910.6 1446 906.7 1447 904.1 1448 903.2 1449 904.1 1450 906.7 1451 910.6 1452 915 1453 919.3 1454 923 1455 925.9 1456 928 1457 929.4 1458 930.3 1459 930.7 1460 931 1461 931.1 1462 931.1 1463 931.2 1464 931.2 1465 931.2 1466 931.2 1467 931.2 1468 931.2 1469 931.2 1470 931.2 1471 931.2 1472 931.2 1473 931.2 1474 931.2 1475 931.2 1476 931.2 1477 931.2 1478 931.2 1479 931.2 1480 931.2 1481 931.2 1482 931.2 1483 931.2 1484 931.2 1485 931.2 1486 931.2 1487 931.2 1488 931.2 1489 931.2 1490 931.2 1491 931.2 1492 931.2 1493 931.2 1494 931.2 1495 931.2 1496 931.2 1497 931.2 1498 931.2 1499 931.2 1500 931.2 1501 931.2 1502 931.2 1503 931.2 1504 931.2 1505 931.2 1506 931.2 1507 931.2 1508 931.2 1509 931.2 1510 931.2 1511 931.2 1512 931.2 1513 931.2 1514 931.2 1515 931.2 1516 931.2 1517 931.2 1518 931.2 1519 931.2 1520 931.2 1521 931.2 1522 931.2 1523 931.2 1524 931.2 1525 931.1 1526 930.9 1527 930.7 1528 930.1 1529 929.3 1530 928.2 1531 926.7 1532 925.1 1533 923.7 1534 922.6 1535 922.2 1536 922.6 1537 923.7 1538 925.1 1539 926.7 1540 928.2 1541 929.3 1542 930.2 1543 930.7 1544 931 1545 931.1 1546 931.2 1547 931.2 1548 931.2 1549 931.2 1550 931.2 1551 931.2 1552 931.2 1553 931.2 1554 931.2 1555 931.2 1556 931.2 1557 931.2 1558 931.2 1559 931.2 1560 931.2 1561 931.2 1562 931.2 1563 931.2 1564 931.2 1565 931.2 1566 931.2 1567 931.2 1568 931.2 1569 931.2 1570 931.2 1571 931.2 1572 931.2 1573 931.2 1574 931.2 1575 931.2 1576 931.3 1577 931.3 1578 931.3 1579 931.3 1580 931.3 1581 931.3 1582 931.3 1583 931.3 1584 931.3 1585 931.3 1586 931.3 1587 931.3 1588 931.3 1589 931.3 1590 931.3 1591 931.3 1592 931.3 1593 931.3 1594 931.3 1595 931.3 1596 931.3 1597 931.3 1598 931.3 1599 931.3 1600 931.3 1601 931.3 1602 931.3 1603 931.3 1604 931.3 1605 931.3 1606 931.3 1607 931.3 1608 931.3 1609 931.3 1610 931.3 1611 931.3 1612 931.3 1613 931.3 1614 931.3 1615 931.3 1616 931.3 1617 931.3 1618 931.3 1619 931.3 1620 931.3 1621 931.3 1622 931.3 1623 931.3 1624 931.3 1625 931.3 1626 931.3 1627 931.3 1628 931.3 1629 931.3 1630 931.3 1631 931.3 1632 931.3 1633 931.3 1634 931.3 1635 931.3 1636 931.3 1637 931.3 1638 931.3 1639 931.3 1640 931.3 1641 931.3 1642 931.3 1643 931.3 1644 931.3 1645 931.3 1646 931.3 1647 931.3 1648 931.3 1649 931.3 1650 931.3 1651 931.3 1652 931.3 1653 931.3 1654 931.2 1655 931.1 1656 930.9 1657 930.5 1658 929.8 1659 928.7 1660 927.3 1661 925.6 1662 923.8 1663 922.4 1664 921.5 1665 921.4 1666 922.1 1667 923.5 1668 925.3 1669 927 1670 928.5 1671 929.6 1672 930.4 1673 930.8 1674 931.1 1675 931.2 1676 931.3 1677 931.3 1678 931.3 1679 931.3 1680 931.3 1681 931.3 1682 931.3 1683 931.3 1684 931.3 1685 931.3 1686 931.3 1687 931.3 1688 931.3 1689 931.3 1690 931.3 1691 931.3 1692 931.3 1693 931.3 1694 931.3 1695 931.3 1696 931.3 1697 931.3 1698 931.3 1699 931.3 1700 931.3 1701 931.3 1702 931.3 1703 931.3 1704 931.3 1705 931.3 1706 931.3 1707 931.3 1708 931.3 1709 931.3 1710 931.3 1711 931.3 1712 931.3 1713 931.3 1714 931.3 1715 931.3 1716 931.3 1717 931.3 1718 931.3 1719 931.3 1720 931.3 1721 931.3 1722 931.3 1723 931.3 1724 931.3 1725 931.4 1726 931.4 1727 931.4 1728 931.4 1729 931.4 1730 931.4 1731 931.4 1732 931.4 1733 931.4 1734 931.4 1735 931.4 1736 931.4 1737 931.4 1738 931.4 1739 931.4 1740 931.4 1741 931.4 1742 931.4 1743 931.4 1744 931.4 1745 931.4 1746 931.4 1747 931.4 1748 931.4 1749 931.4 1750 931.4 1751 931.4 1752 931.4 1753 931.4 1754 931.4 1755 931.4 1756 931.4 1757 931.4 1758 931.4 1759 931.4 1760 931.4 1761 931.4 1762 931.4 1763 931.4 1764 931.4 1765 931.4 1766 931.4 1767 931.4 1768 931.4 1769 931.4 1770 931.4 1771 931.4 1772 931.4 1773 931.4 1774 931.4 1775 931.4 1776 931.4 1777 931.4 1778 931.4 1779 931.4 1780 931.4 1781 931.4 1782 931.4 1783 931.4 1784 931.4 1785 931.4 1786 931.4 1787 931.4 1788 931.4 1789 931.4 1790 931.4 1791 931.4 1792 931.4 1793 931.4 1794 931.4 1795 931.4 1796 931.4 1797 931.4 1798 931.4 1799 931.4 1800 931.4 1801 931.4 1802 931.4 1803 931.4 1804 931.4 1805 931.4 1806 931.4 1807 931.4 1808 931.4 1809 931.4 1810 931.4 1811 931.4 1812 931.4 1813 931.4 1814 931.4 1815 931.4 1816 931.4 1817 931.4 1818 931.4 1819 931.3 1820 931.2 1821 931 1822 930.6 1823 929.9 1824 928.8 1825 927 1826 924.3 1827 920.6 1828 915.9 1829 910.4 1830 904.5 1831 898.7 1832 893.8 1833 890.6 1834 889.4 1835 890.6 1836 893.8 1837 898.7 1838 904.5 1839 910.4 1840 915.9 1841 920.6 1842 924.3 1843 927 1844 928.8 1845 930 1846 930.7 1847 931 1848 931.2 1849 931.4 1850 931.4 1851 931.4 1852 931.4 1853 931.4 1854 931.4 1855 931.4 1856 931.4 1857 931.4 1858 931.4 1859 931.4 1860 931.4 1861 931.4 1862 931.4 1863 931.4 1864 931.4 1865 931.4 1866 931.4 1867 931.4 1868 931.4 1869 931.4 1870 931.4 1871 931.4 1872 931.4 1873 931.4 1874 931.4 1875 931.4 1876 931.5 1877 931.5 1878 931.5 1879 931.5 1880 931.5 1881 931.5 1882 931.5 1883 931.5 1884 931.5 1885 931.5 1886 931.5 1887 931.5 1888 931.5 1889 931.4 1890 931.4 1891 931.4 1892 931.4 1893 931.3 1894 931.2 1895 930.9 1896 930.6 1897 930.2 1898 929.6 1899 929 1900 928.3 1901 927.6 1902 927 1903 926.6 1904 926.5 1905 926.6 1906 927 1907 927.6 1908 928.3 1909 929 1910 929.6 1911 930.2 1912 930.6 1913 930.9 1914 931.2 1915 931.3 1916 931.4 1917 931.4 1918 931.5 1919 931.5 1920 931.5 1921 931.5 1922 931.5 1923 931.5 1924 931.5 1925 931.5 1926 931.5 1927 931.5 1928 931.5 1929 931.5 1930 931.5 1931 931.5 1932 931.5 1933 931.5 1934 931.5 1935 931.5 1936 931.5 1937 931.5 1938 931.5 1939 931.5 1940 931.5 1941 931.5 1942 931.5 1943 931.5 1944 931.5 1945 931.5 1946 931.5" fill="none" stroke="#8e0a0a" stroke-width="6.5" stroke-linejoin="round"/><path d="M167 632.5L168 632.5 169 632.6 170 632.6 171 632.6 172 632.6 173 632.6 174 632.6 175 632.6 176 632.6 177 632.7 178 632.7 179 632.7 180 632.7 181 632.7 182 632.7 183 632.7 184 632.8 185 632.8 186 632.8 187 632.8 188 632.8 189 632.8 190 632.8 191 632.8 192 632.9 193 632.9 194 632.9 195 632.9 196 632.9 197 632.9 198 632.9 199 633 200 633 201 633 202 633 203 633 204 633 205 633 206 633 207 633.1 208 633.1 209 633.1 210 633.1 211 633.1 212 633.1 213 633.1 214 633.2 215 633.2 216 633.2 217 633.2 218 633.2 219 633.2 220 633.2 221 633.2 222 633.3 223 633.3 224 633.3 225 633.3 226 633.3 227 633.3 228 633.3 229 633.4 230 633.4 231 633.4 232 633.4 233 633.4 234 633.4 235 633.4 236 633.4 237 633.5 238 633.5 239 633.5 240 633.5 241 633.5 242 633.5 243 633.5 244 633.6 245 633.6 246 633.6 247 633.6 248 633.6 249 633.6 250 633.6 251 633.6 252 633.7 253 633.7 254 633.7 255 633.7 256 633.7 257 633.7 258 633.7 259 633.8 260 633.8 261 633.8 262 633.8 263 633.8 264 633.8 265 633.8 266 633.8 267 633.9 268 633.9 269 633.9 270 633.9 271 633.9 272 633.9 273 633.9 274 634 275 634 276 634 277 634 278 634 279 634 280 634 281 634 282 634.1 283 634.1 284 634.1 285 634.1 286 634.1 287 634.1 288 634.1 289 634.2 290 634.2 291 634.2 292 634.2 293 634.2 294 634.2 295 634.2 296 634.2 297 634.3 298 634.3 299 634.3 300 634.3 301 634.3 302 634.3 303 634.3 304 634.4 305 634.4 306 634.4 307 634.4 308 634.4 309 634.4 310 634.4 311 634.4 312 634.4 313 634.3 314 634.1 315 633.6 316 632.7 317 631.3 318 629.5 319 627.5 320 625.8 321 624.7 322 624.7 323 625.8 324 627.6 325 629.6 326 631.5 327 632.9 328 633.8 329 634.3 330 634.5 331 634.7 332 634.7 333 634.7 334 634.8 335 634.8 336 634.8 337 634.8 338 634.8 339 634.8 340 634.8 341 634.8 342 634.9 343 634.9 344 634.9 345 634.9 346 634.9 347 634.9 348 634.9 349 635 350 635 351 635 352 635 353 635 354 635 355 635 356 635 357 635.1 358 635.1 359 635.1 360 635.1 361 635.1 362 635.1 363 635.1 364 635.2 365 635.2 366 635.2 367 635.2 368 635.2 369 635.2 370 635.2 371 635.2 372 635.3 373 635.3 374 635.3 375 635.3 376 635.3 377 635.3 378 635.3 379 635.4 380 635.4 381 635.4 382 635.4 383 635.4 384 635.4 385 635.4 386 635.4 387 635.5 388 635.5 389 635.5 390 635.5 391 635.5 392 635.5 393 635.5 394 635.6 395 635.6 396 635.6 397 635.6 398 635.6 399 635.6 400 635.6 401 635.6 402 635.7 403 635.7 404 635.7 405 635.7 406 635.7 407 635.7 408 635.7 409 635.8 410 635.8 411 635.8 412 635.8 413 635.8 414 635.8 415 635.8 416 635.8 417 635.9 418 635.9 419 635.9 420 635.9 421 635.9 422 635.9 423 635.9 424 636 425 636 426 636 427 636 428 636 429 636 430 636 431 636 432 636.1 433 636.1 434 636.1 435 636.1 436 636.1 437 636.1 438 636.1 439 636.2 440 636.2 441 636.2 442 636.2 443 636.2 444 636.2 445 636.2 446 636.2 447 636.3 448 636.3 449 636.3 450 636.3 451 636.3 452 636.3 453 636.3 454 636.4 455 636.4 456 636.4 457 636.4 458 636.4 459 636.4 460 636.4 461 636.4 462 636.5 463 636.5 464 636.5 465 636.5 466 636.5 467 636.5 468 636.5 469 636.6 470 636.6 471 636.6 472 636.6 473 636.6 474 636.6 475 636.6 476 636.6 477 636.7 478 636.7 479 636.7 480 636.7 481 636.7 482 636.7 483 636.7 484 636.8 485 636.8 486 636.8 487 636.8 488 636.8 489 636.8 490 636.8 491 636.8 492 636.9 493 636.9 494 636.9 495 636.9 496 636.9 497 636.9 498 636.9 499 637 500 637 501 637 502 637 503 637 504 637 505 637 506 637 507 637.1 508 637.1 509 637.1 510 637.1 511 637.1 512 637.1 513 637.1 514 637.2 515 637.2 516 637.2 517 637.2 518 637.2 519 637.2 520 637.2 521 637.2 522 637.3 523 637.3 524 637.3 525 637.3 526 637.3 527 637.3 528 637.3 529 637.4 530 637.4 531 637.4 532 637.4 533 637.4 534 637.4 535 637.4 536 637.4 537 637.5 538 637.5 539 637.5 540 637.5 541 637.5 542 637.5 543 637.5 544 637.5 545 637.5 546 637.4 547 637.4 548 637.4 549 637.4 550 637.4 551 637.4 552 637.4 553 637.4 554 637.4 555 637.3 556 637.3 557 637.1 558 636.5 559 635.1 560 631.8 561 625 562 613.1 563 594.7 564 570.3 565 543.2 566 519.3 567 505.1 568 505.1 569 519.2 570 543.1 571 570.2 572 594.6 573 613 574 624.9 575 631.6 576 634.9 577 636.3 578 636.9 579 637.1 580 637.1 581 637.1 582 637.1 583 637.1 584 637.1 585 637.1 586 637.1 587 637.1 588 637 589 637 590 637 591 637 592 637 593 637 594 637 595 637 596 637 597 637 598 637 599 636.9 600 636.9 601 636.9 602 636.9 603 636.9 604 636.9 605 636.9 606 636.9 607 636.9 608 636.9 609 636.9 610 636.8 611 636.8 612 636.8 613 636.8 614 636.8 615 636.8 616 636.8 617 636.7 618 636.5 619 636 620 634.9 621 632.6 622 628.6 623 622.4 624 614.2 625 605.1 626 597.1 627 592.3 628 592.3 629 597 630 605.1 631 614.1 632 622.3 633 628.5 634 632.5 635 634.7 636 635.8 637 636.3 638 636.5 639 636.5 640 636.6 641 636.6 642 636.5 643 636.5 644 636.5 645 636.5 646 636.5 647 636.5 648 636.5 649 636.5 650 636.5 651 636.5 652 636.4 653 636.4 654 636.4 655 636.4 656 636.4 657 636.4 658 636.4 659 636.4 660 636.4 661 636.4 662 636.4 663 636.3 664 636.3 665 636.3 666 636.3 667 636.3 668 636.3 669 636.3 670 636.3 671 636.3 672 636.3 673 636.3 674 636.2 675 636.2 676 636.2 677 636.2 678 636.2 679 636.2 680 636.2 681 636.2 682 636.2 683 636.2 684 636.1 685 636.1 686 636.1 687 636.1 688 636.1 689 636.1 690 636.1 691 636.1 692 636.1 693 636.1 694 636.1 695 636 696 636 697 636 698 636 699 636 700 636 701 636 702 636 703 636 704 635.9 705 635.9 706 635.9 707 635.9 708 635.9 709 635.9 710 635.9 711 635.8 712 635.8 713 635.8 714 635.8 715 635.8 716 635.8 717 635.7 718 635.6 719 635.4 720 635 721 634.1 722 632.8 723 630.8 724 628.4 725 626.1 726 624.3 727 623.6 728 624.3 729 626 730 628.4 731 630.7 732 632.6 733 634 734 634.8 735 635.2 736 635.4 737 635.4 738 635.4 739 635.4 740 635.4 741 635.4 742 635.4 743 635.3 744 635.3 745 635.1 746 634.9 747 634.5 748 634 749 633.3 750 632.6 751 631.9 752 631.4 753 631.2 754 631.4 755 631.9 756 632.5 757 633.2 758 633.8 759 634.3 760 634.7 761 634.9 762 635 763 635 764 635.1 765 635.1 766 635.1 767 635 768 635 769 635 770 635 771 634.9 772 634.8 773 634.7 774 634.6 775 634.5 776 634.4 777 634.3 778 634.2 779 634.1 780 633.9 781 633.8 782 633.5 783 633.1 784 632.5 785 631.8 786 630.9 787 629.9 788 629 789 628.3 790 628 791 628.1 792 628.6 793 629.3 794 630.1 795 630.8 796 631.3 797 631.7 798 631.9 799 632 800 631.9 801 631.8 802 631.7 803 631.6 804 631.5 805 631.3 806 631.2 807 631 808 630.8 809 630.5 810 630 811 629.2 812 627.9 813 625.8 814 622.7 815 618.1 816 612.1 817 604.2 818 594.2 819 582.2 820 568.7 821 554 822 538.9 823 524 824 509.9 825 496.7 826 483.5 827 466.9 828 440.3 829 395 830 326.8 831 244.9 832 175.2 833 147.6 834 175.7 835 245.9 836 328.3 837 397.1 838 442.9 839 470 840 487.1 841 500.8 842 514.5 843 529.1 844 544.5 845 560.2 846 575.3 847 589.4 848 601.9 849 612.4 850 620.8 851 627.2 852 631.7 853 634.9 854 636.9 855 638.2 856 638.9 857 639.4 858 639.7 859 639.8 860 640 861 640.1 862 640.2 863 640.3 864 640.4 865 640.5 866 640.6 867 640.7 868 640.8 869 640.9 870 641 871 641 872 641 873 641 874 641.1 875 641.1 876 641.1 877 641.1 878 641.1 879 641.1 880 641.1 881 641.1 882 641.2 883 641.2 884 641.2 885 641.2 886 641.2 887 641.2 888 641.2 889 641.2 890 641.3 891 641.3 892 641.3 893 641.3 894 641.3 895 641.3 896 641.3 897 641.4 898 641.4 899 641.4 900 641.4 901 641.4 902 641.4 903 641.4 904 641.4 905 641.5 906 641.5 907 641.5 908 641.5 909 641.5 910 641.5 911 641.5 912 641.5 913 641.6 914 641.6 915 641.6 916 641.6 917 641.6 918 641.6 919 641.6 920 641.7 921 641.7 922 641.7 923 641.7 924 641.7 925 641.7 926 641.7 927 641.7 928 641.7 929 641.7 930 641.7 931 641.6 932 641.5 933 641.4 934 641.2 935 640.9 936 640.6 937 640.3 938 639.9 939 639.7 940 639.5 941 639.4 942 639.5 943 639.7 944 640 945 640.4 946 640.7 947 641.1 948 641.4 949 641.6 950 641.8 951 641.9 952 642 953 642 954 642.1 955 642.1 956 642.1 957 642.1 958 642.1 959 642.2 960 642.2 961 642.2 962 642.2 963 642.2 964 642.2 965 642.2 966 642.3 967 642.3 968 642.3 969 642.3 970 642.3 971 642.3 972 642.3 973 642.3 974 642.4 975 642.4 976 642.4 977 642.4 978 642.4 979 642.4 980 642.4 981 642.4 982 642.5 983 642.5 984 642.5 985 642.5 986 642.5 987 642.5 988 642.5 989 642.6 990 642.6 991 642.6 992 642.6 993 642.6 994 642.6 995 642.6 996 642.6 997 642.7 998 642.7 999 642.7 1000 642.7 1001 642.7 1002 642.7 1003 642.7 1004 642.7 1005 642.8 1006 642.8 1007 642.8 1008 642.7 1009 642.6 1010 642.5 1011 642.1 1012 641.6 1013 640.8 1014 639.9 1015 638.8 1016 637.9 1017 637.2 1018 636.9 1019 637.2 1020 637.9 1021 638.9 1022 640 1023 641 1024 641.7 1025 642.3 1026 642.7 1027 642.9 1028 643 1029 643 1030 643.1 1031 643.1 1032 643.1 1033 643.1 1034 643.1 1035 643.1 1036 643 1037 642.8 1038 642.6 1039 642.2 1040 641.7 1041 641.2 1042 640.7 1043 640.4 1044 640.3 1045 640.4 1046 640.8 1047 641.3 1048 641.8 1049 642.3 1050 642.7 1051 643 1052 643.2 1053 643.3 1054 643.4 1055 643.4 1056 643.4 1057 643.4 1058 643.5 1059 643.5 1060 643.5 1061 643.5 1062 643.5 1063 643.5 1064 643.5 1065 643.5 1066 643.6 1067 643.6 1068 643.6 1069 643.6 1070 643.6 1071 643.6 1072 643.6 1073 643.6 1074 643.7 1075 643.7 1076 643.7 1077 643.7 1078 643.7 1079 643.7 1080 643.7 1081 643.8 1082 643.8 1083 643.8 1084 643.8 1085 643.8 1086 643.8 1087 643.8 1088 643.8 1089 643.9 1090 643.9 1091 643.9 1092 643.9 1093 643.9 1094 643.9 1095 643.9 1096 643.9 1097 644 1098 644 1099 644 1100 644 1101 643.9 1102 643.8 1103 643.3 1104 642.2 1105 639.7 1106 635 1107 627.2 1108 616.1 1109 602.6 1110 589 1111 578.8 1112 575 1113 578.8 1114 589 1115 602.6 1116 616.1 1117 627.3 1118 635 1119 639.7 1120 642.2 1121 643.3 1122 643.8 1123 644 1124 644 1125 644 1126 644 1127 644 1128 644 1129 644.1 1130 644.1 1131 644.1 1132 644.1 1133 644.1 1134 644.1 1135 644.1 1136 644.1 1137 644.1 1138 644.1 1139 644.1 1140 644.1 1141 644.1 1142 644.1 1143 644.1 1144 644.1 1145 644.1 1146 644.1 1147 644.1 1148 644.1 1149 644.1 1150 644.1 1151 644.1 1152 644.1 1153 644.1 1154 644.1 1155 644.1 1156 644.1 1157 644.1 1158 644.1 1159 644.1 1160 644.1 1161 644.1 1162 644.1 1163 644.1 1164 644.1 1165 644.1 1166 644.1 1167 644.1 1168 644.1 1169 644.1 1170 644.1 1171 644.1 1172 644.1 1173 644.1 1174 644.1 1175 644.1 1176 644.1 1177 644.1 1178 644.1 1179 644.1 1180 644.1 1181 644.1 1182 644.1 1183 644.1 1184 644.1 1185 644.2 1186 644.2 1187 644.2 1188 644.2 1189 644.2 1190 644.2 1191 644.2 1192 644.2 1193 644.2 1194 644.2 1195 644.2 1196 644.2 1197 644.2 1198 644.2 1199 644.2 1200 644.2 1201 644.2 1202 644.2 1203 644.2 1204 644.2 1205 644.2 1206 644.2 1207 644.2 1208 644.2 1209 644.2 1210 644.2 1211 644.2 1212 644.2 1213 644.2 1214 644.2 1215 644.2 1216 644.2 1217 644.2 1218 644.2 1219 644.2 1220 644.2 1221 644.2 1222 644.2 1223 644.2 1224 644.2 1225 644.2 1226 644.2 1227 644.2 1228 644.2 1229 644.2 1230 644.1 1231 644.1 1232 644 1233 643.9 1234 643.7 1235 643.5 1236 643.3 1237 643 1238 642.7 1239 642.4 1240 642.1 1241 641.9 1242 641.8 1243 641.8 1244 641.8 1245 641.9 1246 642.2 1247 642.4 1248 642.7 1249 643 1250 643.3 1251 643.5 1252 643.7 1253 643.9 1254 644 1255 644.1 1256 644.2 1257 644.2 1258 644.2 1259 644.3 1260 644.3 1261 644.3 1262 644.3 1263 644.3 1264 644.3 1265 644.3 1266 644.3 1267 644.3 1268 644.3 1269 644.3 1270 644.3 1271 644.3 1272 644.3 1273 644.3 1274 644.3 1275 644.3 1276 644.3 1277 644.3 1278 644.3 1279 644.3 1280 644.3 1281 644.3 1282 644.3 1283 644.3 1284 644.3 1285 644.3 1286 644.3 1287 644.3 1288 644.3 1289 644.3 1290 644.3 1291 644.3 1292 644.3 1293 644.3 1294 644.3 1295 644.3 1296 644.4 1297 644.4 1298 644.4 1299 644.4 1300 644.4 1301 644.4 1302 644.4 1303 644.4 1304 644.4 1305 644.4 1306 644.4 1307 644.4 1308 644.4 1309 644.4 1310 644.4 1311 644.4 1312 644.4 1313 644.4 1314 644.4 1315 644.4 1316 644.4 1317 644.4 1318 644.4 1319 644.4 1320 644.4 1321 644.4 1322 644.4 1323 644.4 1324 644.4 1325 644.4 1326 644.4 1327 644.4 1328 644.4 1329 644.4 1330 644.4 1331 644.4 1332 644.4 1333 644.4 1334 644.4 1335 644.4 1336 644.4 1337 644.4 1338 644.4 1339 644.4 1340 644.4 1341 644.2 1342 643.9 1343 643.1 1344 641.4 1345 638.2 1346 632.5 1347 623.4 1348 610.6 1349 594.4 1350 576.7 1351 560.4 1352 548.7 1353 544.5 1354 548.7 1355 560.4 1356 576.7 1357 594.5 1358 610.6 1359 623.4 1360 632.5 1361 638.2 1362 641.5 1363 643.2 1364 643.9 1365 644.3 1366 644.4 1367 644.5 1368 644.5 1369 644.5 1370 644.5 1371 644.5 1372 644.5 1373 644.5 1374 644.5 1375 644.5 1376 644.5 1377 644.5 1378 644.5 1379 644.5 1380 644.5 1381 644.5 1382 644.5 1383 644.5 1384 644.5 1385 644.5 1386 644.5 1387 644.5 1388 644.6 1389 644.6 1390 644.6 1391 644.6 1392 644.6 1393 644.6 1394 644.6 1395 644.6 1396 644.6 1397 644.6 1398 644.6 1399 644.6 1400 644.6 1401 644.6 1402 644.7 1403 644.7 1404 644.7 1405 644.7 1406 644.7 1407 644.7 1408 644.7 1409 644.7 1410 644.6 1411 644.5 1412 644.2 1413 643.6 1414 642.5 1415 640.6 1416 637.7 1417 633.9 1418 629.5 1419 624.9 1420 621.2 1421 619.1 1422 619.1 1423 621.2 1424 625 1425 629.5 1426 634 1427 637.8 1428 640.7 1429 642.6 1430 643.7 1431 644.3 1432 644.6 1433 644.8 1434 644.8 1435 644.9 1436 644.9 1437 644.9 1438 644.8 1439 644.7 1440 644.5 1441 644 1442 643 1443 641.2 1444 638.4 1445 634.5 1446 629.5 1447 624 1448 618.9 1449 615.3 1450 614 1451 615.3 1452 618.9 1453 624 1454 629.5 1455 634.5 1456 638.5 1457 641.3 1458 643.1 1459 644.1 1460 644.7 1461 644.9 1462 645 1463 645.1 1464 645.1 1465 645.1 1466 645.1 1467 645.1 1468 645.1 1469 645.1 1470 645.1 1471 645.1 1472 645.1 1473 645.2 1474 645.2 1475 645.2 1476 645.2 1477 645.2 1478 645.2 1479 645.2 1480 645.2 1481 645.2 1482 645.2 1483 645.2 1484 645.2 1485 645.2 1486 645.2 1487 645.3 1488 645.3 1489 645.3 1490 645.3 1491 645.3 1492 645.3 1493 645.3 1494 645.3 1495 645.3 1496 645.3 1497 645.3 1498 645.3 1499 645.3 1500 645.3 1501 645.3 1502 645.4 1503 645.4 1504 645.4 1505 645.4 1506 645.4 1507 645.4 1508 645.4 1509 645.4 1510 645.4 1511 645.4 1512 645.4 1513 645.4 1514 645.4 1515 645.4 1516 645.5 1517 645.5 1518 645.5 1519 645.5 1520 645.5 1521 645.5 1522 645.5 1523 645.5 1524 645.5 1525 645.5 1526 645.5 1527 645.4 1528 645.3 1529 645 1530 644.4 1531 643.5 1532 642.1 1533 640.2 1534 637.9 1535 635.7 1536 633.8 1537 632.7 1538 632.7 1539 633.8 1540 635.7 1541 638 1542 640.2 1543 642.1 1544 643.6 1545 644.5 1546 645.1 1547 645.4 1548 645.6 1549 645.6 1550 645.7 1551 645.7 1552 645.7 1553 645.7 1554 645.7 1555 645.7 1556 645.7 1557 645.7 1558 645.7 1559 645.8 1560 645.8 1561 645.8 1562 645.8 1563 645.8 1564 645.8 1565 645.8 1566 645.8 1567 645.8 1568 645.8 1569 645.8 1570 645.8 1571 645.8 1572 645.8 1573 645.9 1574 645.9 1575 645.9 1576 645.9 1577 645.9 1578 645.9 1579 645.9 1580 645.9 1581 645.9 1582 645.9 1583 645.9 1584 645.9 1585 645.9 1586 645.9 1587 646 1588 646 1589 646 1590 646 1591 646 1592 646 1593 646 1594 646 1595 646 1596 646 1597 646 1598 646 1599 646 1600 646 1601 646.1 1602 646.1 1603 646.1 1604 646.1 1605 646.1 1606 646.1 1607 646.1 1608 646.1 1609 646.1 1610 646.1 1611 646.1 1612 646.1 1613 646.1 1614 646.1 1615 646.1 1616 646.2 1617 646.2 1618 646.2 1619 646.2 1620 646.2 1621 646.2 1622 646.2 1623 646.2 1624 646.2 1625 646.2 1626 646.2 1627 646.2 1628 646.2 1629 646.2 1630 646.3 1631 646.3 1632 646.3 1633 646.3 1634 646.3 1635 646.3 1636 646.3 1637 646.3 1638 646.3 1639 646.3 1640 646.3 1641 646.3 1642 646.3 1643 646.3 1644 646.4 1645 646.4 1646 646.4 1647 646.4 1648 646.4 1649 646.4 1650 646.4 1651 646.4 1652 646.4 1653 646.4 1654 646.4 1655 646.4 1656 646.4 1657 646.4 1658 646.3 1659 646.1 1660 645.7 1661 645 1662 644 1663 642.4 1664 640.5 1665 638.4 1666 636.4 1667 635 1668 634.5 1669 635 1670 636.4 1671 638.4 1672 640.5 1673 642.5 1674 644 1675 645.1 1676 645.8 1677 646.2 1678 646.4 1679 646.5 1680 646.6 1681 646.6 1682 646.6 1683 646.6 1684 646.6 1685 646.6 1686 646.6 1687 646.7 1688 646.7 1689 646.7 1690 646.7 1691 646.7 1692 646.7 1693 646.7 1694 646.7 1695 646.7 1696 646.7 1697 646.7 1698 646.7 1699 646.7 1700 646.7 1701 646.8 1702 646.8 1703 646.8 1704 646.8 1705 646.8 1706 646.8 1707 646.8 1708 646.8 1709 646.8 1710 646.8 1711 646.8 1712 646.8 1713 646.8 1714 646.8 1715 646.9 1716 646.9 1717 646.9 1718 646.9 1719 646.9 1720 646.9 1721 646.9 1722 646.9 1723 646.9 1724 646.9 1725 646.9 1726 646.9 1727 646.9 1728 646.9 1729 646.9 1730 647 1731 647 1732 647 1733 647 1734 647 1735 647 1736 647 1737 647 1738 647 1739 647 1740 647 1741 647 1742 647 1743 647 1744 647.1 1745 647.1 1746 647.1 1747 647.1 1748 647.1 1749 647.1 1750 647.1 1751 647.1 1752 647.1 1753 647.1 1754 647.1 1755 647.1 1756 647.1 1757 647.1 1758 647.2 1759 647.2 1760 647.2 1761 647.2 1762 647.2 1763 647.2 1764 647.2 1765 647.2 1766 647.2 1767 647.2 1768 647.2 1769 647.2 1770 647.2 1771 647.2 1772 647.3 1773 647.3 1774 647.3 1775 647.3 1776 647.3 1777 647.3 1778 647.3 1779 647.3 1780 647.3 1781 647.3 1782 647.3 1783 647.3 1784 647.3 1785 647.3 1786 647.3 1787 647.4 1788 647.4 1789 647.4 1790 647.4 1791 647.4 1792 647.4 1793 647.4 1794 647.4 1795 647.4 1796 647.4 1797 647.4 1798 647.4 1799 647.4 1800 647.4 1801 647.5 1802 647.5 1803 647.5 1804 647.5 1805 647.5 1806 647.5 1807 647.5 1808 647.5 1809 647.5 1810 647.5 1811 647.5 1812 647.5 1813 647.5 1814 647.5 1815 647.6 1816 647.6 1817 647.6 1818 647.6 1819 647.6 1820 647.6 1821 647.6 1822 647.6 1823 647.6 1824 647.5 1825 647.3 1826 647 1827 646.4 1828 645.3 1829 643.4 1830 640.6 1831 636.6 1832 631.5 1833 625.7 1834 619.8 1835 614.6 1836 611 1837 609.7 1838 611 1839 614.6 1840 619.8 1841 625.8 1842 631.6 1843 636.7 1844 640.7 1845 643.5 1846 645.4 1847 646.5 1848 647.2 1849 647.5 1850 647.7 1851 647.8 1852 647.8 1853 647.8 1854 647.8 1855 647.8 1856 647.8 1857 647.8 1858 647.9 1859 647.9 1860 647.9 1861 647.9 1862 647.9 1863 647.9 1864 647.9 1865 647.9 1866 647.9 1867 647.9 1868 647.9 1869 647.9 1870 647.9 1871 647.9 1872 648 1873 648 1874 648 1875 648 1876 648 1877 648 1878 648 1879 648 1880 648 1881 648 1882 648 1883 648 1884 648 1885 648 1886 648.1 1887 648.1 1888 648.1 1889 648.1 1890 648.1 1891 648.1 1892 648.1 1893 648.1 1894 648 1895 648 1896 647.9 1897 647.7 1898 647.5 1899 647.1 1900 646.7 1901 646.2 1902 645.6 1903 645.1 1904 644.6 1905 644.3 1906 644.2 1907 644.3 1908 644.6 1909 645.1 1910 645.7 1911 646.2 1912 646.8 1913 647.2 1914 647.6 1915 647.8 1916 648 1917 648.1 1918 648.2 1919 648.2 1920 648.3 1921 648.3 1922 648.3 1923 648.3 1924 648.3 1925 648.3 1926 648.3 1927 648.3 1928 648.3 1929 648.4 1930 648.4 1931 648.4 1932 648.4 1933 648.4 1934 648.4 1935 648.4 1936 648.4 1937 648.4 1938 648.4 1939 648.4 1940 648.4 1941 648.4 1942 648.4 1943 648.5 1944 648.5 1945 648.5 1946 648.5" fill="none" stroke="#1414ff" stroke-opacity="0.16" stroke-width="15" stroke-linejoin="round"/><path d="M167 632.5L168 632.5 169 632.6 170 632.6 171 632.6 172 632.6 173 632.6 174 632.6 175 632.6 176 632.6 177 632.7 178 632.7 179 632.7 180 632.7 181 632.7 182 632.7 183 632.7 184 632.8 185 632.8 186 632.8 187 632.8 188 632.8 189 632.8 190 632.8 191 632.8 192 632.9 193 632.9 194 632.9 195 632.9 196 632.9 197 632.9 198 632.9 199 633 200 633 201 633 202 633 203 633 204 633 205 633 206 633 207 633.1 208 633.1 209 633.1 210 633.1 211 633.1 212 633.1 213 633.1 214 633.2 215 633.2 216 633.2 217 633.2 218 633.2 219 633.2 220 633.2 221 633.2 222 633.3 223 633.3 224 633.3 225 633.3 226 633.3 227 633.3 228 633.3 229 633.4 230 633.4 231 633.4 232 633.4 233 633.4 234 633.4 235 633.4 236 633.4 237 633.5 238 633.5 239 633.5 240 633.5 241 633.5 242 633.5 243 633.5 244 633.6 245 633.6 246 633.6 247 633.6 248 633.6 249 633.6 250 633.6 251 633.6 252 633.7 253 633.7 254 633.7 255 633.7 256 633.7 257 633.7 258 633.7 259 633.8 260 633.8 261 633.8 262 633.8 263 633.8 264 633.8 265 633.8 266 633.8 267 633.9 268 633.9 269 633.9 270 633.9 271 633.9 272 633.9 273 633.9 274 634 275 634 276 634 277 634 278 634 279 634 280 634 281 634 282 634.1 283 634.1 284 634.1 285 634.1 286 634.1 287 634.1 288 634.1 289 634.2 290 634.2 291 634.2 292 634.2 293 634.2 294 634.2 295 634.2 296 634.2 297 634.3 298 634.3 299 634.3 300 634.3 301 634.3 302 634.3 303 634.3 304 634.4 305 634.4 306 634.4 307 634.4 308 634.4 309 634.4 310 634.4 311 634.4 312 634.4 313 634.3 314 634.1 315 633.6 316 632.7 317 631.3 318 629.5 319 627.5 320 625.8 321 624.7 322 624.7 323 625.8 324 627.6 325 629.6 326 631.5 327 632.9 328 633.8 329 634.3 330 634.5 331 634.7 332 634.7 333 634.7 334 634.8 335 634.8 336 634.8 337 634.8 338 634.8 339 634.8 340 634.8 341 634.8 342 634.9 343 634.9 344 634.9 345 634.9 346 634.9 347 634.9 348 634.9 349 635 350 635 351 635 352 635 353 635 354 635 355 635 356 635 357 635.1 358 635.1 359 635.1 360 635.1 361 635.1 362 635.1 363 635.1 364 635.2 365 635.2 366 635.2 367 635.2 368 635.2 369 635.2 370 635.2 371 635.2 372 635.3 373 635.3 374 635.3 375 635.3 376 635.3 377 635.3 378 635.3 379 635.4 380 635.4 381 635.4 382 635.4 383 635.4 384 635.4 385 635.4 386 635.4 387 635.5 388 635.5 389 635.5 390 635.5 391 635.5 392 635.5 393 635.5 394 635.6 395 635.6 396 635.6 397 635.6 398 635.6 399 635.6 400 635.6 401 635.6 402 635.7 403 635.7 404 635.7 405 635.7 406 635.7 407 635.7 408 635.7 409 635.8 410 635.8 411 635.8 412 635.8 413 635.8 414 635.8 415 635.8 416 635.8 417 635.9 418 635.9 419 635.9 420 635.9 421 635.9 422 635.9 423 635.9 424 636 425 636 426 636 427 636 428 636 429 636 430 636 431 636 432 636.1 433 636.1 434 636.1 435 636.1 436 636.1 437 636.1 438 636.1 439 636.2 440 636.2 441 636.2 442 636.2 443 636.2 444 636.2 445 636.2 446 636.2 447 636.3 448 636.3 449 636.3 450 636.3 451 636.3 452 636.3 453 636.3 454 636.4 455 636.4 456 636.4 457 636.4 458 636.4 459 636.4 460 636.4 461 636.4 462 636.5 463 636.5 464 636.5 465 636.5 466 636.5 467 636.5 468 636.5 469 636.6 470 636.6 471 636.6 472 636.6 473 636.6 474 636.6 475 636.6 476 636.6 477 636.7 478 636.7 479 636.7 480 636.7 481 636.7 482 636.7 483 636.7 484 636.8 485 636.8 486 636.8 487 636.8 488 636.8 489 636.8 490 636.8 491 636.8 492 636.9 493 636.9 494 636.9 495 636.9 496 636.9 497 636.9 498 636.9 499 637 500 637 501 637 502 637 503 637 504 637 505 637 506 637 507 637.1 508 637.1 509 637.1 510 637.1 511 637.1 512 637.1 513 637.1 514 637.2 515 637.2 516 637.2 517 637.2 518 637.2 519 637.2 520 637.2 521 637.2 522 637.3 523 637.3 524 637.3 525 637.3 526 637.3 527 637.3 528 637.3 529 637.4 530 637.4 531 637.4 532 637.4 533 637.4 534 637.4 535 637.4 536 637.4 537 637.5 538 637.5 539 637.5 540 637.5 541 637.5 542 637.5 543 637.5 544 637.5 545 637.5 546 637.4 547 637.4 548 637.4 549 637.4 550 637.4 551 637.4 552 637.4 553 637.4 554 637.4 555 637.3 556 637.3 557 637.1 558 636.5 559 635.1 560 631.8 561 625 562 613.1 563 594.7 564 570.3 565 543.2 566 519.3 567 505.1 568 505.1 569 519.2 570 543.1 571 570.2 572 594.6 573 613 574 624.9 575 631.6 576 634.9 577 636.3 578 636.9 579 637.1 580 637.1 581 637.1 582 637.1 583 637.1 584 637.1 585 637.1 586 637.1 587 637.1 588 637 589 637 590 637 591 637 592 637 593 637 594 637 595 637 596 637 597 637 598 637 599 636.9 600 636.9 601 636.9 602 636.9 603 636.9 604 636.9 605 636.9 606 636.9 607 636.9 608 636.9 609 636.9 610 636.8 611 636.8 612 636.8 613 636.8 614 636.8 615 636.8 616 636.8 617 636.7 618 636.5 619 636 620 634.9 621 632.6 622 628.6 623 622.4 624 614.2 625 605.1 626 597.1 627 592.3 628 592.3 629 597 630 605.1 631 614.1 632 622.3 633 628.5 634 632.5 635 634.7 636 635.8 637 636.3 638 636.5 639 636.5 640 636.6 641 636.6 642 636.5 643 636.5 644 636.5 645 636.5 646 636.5 647 636.5 648 636.5 649 636.5 650 636.5 651 636.5 652 636.4 653 636.4 654 636.4 655 636.4 656 636.4 657 636.4 658 636.4 659 636.4 660 636.4 661 636.4 662 636.4 663 636.3 664 636.3 665 636.3 666 636.3 667 636.3 668 636.3 669 636.3 670 636.3 671 636.3 672 636.3 673 636.3 674 636.2 675 636.2 676 636.2 677 636.2 678 636.2 679 636.2 680 636.2 681 636.2 682 636.2 683 636.2 684 636.1 685 636.1 686 636.1 687 636.1 688 636.1 689 636.1 690 636.1 691 636.1 692 636.1 693 636.1 694 636.1 695 636 696 636 697 636 698 636 699 636 700 636 701 636 702 636 703 636 704 635.9 705 635.9 706 635.9 707 635.9 708 635.9 709 635.9 710 635.9 711 635.8 712 635.8 713 635.8 714 635.8 715 635.8 716 635.8 717 635.7 718 635.6 719 635.4 720 635 721 634.1 722 632.8 723 630.8 724 628.4 725 626.1 726 624.3 727 623.6 728 624.3 729 626 730 628.4 731 630.7 732 632.6 733 634 734 634.8 735 635.2 736 635.4 737 635.4 738 635.4 739 635.4 740 635.4 741 635.4 742 635.4 743 635.3 744 635.3 745 635.1 746 634.9 747 634.5 748 634 749 633.3 750 632.6 751 631.9 752 631.4 753 631.2 754 631.4 755 631.9 756 632.5 757 633.2 758 633.8 759 634.3 760 634.7 761 634.9 762 635 763 635 764 635.1 765 635.1 766 635.1 767 635 768 635 769 635 770 635 771 634.9 772 634.8 773 634.7 774 634.6 775 634.5 776 634.4 777 634.3 778 634.2 779 634.1 780 633.9 781 633.8 782 633.5 783 633.1 784 632.5 785 631.8 786 630.9 787 629.9 788 629 789 628.3 790 628 791 628.1 792 628.6 793 629.3 794 630.1 795 630.8 796 631.3 797 631.7 798 631.9 799 632 800 631.9 801 631.8 802 631.7 803 631.6 804 631.5 805 631.3 806 631.2 807 631 808 630.8 809 630.5 810 630 811 629.2 812 627.9 813 625.8 814 622.7 815 618.1 816 612.1 817 604.2 818 594.2 819 582.2 820 568.7 821 554 822 538.9 823 524 824 509.9 825 496.7 826 483.5 827 466.9 828 440.3 829 395 830 326.8 831 244.9 832 175.2 833 147.6 834 175.7 835 245.9 836 328.3 837 397.1 838 442.9 839 470 840 487.1 841 500.8 842 514.5 843 529.1 844 544.5 845 560.2 846 575.3 847 589.4 848 601.9 849 612.4 850 620.8 851 627.2 852 631.7 853 634.9 854 636.9 855 638.2 856 638.9 857 639.4 858 639.7 859 639.8 860 640 861 640.1 862 640.2 863 640.3 864 640.4 865 640.5 866 640.6 867 640.7 868 640.8 869 640.9 870 641 871 641 872 641 873 641 874 641.1 875 641.1 876 641.1 877 641.1 878 641.1 879 641.1 880 641.1 881 641.1 882 641.2 883 641.2 884 641.2 885 641.2 886 641.2 887 641.2 888 641.2 889 641.2 890 641.3 891 641.3 892 641.3 893 641.3 894 641.3 895 641.3 896 641.3 897 641.4 898 641.4 899 641.4 900 641.4 901 641.4 902 641.4 903 641.4 904 641.4 905 641.5 906 641.5 907 641.5 908 641.5 909 641.5 910 641.5 911 641.5 912 641.5 913 641.6 914 641.6 915 641.6 916 641.6 917 641.6 918 641.6 919 641.6 920 641.7 921 641.7 922 641.7 923 641.7 924 641.7 925 641.7 926 641.7 927 641.7 928 641.7 929 641.7 930 641.7 931 641.6 932 641.5 933 641.4 934 641.2 935 640.9 936 640.6 937 640.3 938 639.9 939 639.7 940 639.5 941 639.4 942 639.5 943 639.7 944 640 945 640.4 946 640.7 947 641.1 948 641.4 949 641.6 950 641.8 951 641.9 952 642 953 642 954 642.1 955 642.1 956 642.1 957 642.1 958 642.1 959 642.2 960 642.2 961 642.2 962 642.2 963 642.2 964 642.2 965 642.2 966 642.3 967 642.3 968 642.3 969 642.3 970 642.3 971 642.3 972 642.3 973 642.3 974 642.4 975 642.4 976 642.4 977 642.4 978 642.4 979 642.4 980 642.4 981 642.4 982 642.5 983 642.5 984 642.5 985 642.5 986 642.5 987 642.5 988 642.5 989 642.6 990 642.6 991 642.6 992 642.6 993 642.6 994 642.6 995 642.6 996 642.6 997 642.7 998 642.7 999 642.7 1000 642.7 1001 642.7 1002 642.7 1003 642.7 1004 642.7 1005 642.8 1006 642.8 1007 642.8 1008 642.7 1009 642.6 1010 642.5 1011 642.1 1012 641.6 1013 640.8 1014 639.9 1015 638.8 1016 637.9 1017 637.2 1018 636.9 1019 637.2 1020 637.9 1021 638.9 1022 640 1023 641 1024 641.7 1025 642.3 1026 642.7 1027 642.9 1028 643 1029 643 1030 643.1 1031 643.1 1032 643.1 1033 643.1 1034 643.1 1035 643.1 1036 643 1037 642.8 1038 642.6 1039 642.2 1040 641.7 1041 641.2 1042 640.7 1043 640.4 1044 640.3 1045 640.4 1046 640.8 1047 641.3 1048 641.8 1049 642.3 1050 642.7 1051 643 1052 643.2 1053 643.3 1054 643.4 1055 643.4 1056 643.4 1057 643.4 1058 643.5 1059 643.5 1060 643.5 1061 643.5 1062 643.5 1063 643.5 1064 643.5 1065 643.5 1066 643.6 1067 643.6 1068 643.6 1069 643.6 1070 643.6 1071 643.6 1072 643.6 1073 643.6 1074 643.7 1075 643.7 1076 643.7 1077 643.7 1078 643.7 1079 643.7 1080 643.7 1081 643.8 1082 643.8 1083 643.8 1084 643.8 1085 643.8 1086 643.8 1087 643.8 1088 643.8 1089 643.9 1090 643.9 1091 643.9 1092 643.9 1093 643.9 1094 643.9 1095 643.9 1096 643.9 1097 644 1098 644 1099 644 1100 644 1101 643.9 1102 643.8 1103 643.3 1104 642.2 1105 639.7 1106 635 1107 627.2 1108 616.1 1109 602.6 1110 589 1111 578.8 1112 575 1113 578.8 1114 589 1115 602.6 1116 616.1 1117 627.3 1118 635 1119 639.7 1120 642.2 1121 643.3 1122 643.8 1123 644 1124 644 1125 644 1126 644 1127 644 1128 644 1129 644.1 1130 644.1 1131 644.1 1132 644.1 1133 644.1 1134 644.1 1135 644.1 1136 644.1 1137 644.1 1138 644.1 1139 644.1 1140 644.1 1141 644.1 1142 644.1 1143 644.1 1144 644.1 1145 644.1 1146 644.1 1147 644.1 1148 644.1 1149 644.1 1150 644.1 1151 644.1 1152 644.1 1153 644.1 1154 644.1 1155 644.1 1156 644.1 1157 644.1 1158 644.1 1159 644.1 1160 644.1 1161 644.1 1162 644.1 1163 644.1 1164 644.1 1165 644.1 1166 644.1 1167 644.1 1168 644.1 1169 644.1 1170 644.1 1171 644.1 1172 644.1 1173 644.1 1174 644.1 1175 644.1 1176 644.1 1177 644.1 1178 644.1 1179 644.1 1180 644.1 1181 644.1 1182 644.1 1183 644.1 1184 644.1 1185 644.2 1186 644.2 1187 644.2 1188 644.2 1189 644.2 1190 644.2 1191 644.2 1192 644.2 1193 644.2 1194 644.2 1195 644.2 1196 644.2 1197 644.2 1198 644.2 1199 644.2 1200 644.2 1201 644.2 1202 644.2 1203 644.2 1204 644.2 1205 644.2 1206 644.2 1207 644.2 1208 644.2 1209 644.2 1210 644.2 1211 644.2 1212 644.2 1213 644.2 1214 644.2 1215 644.2 1216 644.2 1217 644.2 1218 644.2 1219 644.2 1220 644.2 1221 644.2 1222 644.2 1223 644.2 1224 644.2 1225 644.2 1226 644.2 1227 644.2 1228 644.2 1229 644.2 1230 644.1 1231 644.1 1232 644 1233 643.9 1234 643.7 1235 643.5 1236 643.3 1237 643 1238 642.7 1239 642.4 1240 642.1 1241 641.9 1242 641.8 1243 641.8 1244 641.8 1245 641.9 1246 642.2 1247 642.4 1248 642.7 1249 643 1250 643.3 1251 643.5 1252 643.7 1253 643.9 1254 644 1255 644.1 1256 644.2 1257 644.2 1258 644.2 1259 644.3 1260 644.3 1261 644.3 1262 644.3 1263 644.3 1264 644.3 1265 644.3 1266 644.3 1267 644.3 1268 644.3 1269 644.3 1270 644.3 1271 644.3 1272 644.3 1273 644.3 1274 644.3 1275 644.3 1276 644.3 1277 644.3 1278 644.3 1279 644.3 1280 644.3 1281 644.3 1282 644.3 1283 644.3 1284 644.3 1285 644.3 1286 644.3 1287 644.3 1288 644.3 1289 644.3 1290 644.3 1291 644.3 1292 644.3 1293 644.3 1294 644.3 1295 644.3 1296 644.4 1297 644.4 1298 644.4 1299 644.4 1300 644.4 1301 644.4 1302 644.4 1303 644.4 1304 644.4 1305 644.4 1306 644.4 1307 644.4 1308 644.4 1309 644.4 1310 644.4 1311 644.4 1312 644.4 1313 644.4 1314 644.4 1315 644.4 1316 644.4 1317 644.4 1318 644.4 1319 644.4 1320 644.4 1321 644.4 1322 644.4 1323 644.4 1324 644.4 1325 644.4 1326 644.4 1327 644.4 1328 644.4 1329 644.4 1330 644.4 1331 644.4 1332 644.4 1333 644.4 1334 644.4 1335 644.4 1336 644.4 1337 644.4 1338 644.4 1339 644.4 1340 644.4 1341 644.2 1342 643.9 1343 643.1 1344 641.4 1345 638.2 1346 632.5 1347 623.4 1348 610.6 1349 594.4 1350 576.7 1351 560.4 1352 548.7 1353 544.5 1354 548.7 1355 560.4 1356 576.7 1357 594.5 1358 610.6 1359 623.4 1360 632.5 1361 638.2 1362 641.5 1363 643.2 1364 643.9 1365 644.3 1366 644.4 1367 644.5 1368 644.5 1369 644.5 1370 644.5 1371 644.5 1372 644.5 1373 644.5 1374 644.5 1375 644.5 1376 644.5 1377 644.5 1378 644.5 1379 644.5 1380 644.5 1381 644.5 1382 644.5 1383 644.5 1384 644.5 1385 644.5 1386 644.5 1387 644.5 1388 644.6 1389 644.6 1390 644.6 1391 644.6 1392 644.6 1393 644.6 1394 644.6 1395 644.6 1396 644.6 1397 644.6 1398 644.6 1399 644.6 1400 644.6 1401 644.6 1402 644.7 1403 644.7 1404 644.7 1405 644.7 1406 644.7 1407 644.7 1408 644.7 1409 644.7 1410 644.6 1411 644.5 1412 644.2 1413 643.6 1414 642.5 1415 640.6 1416 637.7 1417 633.9 1418 629.5 1419 624.9 1420 621.2 1421 619.1 1422 619.1 1423 621.2 1424 625 1425 629.5 1426 634 1427 637.8 1428 640.7 1429 642.6 1430 643.7 1431 644.3 1432 644.6 1433 644.8 1434 644.8 1435 644.9 1436 644.9 1437 644.9 1438 644.8 1439 644.7 1440 644.5 1441 644 1442 643 1443 641.2 1444 638.4 1445 634.5 1446 629.5 1447 624 1448 618.9 1449 615.3 1450 614 1451 615.3 1452 618.9 1453 624 1454 629.5 1455 634.5 1456 638.5 1457 641.3 1458 643.1 1459 644.1 1460 644.7 1461 644.9 1462 645 1463 645.1 1464 645.1 1465 645.1 1466 645.1 1467 645.1 1468 645.1 1469 645.1 1470 645.1 1471 645.1 1472 645.1 1473 645.2 1474 645.2 1475 645.2 1476 645.2 1477 645.2 1478 645.2 1479 645.2 1480 645.2 1481 645.2 1482 645.2 1483 645.2 1484 645.2 1485 645.2 1486 645.2 1487 645.3 1488 645.3 1489 645.3 1490 645.3 1491 645.3 1492 645.3 1493 645.3 1494 645.3 1495 645.3 1496 645.3 1497 645.3 1498 645.3 1499 645.3 1500 645.3 1501 645.3 1502 645.4 1503 645.4 1504 645.4 1505 645.4 1506 645.4 1507 645.4 1508 645.4 1509 645.4 1510 645.4 1511 645.4 1512 645.4 1513 645.4 1514 645.4 1515 645.4 1516 645.5 1517 645.5 1518 645.5 1519 645.5 1520 645.5 1521 645.5 1522 645.5 1523 645.5 1524 645.5 1525 645.5 1526 645.5 1527 645.4 1528 645.3 1529 645 1530 644.4 1531 643.5 1532 642.1 1533 640.2 1534 637.9 1535 635.7 1536 633.8 1537 632.7 1538 632.7 1539 633.8 1540 635.7 1541 638 1542 640.2 1543 642.1 1544 643.6 1545 644.5 1546 645.1 1547 645.4 1548 645.6 1549 645.6 1550 645.7 1551 645.7 1552 645.7 1553 645.7 1554 645.7 1555 645.7 1556 645.7 1557 645.7 1558 645.7 1559 645.8 1560 645.8 1561 645.8 1562 645.8 1563 645.8 1564 645.8 1565 645.8 1566 645.8 1567 645.8 1568 645.8 1569 645.8 1570 645.8 1571 645.8 1572 645.8 1573 645.9 1574 645.9 1575 645.9 1576 645.9 1577 645.9 1578 645.9 1579 645.9 1580 645.9 1581 645.9 1582 645.9 1583 645.9 1584 645.9 1585 645.9 1586 645.9 1587 646 1588 646 1589 646 1590 646 1591 646 1592 646 1593 646 1594 646 1595 646 1596 646 1597 646 1598 646 1599 646 1600 646 1601 646.1 1602 646.1 1603 646.1 1604 646.1 1605 646.1 1606 646.1 1607 646.1 1608 646.1 1609 646.1 1610 646.1 1611 646.1 1612 646.1 1613 646.1 1614 646.1 1615 646.1 1616 646.2 1617 646.2 1618 646.2 1619 646.2 1620 646.2 1621 646.2 1622 646.2 1623 646.2 1624 646.2 1625 646.2 1626 646.2 1627 646.2 1628 646.2 1629 646.2 1630 646.3 1631 646.3 1632 646.3 1633 646.3 1634 646.3 1635 646.3 1636 646.3 1637 646.3 1638 646.3 1639 646.3 1640 646.3 1641 646.3 1642 646.3 1643 646.3 1644 646.4 1645 646.4 1646 646.4 1647 646.4 1648 646.4 1649 646.4 1650 646.4 1651 646.4 1652 646.4 1653 646.4 1654 646.4 1655 646.4 1656 646.4 1657 646.4 1658 646.3 1659 646.1 1660 645.7 1661 645 1662 644 1663 642.4 1664 640.5 1665 638.4 1666 636.4 1667 635 1668 634.5 1669 635 1670 636.4 1671 638.4 1672 640.5 1673 642.5 1674 644 1675 645.1 1676 645.8 1677 646.2 1678 646.4 1679 646.5 1680 646.6 1681 646.6 1682 646.6 1683 646.6 1684 646.6 1685 646.6 1686 646.6 1687 646.7 1688 646.7 1689 646.7 1690 646.7 1691 646.7 1692 646.7 1693 646.7 1694 646.7 1695 646.7 1696 646.7 1697 646.7 1698 646.7 1699 646.7 1700 646.7 1701 646.8 1702 646.8 1703 646.8 1704 646.8 1705 646.8 1706 646.8 1707 646.8 1708 646.8 1709 646.8 1710 646.8 1711 646.8 1712 646.8 1713 646.8 1714 646.8 1715 646.9 1716 646.9 1717 646.9 1718 646.9 1719 646.9 1720 646.9 1721 646.9 1722 646.9 1723 646.9 1724 646.9 1725 646.9 1726 646.9 1727 646.9 1728 646.9 1729 646.9 1730 647 1731 647 1732 647 1733 647 1734 647 1735 647 1736 647 1737 647 1738 647 1739 647 1740 647 1741 647 1742 647 1743 647 1744 647.1 1745 647.1 1746 647.1 1747 647.1 1748 647.1 1749 647.1 1750 647.1 1751 647.1 1752 647.1 1753 647.1 1754 647.1 1755 647.1 1756 647.1 1757 647.1 1758 647.2 1759 647.2 1760 647.2 1761 647.2 1762 647.2 1763 647.2 1764 647.2 1765 647.2 1766 647.2 1767 647.2 1768 647.2 1769 647.2 1770 647.2 1771 647.2 1772 647.3 1773 647.3 1774 647.3 1775 647.3 1776 647.3 1777 647.3 1778 647.3 1779 647.3 1780 647.3 1781 647.3 1782 647.3 1783 647.3 1784 647.3 1785 647.3 1786 647.3 1787 647.4 1788 647.4 1789 647.4 1790 647.4 1791 647.4 1792 647.4 1793 647.4 1794 647.4 1795 647.4 1796 647.4 1797 647.4 1798 647.4 1799 647.4 1800 647.4 1801 647.5 1802 647.5 1803 647.5 1804 647.5 1805 647.5 1806 647.5 1807 647.5 1808 647.5 1809 647.5 1810 647.5 1811 647.5 1812 647.5 1813 647.5 1814 647.5 1815 647.6 1816 647.6 1817 647.6 1818 647.6 1819 647.6 1820 647.6 1821 647.6 1822 647.6 1823 647.6 1824 647.5 1825 647.3 1826 647 1827 646.4 1828 645.3 1829 643.4 1830 640.6 1831 636.6 1832 631.5 1833 625.7 1834 619.8 1835 614.6 1836 611 1837 609.7 1838 611 1839 614.6 1840 619.8 1841 625.8 1842 631.6 1843 636.7 1844 640.7 1845 643.5 1846 645.4 1847 646.5 1848 647.2 1849 647.5 1850 647.7 1851 647.8 1852 647.8 1853 647.8 1854 647.8 1855 647.8 1856 647.8 1857 647.8 1858 647.9 1859 647.9 1860 647.9 1861 647.9 1862 647.9 1863 647.9 1864 647.9 1865 647.9 1866 647.9 1867 647.9 1868 647.9 1869 647.9 1870 647.9 1871 647.9 1872 648 1873 648 1874 648 1875 648 1876 648 1877 648 1878 648 1879 648 1880 648 1881 648 1882 648 1883 648 1884 648 1885 648 1886 648.1 1887 648.1 1888 648.1 1889 648.1 1890 648.1 1891 648.1 1892 648.1 1893 648.1 1894 648 1895 648 1896 647.9 1897 647.7 1898 647.5 1899 647.1 1900 646.7 1901 646.2 1902 645.6 1903 645.1 1904 644.6 1905 644.3 1906 644.2 1907 644.3 1908 644.6 1909 645.1 1910 645.7 1911 646.2 1912 646.8 1913 647.2 1914 647.6 1915 647.8 1916 648 1917 648.1 1918 648.2 1919 648.2 1920 648.3 1921 648.3 1922 648.3 1923 648.3 1924 648.3 1925 648.3 1926 648.3 1927 648.3 1928 648.3 1929 648.4 1930 648.4 1931 648.4 1932 648.4 1933 648.4 1934 648.4 1935 648.4 1936 648.4 1937 648.4 1938 648.4 1939 648.4 1940 648.4 1941 648.4 1942 648.4 1943 648.5 1944 648.5 1945 648.5 1946 648.5" fill="none" stroke="#1414ff" stroke-width="6.5" stroke-linejoin="round"/><g fill="#686868" stroke="#686868"><line x1="324.6" y1="586.5" x2="324.6" y2="613.5" stroke-width="8"/><line x1="312.9" y1="593.2" x2="336.3" y2="606.8" stroke-width="8"/><line x1="336.3" y1="593.2" x2="312.9" y2="606.8" stroke-width="8"/><circle cx="324.6" cy="600.0" r="9.7" stroke="none"/></g><g fill="#686868" stroke="#686868"><line x1="572.7" y1="470.5" x2="572.7" y2="497.5" stroke-width="8"/><line x1="561.0" y1="477.2" x2="584.4" y2="490.8" stroke-width="8"/><line x1="584.4" y1="477.2" x2="561.0" y2="490.8" stroke-width="8"/><circle cx="572.7" cy="484.0" r="9.7" stroke="none"/></g><g fill="#686868" stroke="#686868"><line x1="837.0" y1="99.5" x2="837.0" y2="126.5" stroke-width="8"/><line x1="825.3" y1="106.2" x2="848.7" y2="119.8" stroke-width="8"/><line x1="848.7" y1="106.2" x2="825.3" y2="119.8" stroke-width="8"/><circle cx="837.0" cy="113.0" r="9.7" stroke="none"/></g><g fill="#686868" stroke="#686868"><line x1="1115.0" y1="537.5" x2="1115.0" y2="564.5" stroke-width="8"/><line x1="1103.3" y1="544.2" x2="1126.7" y2="557.8" stroke-width="8"/><line x1="1126.7" y1="544.2" x2="1103.3" y2="557.8" stroke-width="8"/><circle cx="1115.0" cy="551.0" r="9.7" stroke="none"/></g><g fill="#686868" stroke="#686868"><line x1="1338.0" y1="506.0" x2="1338.0" y2="533.0" stroke-width="8"/><line x1="1326.3" y1="512.8" x2="1349.7" y2="526.2" stroke-width="8"/><line x1="1349.7" y1="512.8" x2="1326.3" y2="526.2" stroke-width="8"/><circle cx="1338.0" cy="519.5" r="9.7" stroke="none"/></g><g fill="#686868" stroke="#686868"><line x1="1456.0" y1="574.5" x2="1456.0" y2="601.5" stroke-width="8"/><line x1="1444.3" y1="581.2" x2="1467.7" y2="594.8" stroke-width="8"/><line x1="1467.7" y1="581.2" x2="1444.3" y2="594.8" stroke-width="8"/><circle cx="1456.0" cy="588.0" r="9.7" stroke="none"/></g><g fill="#686868" stroke="#686868"><line x1="1537.5" y1="601.5" x2="1537.5" y2="628.5" stroke-width="8"/><line x1="1525.8" y1="608.2" x2="1549.2" y2="621.8" stroke-width="8"/><line x1="1549.2" y1="608.2" x2="1525.8" y2="621.8" stroke-width="8"/><circle cx="1537.5" cy="615.0" r="9.7" stroke="none"/></g><g fill="#686868" stroke="#686868"><line x1="1672.0" y1="601.5" x2="1672.0" y2="628.5" stroke-width="8"/><line x1="1660.3" y1="608.2" x2="1683.7" y2="621.8" stroke-width="8"/><line x1="1683.7" y1="608.2" x2="1660.3" y2="621.8" stroke-width="8"/><circle cx="1672.0" cy="615.0" r="9.7" stroke="none"/></g><g fill="#686868" stroke="#686868"><line x1="1837.5" y1="570.0" x2="1837.5" y2="597.0" stroke-width="8"/><line x1="1825.8" y1="576.8" x2="1849.2" y2="590.2" stroke-width="8"/><line x1="1849.2" y1="576.8" x2="1825.8" y2="590.2" stroke-width="8"/><circle cx="1837.5" cy="583.5" r="9.7" stroke="none"/></g><path d="M628.5 553.0 L641.5 570.0 L628.5 587.0 L615.5 570.0 Z" fill="#111"/><circle cx="628.5" cy="570.0" r="10.1" fill="#111"/><path d="M727.0 581.0 L740.0 598.0 L727.0 615.0 L714.0 598.0 Z" fill="#111"/><circle cx="727.0" cy="598.0" r="10.1" fill="#111"/><path d="M1018.0 592.0 L1031.0 609.0 L1018.0 626.0 L1005.0 609.0 Z" fill="#111"/><circle cx="1018.0" cy="609.0" r="10.1" fill="#111"/><path d="M626.0 859.6 L639.0 876.6 L626.0 893.6 L613.0 876.6 Z" fill="#111"/><circle cx="626.0" cy="876.6" r="10.1" fill="#111"/><path d="M729.0 868.0 L742.0 885.0 L729.0 902.0 L716.0 885.0 Z" fill="#111"/><circle cx="729.0" cy="885.0" r="10.1" fill="#111"/><path d="M632.0 1107.0 L645.0 1124.0 L632.0 1141.0 L619.0 1124.0 Z" fill="#111"/><circle cx="632.0" cy="1124.0" r="10.1" fill="#111"/><circle cx="1422.0" cy="591.0" r="11.5" fill="#111"/><circle cx="1427.0" cy="882.0" r="11.5" fill="#111"/><circle cx="1427.0" cy="1119.0" r="11.5" fill="#111"/><circle cx="1430.0" cy="1379.0" r="11.5" fill="#111"/><rect x="165" y="48" width="1775" height="6" fill="#ececec"/><rect x="159" y="54" width="6" height="1437" fill="#555"/><rect x="165" y="60" width="7" height="1425" fill="#6c6c6c"/><rect x="159" y="54" width="1794" height="6" fill="#333"/><rect x="172" y="60" width="1768" height="6" fill="#bcbcbc"/><rect x="1947" y="54" width="6" height="1437" fill="#2a2a2a"/><rect x="1940" y="66" width="7" height="1419" fill="#cdcdcd"/><rect x="1953" y="60" width="6" height="1431" fill="#e8e8e8"/><rect x="159" y="1485" width="1794" height="6" fill="#222"/><rect x="172" y="1479" width="1768" height="6" fill="#e2e2e2"/><rect x="159" y="1491" width="1794" height="6" fill="#d6d6d6"/><rect x="310.5" y="1467" width="6" height="18" fill="#222"/><rect x="459.0" y="1454" width="6" height="31" fill="#222"/><rect x="607.5" y="1467" width="6" height="18" fill="#222"/><rect x="756.0" y="1454" width="6" height="31" fill="#222"/><rect x="904.5" y="1467" width="6" height="18" fill="#222"/><rect x="1053.0" y="1454" width="6" height="31" fill="#222"/><rect x="1201.5" y="1467" width="6" height="18" fill="#222"/><rect x="1350.0" y="1454" width="6" height="31" fill="#222"/><rect x="1498.5" y="1467" width="6" height="18" fill="#222"/><rect x="1647.0" y="1454" width="6" height="31" fill="#222"/><rect x="1795.5" y="1467" width="6" height="18" fill="#222"/><text x="110.1" y="1597.0" font-size="96.0" textLength="108.2" lengthAdjust="spacingAndGlyphs" fill="#111">20</text><text x="406.3" y="1597.0" font-size="96.0" textLength="107.5" lengthAdjust="spacingAndGlyphs" fill="#111">30</text><text x="700.7" y="1597.0" font-size="96.0" textLength="113.3" lengthAdjust="spacingAndGlyphs" fill="#111">40</text><text x="1003.9" y="1597.0" font-size="96.0" textLength="106.9" lengthAdjust="spacingAndGlyphs" fill="#111">50</text><text x="1301.2" y="1597.0" font-size="96.0" textLength="106.1" lengthAdjust="spacingAndGlyphs" fill="#111">60</text><text x="1597.7" y="1597.0" font-size="96.0" textLength="105.7" lengthAdjust="spacingAndGlyphs" fill="#111">70</text><text x="1894.8" y="1597.0" font-size="96.0" textLength="107.5" lengthAdjust="spacingAndGlyphs" fill="#111">80</text><text x="772.3" y="1703.0" font-size="104.0" textLength="62.9" lengthAdjust="spacingAndGlyphs" fill="#111">2</text><text x="835.0" y="1703.0" font-size="92.0" textLength="54.1" lengthAdjust="spacingAndGlyphs" fill="#111">θ</text><text x="920.5" y="1703.0" font-size="104.0" textLength="32.0" lengthAdjust="spacingAndGlyphs" fill="#111">(</text><text x="956.8" y="1703.0" font-size="104.0" textLength="344.8" lengthAdjust="spacingAndGlyphs" fill="#111">degree</text><text x="1303.5" y="1703.0" font-size="104.0" textLength="30.1" lengthAdjust="spacingAndGlyphs" fill="#111">)</text><text transform="translate(118,1090.3) rotate(-90)" x="0" y="0" font-size="110" textLength="706.2" lengthAdjust="spacingAndGlyphs" fill="#111">Intensity (a.u.)</text><g fill="#5e5e5e" stroke="#5e5e5e"><line x1="256.0" y1="112.0" x2="256.0" y2="144.0" stroke-width="8"/><line x1="242.1" y1="120.0" x2="269.9" y2="136.0" stroke-width="8"/><line x1="269.9" y1="120.0" x2="242.1" y2="136.0" stroke-width="8"/><circle cx="256.0" cy="128.0" r="11.5" stroke="none"/></g><path d="M262.0 221.0 L277.0 240.0 L262.0 259.0 L247.0 240.0 Z" fill="#111"/><circle cx="262.0" cy="240.0" r="11.7" fill="#111"/><circle cx="259.4" cy="343.4" r="13.0" fill="#111"/><text x="299.2" y="160.0" font-size="81.0" textLength="170.2" lengthAdjust="spacingAndGlyphs" fill="#111">MgB</text><text x="469.3" y="196.0" font-size="52.0" textLength="30.2" lengthAdjust="spacingAndGlyphs" fill="#555">2</text><text x="305.2" y="260.0" font-size="81.0" textLength="171.2" lengthAdjust="spacingAndGlyphs" fill="#111">MgB</text><text x="471.7" y="290.6" font-size="50.0" textLength="32.7" lengthAdjust="spacingAndGlyphs" fill="#444">4</text><text x="299.4" y="365.0" font-size="83.0" textLength="175.5" lengthAdjust="spacingAndGlyphs" fill="#111">MgO</text><text x="1017.9" y="465.0" font-size="87.0" textLength="260.9" lengthAdjust="spacingAndGlyphs" fill="#111">Ex situ</text><text x="1304.5" y="467.5" font-size="87.0" textLength="34.1" lengthAdjust="spacingAndGlyphs" fill="#222">-</text><text x="1361.4" y="465.0" font-size="87.0" textLength="138.9" lengthAdjust="spacingAndGlyphs" fill="#222">850</text><ellipse cx="1534.5" cy="406.0" rx="9.5" ry="11.5" fill="none" stroke="#777" stroke-width="6"/><text x="1549.0" y="465.0" font-size="87.0" textLength="57.0" lengthAdjust="spacingAndGlyphs" fill="#222">C</text><text x="1629.6" y="467.5" font-size="87.0" textLength="32.7" lengthAdjust="spacingAndGlyphs" fill="#222">-</text><text x="1660.8" y="465.0" font-size="82.0" textLength="75.8" lengthAdjust="spacingAndGlyphs" fill="#222" font-family="NanumGothic, 'Liberation Sans', sans-serif">1</text><text x="1718.9" y="465.0" font-size="87.0" textLength="42.8" lengthAdjust="spacingAndGlyphs" fill="#222">5</text><text x="1784.4" y="465.0" font-size="87.0" textLength="136.1" lengthAdjust="spacingAndGlyphs" fill="#222">min</text><text x="1023.9" y="790.0" font-size="87.0" textLength="260.9" lengthAdjust="spacingAndGlyphs" fill="#111">Ex situ</text><text x="1310.5" y="792.5" font-size="87.0" textLength="34.1" lengthAdjust="spacingAndGlyphs" fill="#222">-</text><text x="1367.4" y="790.0" font-size="87.0" textLength="138.9" lengthAdjust="spacingAndGlyphs" fill="#222">850</text><ellipse cx="1540.5" cy="732.0" rx="9.5" ry="11.5" fill="none" stroke="#777" stroke-width="6"/><text x="1555.0" y="790.0" font-size="87.0" textLength="57.0" lengthAdjust="spacingAndGlyphs" fill="#222">C</text><text x="1635.6" y="792.5" font-size="87.0" textLength="32.7" lengthAdjust="spacingAndGlyphs" fill="#222">-</text><text x="1667.5" y="790.0" font-size="82.0" textLength="74.7" lengthAdjust="spacingAndGlyphs" fill="#222" font-family="NanumGothic, 'Liberation Sans', sans-serif">1</text><text x="1725.0" y="790.0" font-size="87.0" textLength="43.0" lengthAdjust="spacingAndGlyphs" fill="#222">0</text><text x="1791.4" y="790.0" font-size="87.0" textLength="136.1" lengthAdjust="spacingAndGlyphs" fill="#222">min</text><text x="1023.9" y="1059.0" font-size="87.0" textLength="260.9" lengthAdjust="spacingAndGlyphs" fill="#111">Ex situ</text><text x="1310.5" y="1061.5" font-size="87.0" textLength="34.1" lengthAdjust="spacingAndGlyphs" fill="#222">-</text><text x="1367.4" y="1059.0" font-size="87.0" textLength="138.9" lengthAdjust="spacingAndGlyphs" fill="#222">850</text><ellipse cx="1540.5" cy="1002.0" rx="9.5" ry="11.5" fill="none" stroke="#777" stroke-width="6"/><text x="1555.0" y="1059.0" font-size="87.0" textLength="57.0" lengthAdjust="spacingAndGlyphs" fill="#222">C</text><text x="1635.6" y="1061.5" font-size="87.0" textLength="32.7" lengthAdjust="spacingAndGlyphs" fill="#222">-</text><text x="1687.5" y="1059.0" font-size="87.0" textLength="42.7" lengthAdjust="spacingAndGlyphs" fill="#222">5</text><text x="1754.4" y="1059.0" font-size="87.0" textLength="135.0" lengthAdjust="spacingAndGlyphs" fill="#222">min</text><text x="1023.9" y="1297.0" font-size="87.0" textLength="260.9" lengthAdjust="spacingAndGlyphs" fill="#111">Ex situ</text><text x="1310.5" y="1299.5" font-size="87.0" textLength="34.1" lengthAdjust="spacingAndGlyphs" fill="#222">-</text><text x="1367.4" y="1297.0" font-size="87.0" textLength="138.9" lengthAdjust="spacingAndGlyphs" fill="#222">850</text><ellipse cx="1540.5" cy="1240.0" rx="9.5" ry="11.5" fill="none" stroke="#777" stroke-width="6"/><text x="1555.0" y="1297.0" font-size="87.0" textLength="57.0" lengthAdjust="spacingAndGlyphs" fill="#222">C</text><text x="1635.6" y="1299.5" font-size="87.0" textLength="32.7" lengthAdjust="spacingAndGlyphs" fill="#222">-</text><text x="1669.7" y="1297.0" font-size="82.0" textLength="64.6" lengthAdjust="spacingAndGlyphs" fill="#222" font-family="NanumGothic, 'Liberation Sans', sans-serif">1</text><text x="1748.4" y="1297.0" font-size="87.0" textLength="135.0" lengthAdjust="spacingAndGlyphs" fill="#222">min</text></svg>
</body></html>
